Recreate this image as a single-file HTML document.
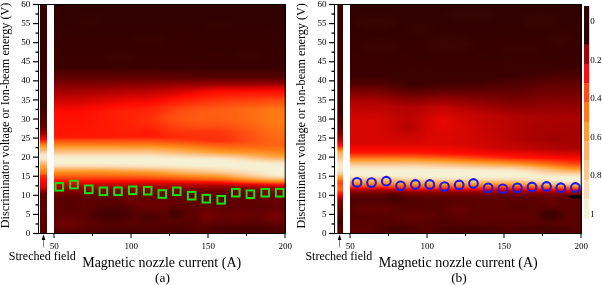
<!DOCTYPE html>
<html><head><meta charset="utf-8"><title>Figure</title>
<style>html,body{margin:0;padding:0;background:#fff}svg{display:block;font-family:"Liberation Serif",serif;fill:#000}</style>
</head><body>
<svg width="602" height="285" viewBox="0 0 602 285">
<defs>
<filter id="mb" x="-10%" y="-10%" width="120%" height="120%" color-interpolation-filters="sRGB"><feGaussianBlur stdDeviation="3.2"/></filter>
<filter id="hb" x="-5%" y="-5%" width="110%" height="110%" color-interpolation-filters="sRGB"><feGaussianBlur stdDeviation="4 0.6"/></filter>
<linearGradient id="am0" x1="0" y1="4" x2="0" y2="234" gradientUnits="userSpaceOnUse"><stop offset="0.0000" stop-color="#300000"/><stop offset="0.2739" stop-color="#3b0000"/><stop offset="0.3348" stop-color="#700000"/><stop offset="0.3733" stop-color="#9c0000"/><stop offset="0.4671" stop-color="#ff0a00"/><stop offset="0.4696" stop-color="#ff0c00"/><stop offset="0.5783" stop-color="#ff1703"/><stop offset="0.5928" stop-color="#ff4a10"/><stop offset="0.6043" stop-color="#ff6813"/><stop offset="0.6097" stop-color="#ff7a14"/><stop offset="0.6217" stop-color="#ff982b"/><stop offset="0.6236" stop-color="#ff9e30"/><stop offset="0.6350" stop-color="#ffb468"/><stop offset="0.6465" stop-color="#fcc890"/><stop offset="0.6522" stop-color="#fcd2a2"/><stop offset="0.6572" stop-color="#fcdcb4"/><stop offset="0.6652" stop-color="#f7eccc"/><stop offset="0.6704" stop-color="#f6f0d2"/><stop offset="0.6783" stop-color="#f7f2d6"/><stop offset="0.6913" stop-color="#f6f0d2"/><stop offset="0.6913" stop-color="#f6f0d2"/><stop offset="0.7043" stop-color="#fbdeb7"/><stop offset="0.7049" stop-color="#fcdcb4"/><stop offset="0.7114" stop-color="#fcc890"/><stop offset="0.7130" stop-color="#fdc386"/><stop offset="0.7174" stop-color="#ffb468"/><stop offset="0.7174" stop-color="#ffb468"/><stop offset="0.7267" stop-color="#ff9e30"/><stop offset="0.7304" stop-color="#ff9025"/><stop offset="0.7398" stop-color="#ff7a14"/><stop offset="0.7555" stop-color="#ff4a10"/><stop offset="0.7696" stop-color="#ff1002"/><stop offset="0.7720" stop-color="#ff0a00"/><stop offset="0.7913" stop-color="#b00200"/><stop offset="0.8005" stop-color="#9c0000"/><stop offset="0.8130" stop-color="#7e0000"/><stop offset="0.8435" stop-color="#5d0000"/><stop offset="0.9652" stop-color="#5d0000"/><stop offset="0.9957" stop-color="#500000"/><stop offset="1.0000" stop-color="#500000"/></linearGradient>
<linearGradient id="am1" x1="0" y1="4" x2="0" y2="234" gradientUnits="userSpaceOnUse"><stop offset="0.0000" stop-color="#300000"/><stop offset="0.2739" stop-color="#3b0000"/><stop offset="0.3348" stop-color="#700000"/><stop offset="0.3733" stop-color="#9c0000"/><stop offset="0.4671" stop-color="#ff0a00"/><stop offset="0.4696" stop-color="#ff0c00"/><stop offset="0.5783" stop-color="#ff1703"/><stop offset="0.5928" stop-color="#ff4a10"/><stop offset="0.6043" stop-color="#ff6813"/><stop offset="0.6097" stop-color="#ff7a14"/><stop offset="0.6217" stop-color="#ff982b"/><stop offset="0.6236" stop-color="#ff9e30"/><stop offset="0.6350" stop-color="#ffb468"/><stop offset="0.6465" stop-color="#fcc890"/><stop offset="0.6522" stop-color="#fcd2a2"/><stop offset="0.6572" stop-color="#fcdcb4"/><stop offset="0.6652" stop-color="#f7eccc"/><stop offset="0.6704" stop-color="#f6f0d2"/><stop offset="0.6783" stop-color="#f7f2d6"/><stop offset="0.6913" stop-color="#f6f0d2"/><stop offset="0.6913" stop-color="#f6f0d2"/><stop offset="0.7043" stop-color="#fbdeb7"/><stop offset="0.7049" stop-color="#fcdcb4"/><stop offset="0.7114" stop-color="#fcc890"/><stop offset="0.7130" stop-color="#fdc386"/><stop offset="0.7174" stop-color="#ffb468"/><stop offset="0.7174" stop-color="#ffb468"/><stop offset="0.7267" stop-color="#ff9e30"/><stop offset="0.7304" stop-color="#ff9025"/><stop offset="0.7398" stop-color="#ff7a14"/><stop offset="0.7555" stop-color="#ff4a10"/><stop offset="0.7696" stop-color="#ff1002"/><stop offset="0.7720" stop-color="#ff0a00"/><stop offset="0.7913" stop-color="#b00200"/><stop offset="0.8005" stop-color="#9c0000"/><stop offset="0.8130" stop-color="#7e0000"/><stop offset="0.8435" stop-color="#5d0000"/><stop offset="0.9652" stop-color="#5d0000"/><stop offset="0.9957" stop-color="#500000"/><stop offset="1.0000" stop-color="#500000"/></linearGradient>
<linearGradient id="am2" x1="0" y1="4" x2="0" y2="234" gradientUnits="userSpaceOnUse"><stop offset="0.0000" stop-color="#300000"/><stop offset="0.2739" stop-color="#3b0000"/><stop offset="0.3348" stop-color="#700000"/><stop offset="0.3732" stop-color="#9c0000"/><stop offset="0.4670" stop-color="#ff0a00"/><stop offset="0.4696" stop-color="#ff0c00"/><stop offset="0.5783" stop-color="#ff1703"/><stop offset="0.5928" stop-color="#ff4a10"/><stop offset="0.6043" stop-color="#ff6813"/><stop offset="0.6097" stop-color="#ff7a14"/><stop offset="0.6217" stop-color="#ff982b"/><stop offset="0.6236" stop-color="#ff9e30"/><stop offset="0.6350" stop-color="#ffb468"/><stop offset="0.6465" stop-color="#fcc890"/><stop offset="0.6522" stop-color="#fcd2a2"/><stop offset="0.6572" stop-color="#fcdcb4"/><stop offset="0.6652" stop-color="#f7eccc"/><stop offset="0.6704" stop-color="#f6f0d2"/><stop offset="0.6783" stop-color="#f7f2d6"/><stop offset="0.6913" stop-color="#f6f0d2"/><stop offset="0.6913" stop-color="#f6f0d2"/><stop offset="0.7043" stop-color="#fbdeb7"/><stop offset="0.7049" stop-color="#fcdcb4"/><stop offset="0.7114" stop-color="#fcc890"/><stop offset="0.7130" stop-color="#fdc386"/><stop offset="0.7174" stop-color="#ffb468"/><stop offset="0.7174" stop-color="#ffb468"/><stop offset="0.7267" stop-color="#ff9e30"/><stop offset="0.7304" stop-color="#ff9025"/><stop offset="0.7398" stop-color="#ff7a14"/><stop offset="0.7555" stop-color="#ff4a10"/><stop offset="0.7696" stop-color="#ff1002"/><stop offset="0.7720" stop-color="#ff0a00"/><stop offset="0.7913" stop-color="#b00200"/><stop offset="0.8005" stop-color="#9c0000"/><stop offset="0.8130" stop-color="#7e0000"/><stop offset="0.8435" stop-color="#5d0000"/><stop offset="0.9652" stop-color="#5d0000"/><stop offset="0.9957" stop-color="#500000"/><stop offset="1.0000" stop-color="#500000"/></linearGradient>
<linearGradient id="am3" x1="0" y1="4" x2="0" y2="234" gradientUnits="userSpaceOnUse"><stop offset="0.0000" stop-color="#300000"/><stop offset="0.2739" stop-color="#3b0000"/><stop offset="0.3348" stop-color="#700000"/><stop offset="0.3731" stop-color="#9c0000"/><stop offset="0.4667" stop-color="#ff0a00"/><stop offset="0.4696" stop-color="#ff0c00"/><stop offset="0.5783" stop-color="#ff1703"/><stop offset="0.5928" stop-color="#ff4a10"/><stop offset="0.6043" stop-color="#ff6813"/><stop offset="0.6097" stop-color="#ff7a14"/><stop offset="0.6217" stop-color="#ff982b"/><stop offset="0.6236" stop-color="#ff9e30"/><stop offset="0.6350" stop-color="#ffb468"/><stop offset="0.6465" stop-color="#fcc890"/><stop offset="0.6522" stop-color="#fcd2a2"/><stop offset="0.6572" stop-color="#fcdcb4"/><stop offset="0.6652" stop-color="#f7eccc"/><stop offset="0.6704" stop-color="#f6f0d2"/><stop offset="0.6783" stop-color="#f7f2d6"/><stop offset="0.6913" stop-color="#f6f0d2"/><stop offset="0.6913" stop-color="#f6f0d2"/><stop offset="0.7043" stop-color="#fbdeb7"/><stop offset="0.7049" stop-color="#fcdcb4"/><stop offset="0.7114" stop-color="#fcc890"/><stop offset="0.7130" stop-color="#fdc386"/><stop offset="0.7174" stop-color="#ffb468"/><stop offset="0.7174" stop-color="#ffb468"/><stop offset="0.7267" stop-color="#ff9e30"/><stop offset="0.7304" stop-color="#ff9025"/><stop offset="0.7398" stop-color="#ff7a14"/><stop offset="0.7555" stop-color="#ff4a10"/><stop offset="0.7696" stop-color="#ff1002"/><stop offset="0.7720" stop-color="#ff0a00"/><stop offset="0.7913" stop-color="#b00200"/><stop offset="0.8005" stop-color="#9c0000"/><stop offset="0.8130" stop-color="#7e0000"/><stop offset="0.8435" stop-color="#5d0000"/><stop offset="0.9652" stop-color="#5d0000"/><stop offset="0.9957" stop-color="#500000"/><stop offset="1.0000" stop-color="#500000"/></linearGradient>
<linearGradient id="am4" x1="0" y1="4" x2="0" y2="234" gradientUnits="userSpaceOnUse"><stop offset="0.0000" stop-color="#300000"/><stop offset="0.2739" stop-color="#3b0000"/><stop offset="0.3348" stop-color="#700000"/><stop offset="0.3729" stop-color="#9c0000"/><stop offset="0.4660" stop-color="#ff0a00"/><stop offset="0.4696" stop-color="#ff0c01"/><stop offset="0.5783" stop-color="#ff1703"/><stop offset="0.5928" stop-color="#ff4a10"/><stop offset="0.6043" stop-color="#ff6813"/><stop offset="0.6097" stop-color="#ff7a14"/><stop offset="0.6217" stop-color="#ff982b"/><stop offset="0.6236" stop-color="#ff9e30"/><stop offset="0.6350" stop-color="#ffb468"/><stop offset="0.6465" stop-color="#fcc890"/><stop offset="0.6522" stop-color="#fcd2a2"/><stop offset="0.6572" stop-color="#fcdcb4"/><stop offset="0.6652" stop-color="#f7eccc"/><stop offset="0.6704" stop-color="#f6f0d2"/><stop offset="0.6783" stop-color="#f7f2d6"/><stop offset="0.6913" stop-color="#f6f0d2"/><stop offset="0.6913" stop-color="#f6f0d2"/><stop offset="0.7043" stop-color="#fbdeb7"/><stop offset="0.7049" stop-color="#fcdcb4"/><stop offset="0.7114" stop-color="#fcc890"/><stop offset="0.7130" stop-color="#fdc386"/><stop offset="0.7174" stop-color="#ffb468"/><stop offset="0.7174" stop-color="#ffb468"/><stop offset="0.7267" stop-color="#ff9e30"/><stop offset="0.7304" stop-color="#ff9025"/><stop offset="0.7398" stop-color="#ff7a14"/><stop offset="0.7555" stop-color="#ff4a10"/><stop offset="0.7696" stop-color="#ff1002"/><stop offset="0.7720" stop-color="#ff0a00"/><stop offset="0.7913" stop-color="#b00200"/><stop offset="0.8005" stop-color="#9c0000"/><stop offset="0.8130" stop-color="#7e0000"/><stop offset="0.8435" stop-color="#5d0000"/><stop offset="0.9652" stop-color="#5d0000"/><stop offset="0.9957" stop-color="#500000"/><stop offset="1.0000" stop-color="#500000"/></linearGradient>
<linearGradient id="am5" x1="0" y1="4" x2="0" y2="234" gradientUnits="userSpaceOnUse"><stop offset="0.0000" stop-color="#300000"/><stop offset="0.2739" stop-color="#3b0000"/><stop offset="0.3348" stop-color="#700000"/><stop offset="0.3725" stop-color="#9c0000"/><stop offset="0.4646" stop-color="#ff0a00"/><stop offset="0.4696" stop-color="#ff0d01"/><stop offset="0.5783" stop-color="#ff1703"/><stop offset="0.5928" stop-color="#ff4a10"/><stop offset="0.6043" stop-color="#ff6813"/><stop offset="0.6097" stop-color="#ff7a14"/><stop offset="0.6217" stop-color="#ff982b"/><stop offset="0.6236" stop-color="#ff9e30"/><stop offset="0.6350" stop-color="#ffb468"/><stop offset="0.6465" stop-color="#fcc890"/><stop offset="0.6522" stop-color="#fcd2a2"/><stop offset="0.6572" stop-color="#fcdcb4"/><stop offset="0.6652" stop-color="#f7eccc"/><stop offset="0.6704" stop-color="#f6f0d2"/><stop offset="0.6783" stop-color="#f7f2d6"/><stop offset="0.6913" stop-color="#f6f0d2"/><stop offset="0.6913" stop-color="#f6f0d2"/><stop offset="0.7043" stop-color="#fbdeb7"/><stop offset="0.7049" stop-color="#fcdcb4"/><stop offset="0.7114" stop-color="#fcc890"/><stop offset="0.7130" stop-color="#fdc386"/><stop offset="0.7174" stop-color="#ffb468"/><stop offset="0.7174" stop-color="#ffb468"/><stop offset="0.7267" stop-color="#ff9e30"/><stop offset="0.7304" stop-color="#ff9025"/><stop offset="0.7398" stop-color="#ff7a14"/><stop offset="0.7555" stop-color="#ff4a10"/><stop offset="0.7696" stop-color="#ff1002"/><stop offset="0.7720" stop-color="#ff0a00"/><stop offset="0.7913" stop-color="#b00200"/><stop offset="0.8005" stop-color="#9c0000"/><stop offset="0.8130" stop-color="#7e0000"/><stop offset="0.8435" stop-color="#5d0000"/><stop offset="0.9652" stop-color="#5d0000"/><stop offset="0.9957" stop-color="#500000"/><stop offset="1.0000" stop-color="#500000"/></linearGradient>
<linearGradient id="am6" x1="0" y1="4" x2="0" y2="234" gradientUnits="userSpaceOnUse"><stop offset="0.0000" stop-color="#300000"/><stop offset="0.2739" stop-color="#3b0000"/><stop offset="0.3348" stop-color="#700000"/><stop offset="0.3718" stop-color="#9c0000"/><stop offset="0.4621" stop-color="#ff0a00"/><stop offset="0.4696" stop-color="#ff0f01"/><stop offset="0.5783" stop-color="#ff1703"/><stop offset="0.5928" stop-color="#ff4a10"/><stop offset="0.6043" stop-color="#ff6813"/><stop offset="0.6097" stop-color="#ff7a14"/><stop offset="0.6217" stop-color="#ff982b"/><stop offset="0.6236" stop-color="#ff9e30"/><stop offset="0.6350" stop-color="#ffb468"/><stop offset="0.6465" stop-color="#fcc890"/><stop offset="0.6522" stop-color="#fcd2a2"/><stop offset="0.6572" stop-color="#fcdcb4"/><stop offset="0.6652" stop-color="#f7eccc"/><stop offset="0.6704" stop-color="#f6f0d2"/><stop offset="0.6783" stop-color="#f7f2d6"/><stop offset="0.6913" stop-color="#f6f0d2"/><stop offset="0.6913" stop-color="#f6f0d2"/><stop offset="0.7043" stop-color="#fbdeb7"/><stop offset="0.7049" stop-color="#fcdcb4"/><stop offset="0.7114" stop-color="#fcc890"/><stop offset="0.7130" stop-color="#fdc386"/><stop offset="0.7174" stop-color="#ffb468"/><stop offset="0.7174" stop-color="#ffb468"/><stop offset="0.7267" stop-color="#ff9e30"/><stop offset="0.7304" stop-color="#ff9025"/><stop offset="0.7398" stop-color="#ff7a14"/><stop offset="0.7555" stop-color="#ff4a10"/><stop offset="0.7696" stop-color="#ff1002"/><stop offset="0.7720" stop-color="#ff0a00"/><stop offset="0.7913" stop-color="#b00200"/><stop offset="0.8005" stop-color="#9c0000"/><stop offset="0.8130" stop-color="#7e0000"/><stop offset="0.8435" stop-color="#5d0000"/><stop offset="0.9652" stop-color="#5d0000"/><stop offset="0.9957" stop-color="#500000"/><stop offset="1.0000" stop-color="#500000"/></linearGradient>
<linearGradient id="am7" x1="0" y1="4" x2="0" y2="234" gradientUnits="userSpaceOnUse"><stop offset="0.0000" stop-color="#300000"/><stop offset="0.2739" stop-color="#3b0000"/><stop offset="0.3348" stop-color="#700000"/><stop offset="0.3699" stop-color="#9c0000"/><stop offset="0.4557" stop-color="#ff0a00"/><stop offset="0.4652" stop-color="#ff1102"/><stop offset="0.5783" stop-color="#ff1703"/><stop offset="0.5928" stop-color="#ff4a10"/><stop offset="0.6043" stop-color="#ff6813"/><stop offset="0.6096" stop-color="#ff7a14"/><stop offset="0.6217" stop-color="#ff982b"/><stop offset="0.6236" stop-color="#ff9e30"/><stop offset="0.6350" stop-color="#ffb468"/><stop offset="0.6465" stop-color="#fcc890"/><stop offset="0.6522" stop-color="#fcd2a2"/><stop offset="0.6572" stop-color="#fcdcb4"/><stop offset="0.6652" stop-color="#f7eccc"/><stop offset="0.6704" stop-color="#f6f0d2"/><stop offset="0.6783" stop-color="#f7f2d6"/><stop offset="0.6913" stop-color="#f6f0d2"/><stop offset="0.6913" stop-color="#f6f0d2"/><stop offset="0.7043" stop-color="#fbdeb7"/><stop offset="0.7049" stop-color="#fcdcb4"/><stop offset="0.7114" stop-color="#fcc890"/><stop offset="0.7130" stop-color="#fdc386"/><stop offset="0.7174" stop-color="#ffb468"/><stop offset="0.7174" stop-color="#ffb468"/><stop offset="0.7267" stop-color="#ff9e30"/><stop offset="0.7304" stop-color="#ff9025"/><stop offset="0.7398" stop-color="#ff7a14"/><stop offset="0.7555" stop-color="#ff4a10"/><stop offset="0.7696" stop-color="#ff1002"/><stop offset="0.7720" stop-color="#ff0a00"/><stop offset="0.7913" stop-color="#b00200"/><stop offset="0.8005" stop-color="#9c0000"/><stop offset="0.8130" stop-color="#7e0000"/><stop offset="0.8435" stop-color="#5d0000"/><stop offset="0.9652" stop-color="#5d0000"/><stop offset="0.9957" stop-color="#500000"/><stop offset="1.0000" stop-color="#500000"/></linearGradient>
<linearGradient id="am8" x1="0" y1="4" x2="0" y2="234" gradientUnits="userSpaceOnUse"><stop offset="0.0000" stop-color="#300000"/><stop offset="0.2739" stop-color="#3b0000"/><stop offset="0.3348" stop-color="#700000"/><stop offset="0.3689" stop-color="#9c0000"/><stop offset="0.4174" stop-color="#d60600"/><stop offset="0.4540" stop-color="#ff0a00"/><stop offset="0.4696" stop-color="#ff1503"/><stop offset="0.5783" stop-color="#ff1703"/><stop offset="0.5928" stop-color="#ff4a10"/><stop offset="0.6043" stop-color="#ff6813"/><stop offset="0.6096" stop-color="#ff7a14"/><stop offset="0.6217" stop-color="#ff982b"/><stop offset="0.6236" stop-color="#ff9e30"/><stop offset="0.6350" stop-color="#ffb468"/><stop offset="0.6465" stop-color="#fcc890"/><stop offset="0.6522" stop-color="#fcd2a2"/><stop offset="0.6572" stop-color="#fcdcb4"/><stop offset="0.6652" stop-color="#f7eccc"/><stop offset="0.6704" stop-color="#f6f0d2"/><stop offset="0.6783" stop-color="#f7f2d6"/><stop offset="0.6913" stop-color="#f6f0d2"/><stop offset="0.6913" stop-color="#f6f0d2"/><stop offset="0.7043" stop-color="#fbdeb7"/><stop offset="0.7049" stop-color="#fcdcb4"/><stop offset="0.7114" stop-color="#fcc890"/><stop offset="0.7130" stop-color="#fdc386"/><stop offset="0.7174" stop-color="#ffb468"/><stop offset="0.7174" stop-color="#ffb468"/><stop offset="0.7267" stop-color="#ff9e30"/><stop offset="0.7304" stop-color="#ff9025"/><stop offset="0.7398" stop-color="#ff7a14"/><stop offset="0.7555" stop-color="#ff4a10"/><stop offset="0.7696" stop-color="#ff1002"/><stop offset="0.7720" stop-color="#ff0a00"/><stop offset="0.7913" stop-color="#b00200"/><stop offset="0.8005" stop-color="#9c0000"/><stop offset="0.8130" stop-color="#7e0000"/><stop offset="0.8435" stop-color="#5d0000"/><stop offset="0.9652" stop-color="#5d0000"/><stop offset="0.9957" stop-color="#500000"/><stop offset="1.0000" stop-color="#500000"/></linearGradient>
<linearGradient id="am9" x1="0" y1="4" x2="0" y2="234" gradientUnits="userSpaceOnUse"><stop offset="0.0000" stop-color="#300000"/><stop offset="0.2739" stop-color="#3b0000"/><stop offset="0.3348" stop-color="#700000"/><stop offset="0.3672" stop-color="#9c0000"/><stop offset="0.4130" stop-color="#d50600"/><stop offset="0.4465" stop-color="#ff0a00"/><stop offset="0.4652" stop-color="#ff1904"/><stop offset="0.5783" stop-color="#ff1803"/><stop offset="0.5927" stop-color="#ff4a10"/><stop offset="0.6043" stop-color="#ff6813"/><stop offset="0.6096" stop-color="#ff7a14"/><stop offset="0.6217" stop-color="#ff982b"/><stop offset="0.6236" stop-color="#ff9e30"/><stop offset="0.6350" stop-color="#ffb468"/><stop offset="0.6465" stop-color="#fcc890"/><stop offset="0.6522" stop-color="#fcd2a2"/><stop offset="0.6572" stop-color="#fcdcb4"/><stop offset="0.6652" stop-color="#f7eccc"/><stop offset="0.6704" stop-color="#f6f0d2"/><stop offset="0.6783" stop-color="#f7f2d6"/><stop offset="0.6913" stop-color="#f6f0d2"/><stop offset="0.6914" stop-color="#f6f0d2"/><stop offset="0.7043" stop-color="#fbdeb8"/><stop offset="0.7053" stop-color="#fcdcb4"/><stop offset="0.7087" stop-color="#fcd3a4"/><stop offset="0.7120" stop-color="#fcc890"/><stop offset="0.7174" stop-color="#ffb66b"/><stop offset="0.7182" stop-color="#ffb468"/><stop offset="0.7273" stop-color="#ff9e30"/><stop offset="0.7304" stop-color="#ff9226"/><stop offset="0.7405" stop-color="#ff7a14"/><stop offset="0.7557" stop-color="#ff4a10"/><stop offset="0.7696" stop-color="#ff1001"/><stop offset="0.7717" stop-color="#ff0a00"/><stop offset="0.7913" stop-color="#af0200"/><stop offset="0.8003" stop-color="#9c0000"/><stop offset="0.8130" stop-color="#7e0000"/><stop offset="0.8435" stop-color="#5d0000"/><stop offset="0.9652" stop-color="#5d0000"/><stop offset="0.9957" stop-color="#500000"/><stop offset="1.0000" stop-color="#500000"/></linearGradient>
<linearGradient id="am10" x1="0" y1="4" x2="0" y2="234" gradientUnits="userSpaceOnUse"><stop offset="0.0000" stop-color="#300000"/><stop offset="0.2739" stop-color="#3b0000"/><stop offset="0.3348" stop-color="#700000"/><stop offset="0.3655" stop-color="#9c0000"/><stop offset="0.4130" stop-color="#da0600"/><stop offset="0.4420" stop-color="#ff0a00"/><stop offset="0.4652" stop-color="#ff1d05"/><stop offset="0.5783" stop-color="#ff1904"/><stop offset="0.5925" stop-color="#ff4a10"/><stop offset="0.6043" stop-color="#ff6813"/><stop offset="0.6096" stop-color="#ff7a14"/><stop offset="0.6217" stop-color="#ff982b"/><stop offset="0.6236" stop-color="#ff9e30"/><stop offset="0.6350" stop-color="#ffb468"/><stop offset="0.6465" stop-color="#fcc890"/><stop offset="0.6522" stop-color="#fcd2a2"/><stop offset="0.6572" stop-color="#fcdcb4"/><stop offset="0.6652" stop-color="#f7eccc"/><stop offset="0.6704" stop-color="#f6f0d2"/><stop offset="0.6783" stop-color="#f7f2d6"/><stop offset="0.6913" stop-color="#f6f0d2"/><stop offset="0.6916" stop-color="#f6f0d2"/><stop offset="0.7043" stop-color="#fbdfb9"/><stop offset="0.7056" stop-color="#fcdcb4"/><stop offset="0.7087" stop-color="#fcd4a6"/><stop offset="0.7124" stop-color="#fcc890"/><stop offset="0.7174" stop-color="#feb86f"/><stop offset="0.7190" stop-color="#ffb468"/><stop offset="0.7280" stop-color="#ff9e30"/><stop offset="0.7304" stop-color="#ff9428"/><stop offset="0.7411" stop-color="#ff7a14"/><stop offset="0.7559" stop-color="#ff4a10"/><stop offset="0.7696" stop-color="#ff0f01"/><stop offset="0.7713" stop-color="#ff0a00"/><stop offset="0.7870" stop-color="#bd0300"/><stop offset="0.7994" stop-color="#9c0000"/><stop offset="0.8043" stop-color="#8e0000"/><stop offset="0.8435" stop-color="#5d0000"/><stop offset="0.9652" stop-color="#5d0000"/><stop offset="0.9957" stop-color="#500000"/><stop offset="1.0000" stop-color="#500000"/></linearGradient>
<linearGradient id="am11" x1="0" y1="4" x2="0" y2="234" gradientUnits="userSpaceOnUse"><stop offset="0.0000" stop-color="#300000"/><stop offset="0.2739" stop-color="#3b0000"/><stop offset="0.3348" stop-color="#710000"/><stop offset="0.3641" stop-color="#9c0000"/><stop offset="0.4130" stop-color="#de0700"/><stop offset="0.4385" stop-color="#ff0a00"/><stop offset="0.4652" stop-color="#ff2006"/><stop offset="0.5261" stop-color="#ff1e05"/><stop offset="0.5783" stop-color="#ff1a04"/><stop offset="0.5924" stop-color="#ff4a10"/><stop offset="0.6043" stop-color="#ff6813"/><stop offset="0.6096" stop-color="#ff7a14"/><stop offset="0.6217" stop-color="#ff982b"/><stop offset="0.6236" stop-color="#ff9e30"/><stop offset="0.6350" stop-color="#ffb468"/><stop offset="0.6465" stop-color="#fcc890"/><stop offset="0.6522" stop-color="#fcd2a2"/><stop offset="0.6572" stop-color="#fcdcb4"/><stop offset="0.6652" stop-color="#f7eccc"/><stop offset="0.6704" stop-color="#f6f0d2"/><stop offset="0.6783" stop-color="#f7f2d6"/><stop offset="0.6913" stop-color="#f6f0d2"/><stop offset="0.6918" stop-color="#f6f0d2"/><stop offset="0.7000" stop-color="#f9e6c3"/><stop offset="0.7043" stop-color="#fbe0ba"/><stop offset="0.7060" stop-color="#fcdcb4"/><stop offset="0.7087" stop-color="#fcd6a9"/><stop offset="0.7129" stop-color="#fcc890"/><stop offset="0.7174" stop-color="#feb973"/><stop offset="0.7198" stop-color="#ffb468"/><stop offset="0.7286" stop-color="#ff9e30"/><stop offset="0.7304" stop-color="#ff962a"/><stop offset="0.7418" stop-color="#ff7a14"/><stop offset="0.7561" stop-color="#ff4a10"/><stop offset="0.7696" stop-color="#ff0e01"/><stop offset="0.7710" stop-color="#ff0a00"/><stop offset="0.7870" stop-color="#bc0300"/><stop offset="0.8002" stop-color="#9c0000"/><stop offset="0.8087" stop-color="#860000"/><stop offset="0.8435" stop-color="#5d0000"/><stop offset="0.9652" stop-color="#5d0000"/><stop offset="0.9957" stop-color="#500000"/><stop offset="1.0000" stop-color="#500000"/></linearGradient>
<linearGradient id="am12" x1="0" y1="4" x2="0" y2="234" gradientUnits="userSpaceOnUse"><stop offset="0.0000" stop-color="#300000"/><stop offset="0.2739" stop-color="#3b0000"/><stop offset="0.3304" stop-color="#6b0000"/><stop offset="0.3626" stop-color="#9c0000"/><stop offset="0.4130" stop-color="#e20700"/><stop offset="0.4361" stop-color="#ff0a00"/><stop offset="0.4652" stop-color="#ff2206"/><stop offset="0.5174" stop-color="#ff2206"/><stop offset="0.5783" stop-color="#ff1b04"/><stop offset="0.5928" stop-color="#ff4a10"/><stop offset="0.6000" stop-color="#ff5c11"/><stop offset="0.6099" stop-color="#ff7a14"/><stop offset="0.6174" stop-color="#ff8b21"/><stop offset="0.6234" stop-color="#ff9e30"/><stop offset="0.6350" stop-color="#ffb468"/><stop offset="0.6466" stop-color="#fcc890"/><stop offset="0.6478" stop-color="#fcca94"/><stop offset="0.6570" stop-color="#fcdcb4"/><stop offset="0.6652" stop-color="#f7eccc"/><stop offset="0.6704" stop-color="#f6f0d2"/><stop offset="0.6783" stop-color="#f7f2d6"/><stop offset="0.6902" stop-color="#f6f0d2"/><stop offset="0.6957" stop-color="#f7edce"/><stop offset="0.7043" stop-color="#fbe0bb"/><stop offset="0.7065" stop-color="#fcdcb4"/><stop offset="0.7087" stop-color="#fcd7ac"/><stop offset="0.7135" stop-color="#fcc890"/><stop offset="0.7174" stop-color="#febb77"/><stop offset="0.7204" stop-color="#ffb468"/><stop offset="0.7261" stop-color="#ffa542"/><stop offset="0.7294" stop-color="#ff9e30"/><stop offset="0.7348" stop-color="#ff8b21"/><stop offset="0.7417" stop-color="#ff7a14"/><stop offset="0.7562" stop-color="#ff4a10"/><stop offset="0.7652" stop-color="#ff2306"/><stop offset="0.7696" stop-color="#ff0d01"/><stop offset="0.7706" stop-color="#ff0a00"/><stop offset="0.7870" stop-color="#bb0300"/><stop offset="0.8000" stop-color="#9c0000"/><stop offset="0.8087" stop-color="#860000"/><stop offset="0.8435" stop-color="#5d0000"/><stop offset="0.9652" stop-color="#5d0000"/><stop offset="0.9957" stop-color="#500000"/><stop offset="1.0000" stop-color="#500000"/></linearGradient>
<linearGradient id="am13" x1="0" y1="4" x2="0" y2="234" gradientUnits="userSpaceOnUse"><stop offset="0.0000" stop-color="#300000"/><stop offset="0.2739" stop-color="#3b0000"/><stop offset="0.3304" stop-color="#6c0000"/><stop offset="0.3615" stop-color="#9c0000"/><stop offset="0.4217" stop-color="#f20900"/><stop offset="0.4336" stop-color="#ff0a00"/><stop offset="0.4696" stop-color="#ff2406"/><stop offset="0.5174" stop-color="#ff2406"/><stop offset="0.5783" stop-color="#ff1b04"/><stop offset="0.5928" stop-color="#ff4a10"/><stop offset="0.6000" stop-color="#ff5c11"/><stop offset="0.6099" stop-color="#ff7a14"/><stop offset="0.6174" stop-color="#ff8b21"/><stop offset="0.6234" stop-color="#ff9e30"/><stop offset="0.6350" stop-color="#ffb468"/><stop offset="0.6466" stop-color="#fcc890"/><stop offset="0.6478" stop-color="#fcca94"/><stop offset="0.6570" stop-color="#fcdcb4"/><stop offset="0.6652" stop-color="#f7eccc"/><stop offset="0.6704" stop-color="#f6f0d2"/><stop offset="0.6783" stop-color="#f7f2d6"/><stop offset="0.6915" stop-color="#f6f0d2"/><stop offset="0.6957" stop-color="#f7eecf"/><stop offset="0.7067" stop-color="#fcdcb4"/><stop offset="0.7087" stop-color="#fcd9ae"/><stop offset="0.7142" stop-color="#fcc890"/><stop offset="0.7208" stop-color="#ffb468"/><stop offset="0.7217" stop-color="#ffb160"/><stop offset="0.7300" stop-color="#ff9e30"/><stop offset="0.7348" stop-color="#ff8c22"/><stop offset="0.7421" stop-color="#ff7a14"/><stop offset="0.7565" stop-color="#ff4a10"/><stop offset="0.7652" stop-color="#ff2306"/><stop offset="0.7696" stop-color="#ff0c00"/><stop offset="0.7703" stop-color="#ff0a00"/><stop offset="0.7870" stop-color="#ba0300"/><stop offset="0.7998" stop-color="#9c0000"/><stop offset="0.8087" stop-color="#860000"/><stop offset="0.8435" stop-color="#5d0000"/><stop offset="0.9652" stop-color="#5d0000"/><stop offset="0.9957" stop-color="#500000"/><stop offset="1.0000" stop-color="#500000"/></linearGradient>
<linearGradient id="am14" x1="0" y1="4" x2="0" y2="234" gradientUnits="userSpaceOnUse"><stop offset="0.0000" stop-color="#300000"/><stop offset="0.2739" stop-color="#3b0000"/><stop offset="0.3304" stop-color="#6c0000"/><stop offset="0.3621" stop-color="#9c0000"/><stop offset="0.4331" stop-color="#ff0a00"/><stop offset="0.4565" stop-color="#ff1f05"/><stop offset="0.5043" stop-color="#ff2a08"/><stop offset="0.5652" stop-color="#ff1803"/><stop offset="0.5783" stop-color="#ff1a04"/><stop offset="0.5929" stop-color="#ff4a10"/><stop offset="0.6000" stop-color="#ff5b11"/><stop offset="0.6099" stop-color="#ff7a14"/><stop offset="0.6174" stop-color="#ff8b21"/><stop offset="0.6234" stop-color="#ff9e30"/><stop offset="0.6350" stop-color="#ffb468"/><stop offset="0.6466" stop-color="#fcc890"/><stop offset="0.6478" stop-color="#fcca94"/><stop offset="0.6570" stop-color="#fcdcb4"/><stop offset="0.6652" stop-color="#f7eccc"/><stop offset="0.6704" stop-color="#f6f0d2"/><stop offset="0.6783" stop-color="#f7f2d6"/><stop offset="0.6931" stop-color="#f6f0d2"/><stop offset="0.6957" stop-color="#f6efd0"/><stop offset="0.7076" stop-color="#fcdcb4"/><stop offset="0.7087" stop-color="#fcdab1"/><stop offset="0.7147" stop-color="#fcc890"/><stop offset="0.7212" stop-color="#ffb468"/><stop offset="0.7217" stop-color="#ffb264"/><stop offset="0.7305" stop-color="#ff9e30"/><stop offset="0.7348" stop-color="#ff8e23"/><stop offset="0.7429" stop-color="#ff7a14"/><stop offset="0.7575" stop-color="#ff4a10"/><stop offset="0.7609" stop-color="#ff3b0c"/><stop offset="0.7696" stop-color="#ff0b00"/><stop offset="0.7700" stop-color="#ff0a00"/><stop offset="0.7870" stop-color="#b90300"/><stop offset="0.7996" stop-color="#9c0000"/><stop offset="0.8087" stop-color="#850000"/><stop offset="0.8435" stop-color="#5d0000"/><stop offset="0.9652" stop-color="#5d0000"/><stop offset="0.9957" stop-color="#500000"/><stop offset="1.0000" stop-color="#500000"/></linearGradient>
<linearGradient id="am15" x1="0" y1="4" x2="0" y2="234" gradientUnits="userSpaceOnUse"><stop offset="0.0000" stop-color="#300000"/><stop offset="0.2739" stop-color="#3b0000"/><stop offset="0.3304" stop-color="#6c0000"/><stop offset="0.3597" stop-color="#9c0000"/><stop offset="0.3957" stop-color="#d20500"/><stop offset="0.4309" stop-color="#ff0a00"/><stop offset="0.4609" stop-color="#ff2306"/><stop offset="0.5087" stop-color="#ff2d09"/><stop offset="0.5609" stop-color="#ff1603"/><stop offset="0.5783" stop-color="#ff1904"/><stop offset="0.5930" stop-color="#ff4a10"/><stop offset="0.6000" stop-color="#ff5b11"/><stop offset="0.6099" stop-color="#ff7a14"/><stop offset="0.6174" stop-color="#ff8b21"/><stop offset="0.6234" stop-color="#ff9e30"/><stop offset="0.6350" stop-color="#ffb468"/><stop offset="0.6466" stop-color="#fcc890"/><stop offset="0.6478" stop-color="#fcca94"/><stop offset="0.6570" stop-color="#fcdcb4"/><stop offset="0.6652" stop-color="#f7eccc"/><stop offset="0.6704" stop-color="#f6f0d2"/><stop offset="0.6783" stop-color="#f7f2d6"/><stop offset="0.6951" stop-color="#f6f0d2"/><stop offset="0.6957" stop-color="#f6f0d2"/><stop offset="0.7085" stop-color="#fcdcb4"/><stop offset="0.7087" stop-color="#fcdcb3"/><stop offset="0.7151" stop-color="#fcc890"/><stop offset="0.7216" stop-color="#ffb468"/><stop offset="0.7217" stop-color="#ffb467"/><stop offset="0.7310" stop-color="#ff9e30"/><stop offset="0.7348" stop-color="#ff8f25"/><stop offset="0.7434" stop-color="#ff7a14"/><stop offset="0.7579" stop-color="#ff4a10"/><stop offset="0.7609" stop-color="#ff3d0d"/><stop offset="0.7696" stop-color="#ff0a00"/><stop offset="0.7696" stop-color="#ff0a00"/><stop offset="0.7870" stop-color="#b80300"/><stop offset="0.7994" stop-color="#9c0000"/><stop offset="0.8087" stop-color="#850000"/><stop offset="0.8435" stop-color="#5d0000"/><stop offset="0.9652" stop-color="#5d0000"/><stop offset="0.9957" stop-color="#500000"/><stop offset="1.0000" stop-color="#500000"/></linearGradient>
<linearGradient id="am16" x1="0" y1="4" x2="0" y2="234" gradientUnits="userSpaceOnUse"><stop offset="0.0000" stop-color="#300000"/><stop offset="0.2739" stop-color="#3b0000"/><stop offset="0.3304" stop-color="#6c0000"/><stop offset="0.3595" stop-color="#9c0000"/><stop offset="0.4248" stop-color="#ff0a00"/><stop offset="0.4522" stop-color="#ff2507"/><stop offset="0.5043" stop-color="#ff360b"/><stop offset="0.5609" stop-color="#ff1b04"/><stop offset="0.5783" stop-color="#ff1c05"/><stop offset="0.5933" stop-color="#ff4a10"/><stop offset="0.6000" stop-color="#ff5911"/><stop offset="0.6109" stop-color="#ff7a14"/><stop offset="0.6174" stop-color="#ff881f"/><stop offset="0.6245" stop-color="#ff9e30"/><stop offset="0.6364" stop-color="#ffb468"/><stop offset="0.6478" stop-color="#fcc78e"/><stop offset="0.6482" stop-color="#fcc890"/><stop offset="0.6582" stop-color="#fcdcb4"/><stop offset="0.6652" stop-color="#f8eac9"/><stop offset="0.6719" stop-color="#f6f0d2"/><stop offset="0.6783" stop-color="#f7f2d6"/><stop offset="0.6957" stop-color="#f6f0d2"/><stop offset="0.6959" stop-color="#f6f0d2"/><stop offset="0.7087" stop-color="#fcddb6"/><stop offset="0.7091" stop-color="#fcdcb4"/><stop offset="0.7160" stop-color="#fcc890"/><stop offset="0.7217" stop-color="#ffb76e"/><stop offset="0.7232" stop-color="#ffb468"/><stop offset="0.7325" stop-color="#ff9e30"/><stop offset="0.7348" stop-color="#ff9529"/><stop offset="0.7453" stop-color="#ff7a14"/><stop offset="0.7592" stop-color="#ff4a10"/><stop offset="0.7609" stop-color="#ff420e"/><stop offset="0.7696" stop-color="#ff0e01"/><stop offset="0.7708" stop-color="#ff0a00"/><stop offset="0.7870" stop-color="#b70300"/><stop offset="0.7989" stop-color="#9c0000"/><stop offset="0.8087" stop-color="#840000"/><stop offset="0.8435" stop-color="#5d0000"/><stop offset="0.9696" stop-color="#590000"/><stop offset="1.0000" stop-color="#510000"/></linearGradient>
<linearGradient id="am17" x1="0" y1="4" x2="0" y2="234" gradientUnits="userSpaceOnUse"><stop offset="0.0000" stop-color="#300000"/><stop offset="0.2739" stop-color="#3b0000"/><stop offset="0.3261" stop-color="#650000"/><stop offset="0.3571" stop-color="#9c0000"/><stop offset="0.4184" stop-color="#ff0a00"/><stop offset="0.4522" stop-color="#ff2d09"/><stop offset="0.5000" stop-color="#ff410e"/><stop offset="0.5696" stop-color="#ff2206"/><stop offset="0.5783" stop-color="#ff2106"/><stop offset="0.5953" stop-color="#ff4a10"/><stop offset="0.5957" stop-color="#ff4b10"/><stop offset="0.6123" stop-color="#ff7a14"/><stop offset="0.6174" stop-color="#ff851c"/><stop offset="0.6262" stop-color="#ff9e30"/><stop offset="0.6388" stop-color="#ffb468"/><stop offset="0.6435" stop-color="#febc77"/><stop offset="0.6496" stop-color="#fcc890"/><stop offset="0.6594" stop-color="#fcdcb4"/><stop offset="0.6652" stop-color="#f8e8c6"/><stop offset="0.6733" stop-color="#f6f0d2"/><stop offset="0.6783" stop-color="#f7f2d6"/><stop offset="0.6957" stop-color="#f6f0d3"/><stop offset="0.6963" stop-color="#f6f0d2"/><stop offset="0.7087" stop-color="#fbdfb8"/><stop offset="0.7098" stop-color="#fcdcb4"/><stop offset="0.7170" stop-color="#fcc890"/><stop offset="0.7217" stop-color="#febb76"/><stop offset="0.7250" stop-color="#ffb468"/><stop offset="0.7344" stop-color="#ff9e30"/><stop offset="0.7348" stop-color="#ff9d2f"/><stop offset="0.7474" stop-color="#ff7a14"/><stop offset="0.7605" stop-color="#ff4a10"/><stop offset="0.7609" stop-color="#ff4810"/><stop offset="0.7696" stop-color="#ff1202"/><stop offset="0.7721" stop-color="#ff0a00"/><stop offset="0.7870" stop-color="#b70300"/><stop offset="0.7984" stop-color="#9c0000"/><stop offset="0.8087" stop-color="#820000"/><stop offset="0.8435" stop-color="#5d0000"/><stop offset="0.9696" stop-color="#590000"/><stop offset="1.0000" stop-color="#520000"/></linearGradient>
<linearGradient id="am18" x1="0" y1="4" x2="0" y2="234" gradientUnits="userSpaceOnUse"><stop offset="0.0000" stop-color="#300000"/><stop offset="0.2783" stop-color="#3c0000"/><stop offset="0.3261" stop-color="#650000"/><stop offset="0.3553" stop-color="#9c0000"/><stop offset="0.4127" stop-color="#ff0a00"/><stop offset="0.4522" stop-color="#ff360b"/><stop offset="0.4950" stop-color="#ff4a10"/><stop offset="0.4957" stop-color="#ff4a10"/><stop offset="0.4963" stop-color="#ff4a10"/><stop offset="0.5348" stop-color="#ff380c"/><stop offset="0.5783" stop-color="#ff2507"/><stop offset="0.5957" stop-color="#ff480f"/><stop offset="0.5962" stop-color="#ff4a10"/><stop offset="0.6131" stop-color="#ff7a14"/><stop offset="0.6217" stop-color="#ff8c22"/><stop offset="0.6279" stop-color="#ff9e30"/><stop offset="0.6404" stop-color="#ffb468"/><stop offset="0.6478" stop-color="#fdc080"/><stop offset="0.6516" stop-color="#fcc890"/><stop offset="0.6609" stop-color="#fcdcb4"/><stop offset="0.6652" stop-color="#f9e5c2"/><stop offset="0.6744" stop-color="#f6f0d2"/><stop offset="0.6783" stop-color="#f6f1d5"/><stop offset="0.6957" stop-color="#f6f0d3"/><stop offset="0.6967" stop-color="#f6f0d2"/><stop offset="0.7087" stop-color="#fbe1bb"/><stop offset="0.7105" stop-color="#fcdcb4"/><stop offset="0.7182" stop-color="#fcc890"/><stop offset="0.7217" stop-color="#fdbf7e"/><stop offset="0.7272" stop-color="#ffb468"/><stop offset="0.7371" stop-color="#ff9e30"/><stop offset="0.7391" stop-color="#ff972a"/><stop offset="0.7492" stop-color="#ff7a14"/><stop offset="0.7609" stop-color="#ff4d10"/><stop offset="0.7616" stop-color="#ff4a10"/><stop offset="0.7696" stop-color="#ff1703"/><stop offset="0.7733" stop-color="#ff0a00"/><stop offset="0.7870" stop-color="#b60300"/><stop offset="0.7979" stop-color="#9c0000"/><stop offset="0.8087" stop-color="#800000"/><stop offset="0.8435" stop-color="#5e0000"/><stop offset="0.9696" stop-color="#590000"/><stop offset="1.0000" stop-color="#530000"/></linearGradient>
<linearGradient id="am19" x1="0" y1="4" x2="0" y2="234" gradientUnits="userSpaceOnUse"><stop offset="0.0000" stop-color="#300000"/><stop offset="0.2783" stop-color="#3c0000"/><stop offset="0.3261" stop-color="#640000"/><stop offset="0.3531" stop-color="#9c0000"/><stop offset="0.3696" stop-color="#bb0300"/><stop offset="0.4088" stop-color="#ff0a00"/><stop offset="0.4652" stop-color="#ff4910"/><stop offset="0.4688" stop-color="#ff4a10"/><stop offset="0.5043" stop-color="#ff5111"/><stop offset="0.5196" stop-color="#ff4a10"/><stop offset="0.5696" stop-color="#ff2b08"/><stop offset="0.5783" stop-color="#ff2808"/><stop offset="0.5957" stop-color="#ff450f"/><stop offset="0.5971" stop-color="#ff4a10"/><stop offset="0.6149" stop-color="#ff7a14"/><stop offset="0.6217" stop-color="#ff881f"/><stop offset="0.6296" stop-color="#ff9e30"/><stop offset="0.6426" stop-color="#ffb468"/><stop offset="0.6478" stop-color="#febc78"/><stop offset="0.6532" stop-color="#fcc890"/><stop offset="0.6621" stop-color="#fcdcb4"/><stop offset="0.6652" stop-color="#fae3be"/><stop offset="0.6752" stop-color="#f6f0d2"/><stop offset="0.6783" stop-color="#f6f1d5"/><stop offset="0.6957" stop-color="#f6f1d3"/><stop offset="0.6972" stop-color="#f6f0d2"/><stop offset="0.7087" stop-color="#fae2bd"/><stop offset="0.7113" stop-color="#fcdcb4"/><stop offset="0.7196" stop-color="#fcc890"/><stop offset="0.7217" stop-color="#fdc386"/><stop offset="0.7291" stop-color="#ffb468"/><stop offset="0.7392" stop-color="#ff9e30"/><stop offset="0.7435" stop-color="#ff8f24"/><stop offset="0.7506" stop-color="#ff7a14"/><stop offset="0.7609" stop-color="#ff5211"/><stop offset="0.7625" stop-color="#ff4a10"/><stop offset="0.7696" stop-color="#ff1b04"/><stop offset="0.7738" stop-color="#ff0a00"/><stop offset="0.7826" stop-color="#c80400"/><stop offset="0.7974" stop-color="#9c0000"/><stop offset="0.8043" stop-color="#850000"/><stop offset="0.8304" stop-color="#640000"/><stop offset="0.9739" stop-color="#570000"/><stop offset="1.0000" stop-color="#540000"/></linearGradient>
<linearGradient id="am20" x1="0" y1="4" x2="0" y2="234" gradientUnits="userSpaceOnUse"><stop offset="0.0000" stop-color="#300000"/><stop offset="0.2783" stop-color="#3b0000"/><stop offset="0.3261" stop-color="#640000"/><stop offset="0.3521" stop-color="#9c0000"/><stop offset="0.3652" stop-color="#b60300"/><stop offset="0.4000" stop-color="#fd0a00"/><stop offset="0.4009" stop-color="#ff0a00"/><stop offset="0.4587" stop-color="#ff4a10"/><stop offset="0.4652" stop-color="#ff4f10"/><stop offset="0.5043" stop-color="#ff5611"/><stop offset="0.5273" stop-color="#ff4a10"/><stop offset="0.5652" stop-color="#ff2f09"/><stop offset="0.5783" stop-color="#ff2a08"/><stop offset="0.5957" stop-color="#ff410e"/><stop offset="0.5982" stop-color="#ff4a10"/><stop offset="0.6168" stop-color="#ff7a14"/><stop offset="0.6217" stop-color="#ff841c"/><stop offset="0.6320" stop-color="#ff9e30"/><stop offset="0.6435" stop-color="#ffb05e"/><stop offset="0.6452" stop-color="#ffb468"/><stop offset="0.6545" stop-color="#fcc890"/><stop offset="0.6565" stop-color="#fccc98"/><stop offset="0.6632" stop-color="#fcdcb4"/><stop offset="0.6652" stop-color="#fbe1bb"/><stop offset="0.6739" stop-color="#f6efd0"/><stop offset="0.6751" stop-color="#f6f0d2"/><stop offset="0.6783" stop-color="#f6f1d4"/><stop offset="0.6957" stop-color="#f6f1d4"/><stop offset="0.6979" stop-color="#f6f0d2"/><stop offset="0.7043" stop-color="#f8eac8"/><stop offset="0.7087" stop-color="#fae4c0"/><stop offset="0.7124" stop-color="#fcdcb4"/><stop offset="0.7216" stop-color="#fcc890"/><stop offset="0.7261" stop-color="#fdbe7d"/><stop offset="0.7312" stop-color="#ffb468"/><stop offset="0.7412" stop-color="#ff9e30"/><stop offset="0.7478" stop-color="#ff861d"/><stop offset="0.7518" stop-color="#ff7a14"/><stop offset="0.7609" stop-color="#ff5711"/><stop offset="0.7634" stop-color="#ff4a10"/><stop offset="0.7696" stop-color="#ff2005"/><stop offset="0.7746" stop-color="#ff0a00"/><stop offset="0.7826" stop-color="#c90500"/><stop offset="0.7971" stop-color="#9c0000"/><stop offset="0.8043" stop-color="#840000"/><stop offset="0.8304" stop-color="#640000"/><stop offset="1.0000" stop-color="#550000"/></linearGradient>
<linearGradient id="am21" x1="0" y1="4" x2="0" y2="234" gradientUnits="userSpaceOnUse"><stop offset="0.0000" stop-color="#300000"/><stop offset="0.2783" stop-color="#3b0000"/><stop offset="0.3261" stop-color="#630000"/><stop offset="0.3515" stop-color="#9c0000"/><stop offset="0.3609" stop-color="#af0200"/><stop offset="0.3870" stop-color="#ed0800"/><stop offset="0.3969" stop-color="#ff0a00"/><stop offset="0.4532" stop-color="#ff4a10"/><stop offset="0.4652" stop-color="#ff5411"/><stop offset="0.5043" stop-color="#ff5a11"/><stop offset="0.5312" stop-color="#ff4a10"/><stop offset="0.5609" stop-color="#ff320a"/><stop offset="0.5783" stop-color="#ff2b08"/><stop offset="0.5957" stop-color="#ff3d0d"/><stop offset="0.5995" stop-color="#ff4a10"/><stop offset="0.6189" stop-color="#ff7a14"/><stop offset="0.6217" stop-color="#ff7f18"/><stop offset="0.6343" stop-color="#ff9e30"/><stop offset="0.6435" stop-color="#ffac53"/><stop offset="0.6470" stop-color="#ffb468"/><stop offset="0.6522" stop-color="#fdbf7e"/><stop offset="0.6560" stop-color="#fcc890"/><stop offset="0.6643" stop-color="#fcdcb4"/><stop offset="0.6652" stop-color="#fbdeb7"/><stop offset="0.6739" stop-color="#f7eecf"/><stop offset="0.6757" stop-color="#f6f0d2"/><stop offset="0.6783" stop-color="#f6f1d4"/><stop offset="0.6957" stop-color="#f6f1d4"/><stop offset="0.7000" stop-color="#f6f0d2"/><stop offset="0.7004" stop-color="#f6f0d2"/><stop offset="0.7087" stop-color="#f9e6c2"/><stop offset="0.7135" stop-color="#fcdcb4"/><stop offset="0.7236" stop-color="#fcc890"/><stop offset="0.7304" stop-color="#feba75"/><stop offset="0.7333" stop-color="#ffb468"/><stop offset="0.7422" stop-color="#ff9e30"/><stop offset="0.7435" stop-color="#ff992c"/><stop offset="0.7534" stop-color="#ff7a14"/><stop offset="0.7609" stop-color="#ff5b11"/><stop offset="0.7642" stop-color="#ff4a10"/><stop offset="0.7696" stop-color="#ff2407"/><stop offset="0.7752" stop-color="#ff0a00"/><stop offset="0.7826" stop-color="#ca0500"/><stop offset="0.7953" stop-color="#9c0000"/><stop offset="0.8000" stop-color="#890000"/><stop offset="0.8261" stop-color="#650000"/><stop offset="1.0000" stop-color="#560000"/></linearGradient>
<linearGradient id="am22" x1="0" y1="4" x2="0" y2="234" gradientUnits="userSpaceOnUse"><stop offset="0.0000" stop-color="#300000"/><stop offset="0.2783" stop-color="#3b0000"/><stop offset="0.3217" stop-color="#5b0000"/><stop offset="0.3522" stop-color="#9c0000"/><stop offset="0.3522" stop-color="#9c0000"/><stop offset="0.3826" stop-color="#ed0800"/><stop offset="0.3927" stop-color="#ff0a00"/><stop offset="0.4488" stop-color="#ff4a10"/><stop offset="0.4652" stop-color="#ff5811"/><stop offset="0.5043" stop-color="#ff5c12"/><stop offset="0.5324" stop-color="#ff4a10"/><stop offset="0.5565" stop-color="#ff350b"/><stop offset="0.5826" stop-color="#ff2f09"/><stop offset="0.5957" stop-color="#ff390c"/><stop offset="0.6007" stop-color="#ff4a10"/><stop offset="0.6202" stop-color="#ff7a14"/><stop offset="0.6261" stop-color="#ff851c"/><stop offset="0.6368" stop-color="#ff9e30"/><stop offset="0.6435" stop-color="#ffa849"/><stop offset="0.6487" stop-color="#ffb468"/><stop offset="0.6522" stop-color="#febc77"/><stop offset="0.6572" stop-color="#fcc890"/><stop offset="0.6652" stop-color="#fcdcb4"/><stop offset="0.6653" stop-color="#fcdcb4"/><stop offset="0.6739" stop-color="#f7edce"/><stop offset="0.6763" stop-color="#f6f0d2"/><stop offset="0.6783" stop-color="#f6f1d4"/><stop offset="0.6957" stop-color="#f6f1d4"/><stop offset="0.7000" stop-color="#f6f1d3"/><stop offset="0.7014" stop-color="#f6f0d2"/><stop offset="0.7087" stop-color="#f9e7c5"/><stop offset="0.7148" stop-color="#fcdcb4"/><stop offset="0.7255" stop-color="#fcc890"/><stop offset="0.7304" stop-color="#fdbf7e"/><stop offset="0.7352" stop-color="#ffb468"/><stop offset="0.7440" stop-color="#ff9e30"/><stop offset="0.7478" stop-color="#ff8f24"/><stop offset="0.7545" stop-color="#ff7a14"/><stop offset="0.7609" stop-color="#ff6012"/><stop offset="0.7652" stop-color="#ff4a10"/><stop offset="0.7739" stop-color="#ff0f01"/><stop offset="0.7752" stop-color="#ff0a00"/><stop offset="0.7870" stop-color="#b50200"/><stop offset="0.7954" stop-color="#9c0000"/><stop offset="0.8043" stop-color="#800000"/><stop offset="0.8261" stop-color="#640000"/><stop offset="1.0000" stop-color="#580000"/></linearGradient>
<linearGradient id="am23" x1="0" y1="4" x2="0" y2="234" gradientUnits="userSpaceOnUse"><stop offset="0.0000" stop-color="#300000"/><stop offset="0.2783" stop-color="#3b0000"/><stop offset="0.3217" stop-color="#5b0000"/><stop offset="0.3511" stop-color="#9c0000"/><stop offset="0.3522" stop-color="#9e0000"/><stop offset="0.3826" stop-color="#f40900"/><stop offset="0.3887" stop-color="#ff0a00"/><stop offset="0.4453" stop-color="#ff4a10"/><stop offset="0.4652" stop-color="#ff5b11"/><stop offset="0.5043" stop-color="#ff5d12"/><stop offset="0.5333" stop-color="#ff4a10"/><stop offset="0.5565" stop-color="#ff350b"/><stop offset="0.5826" stop-color="#ff2f09"/><stop offset="0.5957" stop-color="#ff350b"/><stop offset="0.6022" stop-color="#ff4a10"/><stop offset="0.6226" stop-color="#ff7a14"/><stop offset="0.6261" stop-color="#ff8019"/><stop offset="0.6394" stop-color="#ff9e30"/><stop offset="0.6435" stop-color="#ffa43e"/><stop offset="0.6502" stop-color="#ffb468"/><stop offset="0.6522" stop-color="#feb871"/><stop offset="0.6586" stop-color="#fcc890"/><stop offset="0.6668" stop-color="#fcdcb4"/><stop offset="0.6696" stop-color="#fae3be"/><stop offset="0.6739" stop-color="#f7eccc"/><stop offset="0.6768" stop-color="#f6f0d2"/><stop offset="0.6783" stop-color="#f6f1d3"/><stop offset="0.7000" stop-color="#f6f1d4"/><stop offset="0.7023" stop-color="#f6f0d2"/><stop offset="0.7130" stop-color="#fae2be"/><stop offset="0.7166" stop-color="#fcdcb4"/><stop offset="0.7277" stop-color="#fcc890"/><stop offset="0.7304" stop-color="#fdc386"/><stop offset="0.7368" stop-color="#ffb468"/><stop offset="0.7452" stop-color="#ff9e30"/><stop offset="0.7478" stop-color="#ff9327"/><stop offset="0.7558" stop-color="#ff7a14"/><stop offset="0.7609" stop-color="#ff6512"/><stop offset="0.7659" stop-color="#ff4a10"/><stop offset="0.7739" stop-color="#ff1202"/><stop offset="0.7758" stop-color="#ff0a00"/><stop offset="0.7870" stop-color="#b40200"/><stop offset="0.7951" stop-color="#9c0000"/><stop offset="0.8043" stop-color="#7e0000"/><stop offset="0.8217" stop-color="#640000"/><stop offset="1.0000" stop-color="#590000"/></linearGradient>
<linearGradient id="am24" x1="0" y1="4" x2="0" y2="234" gradientUnits="userSpaceOnUse"><stop offset="0.0000" stop-color="#300000"/><stop offset="0.2783" stop-color="#3a0000"/><stop offset="0.3217" stop-color="#5a0000"/><stop offset="0.3478" stop-color="#930000"/><stop offset="0.3506" stop-color="#9c0000"/><stop offset="0.3826" stop-color="#fc0a00"/><stop offset="0.3846" stop-color="#ff0a00"/><stop offset="0.4422" stop-color="#ff4a10"/><stop offset="0.4652" stop-color="#ff5d12"/><stop offset="0.5087" stop-color="#ff5b11"/><stop offset="0.5335" stop-color="#ff4a10"/><stop offset="0.5565" stop-color="#ff350b"/><stop offset="0.5913" stop-color="#ff300a"/><stop offset="0.5957" stop-color="#ff310a"/><stop offset="0.6039" stop-color="#ff4a10"/><stop offset="0.6253" stop-color="#ff7a14"/><stop offset="0.6261" stop-color="#ff7b15"/><stop offset="0.6424" stop-color="#ff9e30"/><stop offset="0.6435" stop-color="#ff9f34"/><stop offset="0.6478" stop-color="#ffa94b"/><stop offset="0.6519" stop-color="#ffb468"/><stop offset="0.6597" stop-color="#fcc890"/><stop offset="0.6675" stop-color="#fcdcb4"/><stop offset="0.6696" stop-color="#fae1bc"/><stop offset="0.6739" stop-color="#f7eccb"/><stop offset="0.6773" stop-color="#f6f0d2"/><stop offset="0.6783" stop-color="#f6f0d3"/><stop offset="0.7000" stop-color="#f6f1d5"/><stop offset="0.7035" stop-color="#f6f0d2"/><stop offset="0.7130" stop-color="#f9e5c1"/><stop offset="0.7183" stop-color="#fcdcb4"/><stop offset="0.7301" stop-color="#fcc890"/><stop offset="0.7304" stop-color="#fcc78f"/><stop offset="0.7380" stop-color="#ffb468"/><stop offset="0.7435" stop-color="#ffa440"/><stop offset="0.7465" stop-color="#ff9e30"/><stop offset="0.7572" stop-color="#ff7a14"/><stop offset="0.7609" stop-color="#ff6913"/><stop offset="0.7666" stop-color="#ff4a10"/><stop offset="0.7739" stop-color="#ff1503"/><stop offset="0.7763" stop-color="#ff0a00"/><stop offset="0.7870" stop-color="#b40200"/><stop offset="0.7947" stop-color="#9c0000"/><stop offset="0.8043" stop-color="#7c0000"/><stop offset="0.8217" stop-color="#630000"/><stop offset="1.0000" stop-color="#5a0000"/></linearGradient>
<linearGradient id="am25" x1="0" y1="4" x2="0" y2="234" gradientUnits="userSpaceOnUse"><stop offset="0.0000" stop-color="#300000"/><stop offset="0.2783" stop-color="#3a0000"/><stop offset="0.3217" stop-color="#590000"/><stop offset="0.3478" stop-color="#940000"/><stop offset="0.3499" stop-color="#9c0000"/><stop offset="0.3783" stop-color="#fc0a00"/><stop offset="0.3801" stop-color="#ff0a00"/><stop offset="0.4390" stop-color="#ff4a10"/><stop offset="0.4652" stop-color="#ff5f12"/><stop offset="0.5087" stop-color="#ff5b11"/><stop offset="0.5320" stop-color="#ff4a10"/><stop offset="0.5522" stop-color="#ff360b"/><stop offset="0.5957" stop-color="#ff2d09"/><stop offset="0.6058" stop-color="#ff4a10"/><stop offset="0.6261" stop-color="#ff7514"/><stop offset="0.6278" stop-color="#ff7a14"/><stop offset="0.6435" stop-color="#ff9a2d"/><stop offset="0.6448" stop-color="#ff9e30"/><stop offset="0.6478" stop-color="#ffa440"/><stop offset="0.6532" stop-color="#ffb468"/><stop offset="0.6608" stop-color="#fcc890"/><stop offset="0.6683" stop-color="#fcdcb4"/><stop offset="0.6739" stop-color="#f8ebca"/><stop offset="0.6777" stop-color="#f6f0d2"/><stop offset="0.6783" stop-color="#f6f0d3"/><stop offset="0.7000" stop-color="#f7f2d6"/><stop offset="0.7047" stop-color="#f6f0d2"/><stop offset="0.7174" stop-color="#fae2bc"/><stop offset="0.7207" stop-color="#fcdcb4"/><stop offset="0.7304" stop-color="#fccc97"/><stop offset="0.7319" stop-color="#fcc890"/><stop offset="0.7392" stop-color="#ffb468"/><stop offset="0.7435" stop-color="#ffa748"/><stop offset="0.7478" stop-color="#ff9e30"/><stop offset="0.7565" stop-color="#ff7f18"/><stop offset="0.7579" stop-color="#ff7a14"/><stop offset="0.7652" stop-color="#ff5511"/><stop offset="0.7671" stop-color="#ff4a10"/><stop offset="0.7739" stop-color="#ff1703"/><stop offset="0.7767" stop-color="#ff0a00"/><stop offset="0.7870" stop-color="#b40200"/><stop offset="0.7944" stop-color="#9c0000"/><stop offset="0.8043" stop-color="#7a0000"/><stop offset="0.8217" stop-color="#610000"/><stop offset="1.0000" stop-color="#5b0000"/></linearGradient>
<linearGradient id="am26" x1="0" y1="4" x2="0" y2="234" gradientUnits="userSpaceOnUse"><stop offset="0.0000" stop-color="#300000"/><stop offset="0.2783" stop-color="#3a0000"/><stop offset="0.3217" stop-color="#590000"/><stop offset="0.3478" stop-color="#960000"/><stop offset="0.3495" stop-color="#9c0000"/><stop offset="0.3781" stop-color="#ff0a00"/><stop offset="0.3783" stop-color="#ff0a00"/><stop offset="0.4337" stop-color="#ff4a10"/><stop offset="0.4609" stop-color="#ff6112"/><stop offset="0.5087" stop-color="#ff5d12"/><stop offset="0.5352" stop-color="#ff4a10"/><stop offset="0.5522" stop-color="#ff3a0c"/><stop offset="0.5957" stop-color="#ff2f09"/><stop offset="0.6057" stop-color="#ff4a10"/><stop offset="0.6261" stop-color="#ff7213"/><stop offset="0.6292" stop-color="#ff7a14"/><stop offset="0.6435" stop-color="#ff9529"/><stop offset="0.6462" stop-color="#ff9e30"/><stop offset="0.6478" stop-color="#ffa139"/><stop offset="0.6543" stop-color="#ffb468"/><stop offset="0.6619" stop-color="#fcc890"/><stop offset="0.6696" stop-color="#fcdcb4"/><stop offset="0.6739" stop-color="#f9e7c5"/><stop offset="0.6783" stop-color="#f7eecf"/><stop offset="0.6842" stop-color="#f6f0d2"/><stop offset="0.7000" stop-color="#f7f2d6"/><stop offset="0.7058" stop-color="#f6f0d2"/><stop offset="0.7174" stop-color="#f9e4c1"/><stop offset="0.7229" stop-color="#fcdcb4"/><stop offset="0.7304" stop-color="#fcd19f"/><stop offset="0.7338" stop-color="#fcc890"/><stop offset="0.7418" stop-color="#ffb468"/><stop offset="0.7478" stop-color="#ffa33d"/><stop offset="0.7503" stop-color="#ff9e30"/><stop offset="0.7605" stop-color="#ff7a14"/><stop offset="0.7609" stop-color="#ff7814"/><stop offset="0.7686" stop-color="#ff4a10"/><stop offset="0.7739" stop-color="#ff2005"/><stop offset="0.7781" stop-color="#ff0a00"/><stop offset="0.7870" stop-color="#b70300"/><stop offset="0.7951" stop-color="#9c0000"/><stop offset="0.8043" stop-color="#7b0000"/><stop offset="0.8217" stop-color="#610000"/><stop offset="1.0000" stop-color="#5b0000"/></linearGradient>
<linearGradient id="am27" x1="0" y1="4" x2="0" y2="234" gradientUnits="userSpaceOnUse"><stop offset="0.0000" stop-color="#300000"/><stop offset="0.2783" stop-color="#3a0000"/><stop offset="0.3217" stop-color="#590000"/><stop offset="0.3478" stop-color="#970000"/><stop offset="0.3493" stop-color="#9c0000"/><stop offset="0.3802" stop-color="#ff0a00"/><stop offset="0.3826" stop-color="#ff0f01"/><stop offset="0.4322" stop-color="#ff4a10"/><stop offset="0.4609" stop-color="#ff6412"/><stop offset="0.5087" stop-color="#ff6012"/><stop offset="0.5454" stop-color="#ff4a10"/><stop offset="0.5565" stop-color="#ff410e"/><stop offset="0.5957" stop-color="#ff380c"/><stop offset="0.6033" stop-color="#ff4a10"/><stop offset="0.6261" stop-color="#ff7213"/><stop offset="0.6295" stop-color="#ff7a14"/><stop offset="0.6435" stop-color="#ff9327"/><stop offset="0.6471" stop-color="#ff9e30"/><stop offset="0.6478" stop-color="#ff9f33"/><stop offset="0.6555" stop-color="#ffb468"/><stop offset="0.6636" stop-color="#fcc890"/><stop offset="0.6717" stop-color="#fcdcb4"/><stop offset="0.6739" stop-color="#fae1bc"/><stop offset="0.6783" stop-color="#f8e9c7"/><stop offset="0.6896" stop-color="#f6f0d2"/><stop offset="0.6957" stop-color="#f6f1d5"/><stop offset="0.7000" stop-color="#f7f2d6"/><stop offset="0.7063" stop-color="#f6f0d2"/><stop offset="0.7174" stop-color="#f9e7c5"/><stop offset="0.7257" stop-color="#fcdcb4"/><stop offset="0.7304" stop-color="#fcd6a9"/><stop offset="0.7366" stop-color="#fcc890"/><stop offset="0.7455" stop-color="#ffb468"/><stop offset="0.7545" stop-color="#ff9e30"/><stop offset="0.7609" stop-color="#ff841c"/><stop offset="0.7630" stop-color="#ff7a14"/><stop offset="0.7706" stop-color="#ff4a10"/><stop offset="0.7739" stop-color="#ff2e09"/><stop offset="0.7800" stop-color="#ff0a00"/><stop offset="0.7870" stop-color="#be0300"/><stop offset="0.7954" stop-color="#9c0000"/><stop offset="0.8000" stop-color="#870000"/><stop offset="0.8217" stop-color="#640000"/><stop offset="1.0000" stop-color="#5b0000"/></linearGradient>
<linearGradient id="am28" x1="0" y1="4" x2="0" y2="234" gradientUnits="userSpaceOnUse"><stop offset="0.0000" stop-color="#300000"/><stop offset="0.2783" stop-color="#3a0000"/><stop offset="0.3217" stop-color="#590000"/><stop offset="0.3478" stop-color="#980000"/><stop offset="0.3490" stop-color="#9c0000"/><stop offset="0.3801" stop-color="#ff0a00"/><stop offset="0.3826" stop-color="#ff0f01"/><stop offset="0.4302" stop-color="#ff4a10"/><stop offset="0.4609" stop-color="#ff6612"/><stop offset="0.5087" stop-color="#ff6312"/><stop offset="0.5565" stop-color="#ff4a10"/><stop offset="0.5571" stop-color="#ff4a10"/><stop offset="0.5957" stop-color="#ff410e"/><stop offset="0.6003" stop-color="#ff4a10"/><stop offset="0.6217" stop-color="#ff6813"/><stop offset="0.6298" stop-color="#ff7a14"/><stop offset="0.6435" stop-color="#ff9025"/><stop offset="0.6476" stop-color="#ff9e30"/><stop offset="0.6522" stop-color="#ffa748"/><stop offset="0.6572" stop-color="#ffb468"/><stop offset="0.6660" stop-color="#fcc890"/><stop offset="0.6696" stop-color="#fcd09f"/><stop offset="0.6739" stop-color="#fcdbb3"/><stop offset="0.6743" stop-color="#fcdcb4"/><stop offset="0.6783" stop-color="#fae3bf"/><stop offset="0.6920" stop-color="#f6f0d2"/><stop offset="0.6957" stop-color="#f6f1d4"/><stop offset="0.7000" stop-color="#f6f1d5"/><stop offset="0.7073" stop-color="#f6f0d2"/><stop offset="0.7174" stop-color="#f8eac8"/><stop offset="0.7295" stop-color="#fcdcb4"/><stop offset="0.7304" stop-color="#fcdbb2"/><stop offset="0.7398" stop-color="#fcc890"/><stop offset="0.7478" stop-color="#feb870"/><stop offset="0.7493" stop-color="#ffb468"/><stop offset="0.7572" stop-color="#ff9e30"/><stop offset="0.7652" stop-color="#ff7a14"/><stop offset="0.7652" stop-color="#ff7a14"/><stop offset="0.7724" stop-color="#ff4a10"/><stop offset="0.7739" stop-color="#ff3d0d"/><stop offset="0.7815" stop-color="#ff0a00"/><stop offset="0.7870" stop-color="#c60400"/><stop offset="0.7966" stop-color="#9c0000"/><stop offset="0.8000" stop-color="#8c0000"/><stop offset="0.8217" stop-color="#660000"/><stop offset="0.9957" stop-color="#5b0000"/><stop offset="1.0000" stop-color="#5b0000"/></linearGradient>
<linearGradient id="am29" x1="0" y1="4" x2="0" y2="234" gradientUnits="userSpaceOnUse"><stop offset="0.0000" stop-color="#300000"/><stop offset="0.2783" stop-color="#3a0000"/><stop offset="0.3217" stop-color="#590000"/><stop offset="0.3478" stop-color="#990000"/><stop offset="0.3487" stop-color="#9c0000"/><stop offset="0.3799" stop-color="#ff0a00"/><stop offset="0.3826" stop-color="#ff0f01"/><stop offset="0.4281" stop-color="#ff4a10"/><stop offset="0.4609" stop-color="#ff6a13"/><stop offset="0.5087" stop-color="#ff6812"/><stop offset="0.5565" stop-color="#ff5111"/><stop offset="0.5957" stop-color="#ff4a10"/><stop offset="0.6174" stop-color="#ff6212"/><stop offset="0.6297" stop-color="#ff7a14"/><stop offset="0.6435" stop-color="#ff8e24"/><stop offset="0.6486" stop-color="#ff9e30"/><stop offset="0.6565" stop-color="#ffad57"/><stop offset="0.6596" stop-color="#ffb468"/><stop offset="0.6652" stop-color="#fdbf7e"/><stop offset="0.6687" stop-color="#fcc890"/><stop offset="0.6739" stop-color="#fcd5a8"/><stop offset="0.6773" stop-color="#fcdcb4"/><stop offset="0.6783" stop-color="#fbdeb7"/><stop offset="0.6933" stop-color="#f6f0d2"/><stop offset="0.6957" stop-color="#f6f1d4"/><stop offset="0.7000" stop-color="#f6f1d5"/><stop offset="0.7079" stop-color="#f6f0d2"/><stop offset="0.7217" stop-color="#f8e9c8"/><stop offset="0.7304" stop-color="#fbe0ba"/><stop offset="0.7329" stop-color="#fcdcb4"/><stop offset="0.7435" stop-color="#fccb95"/><stop offset="0.7446" stop-color="#fcc890"/><stop offset="0.7522" stop-color="#ffb66b"/><stop offset="0.7527" stop-color="#ffb468"/><stop offset="0.7600" stop-color="#ff9e30"/><stop offset="0.7673" stop-color="#ff7a14"/><stop offset="0.7745" stop-color="#ff4a10"/><stop offset="0.7783" stop-color="#ff2908"/><stop offset="0.7825" stop-color="#ff0a00"/><stop offset="0.7870" stop-color="#cd0500"/><stop offset="0.7976" stop-color="#9c0000"/><stop offset="0.8000" stop-color="#900000"/><stop offset="0.8217" stop-color="#680000"/><stop offset="0.9435" stop-color="#5b0000"/><stop offset="1.0000" stop-color="#5b0000"/></linearGradient>
<linearGradient id="am30" x1="0" y1="4" x2="0" y2="234" gradientUnits="userSpaceOnUse"><stop offset="0.0000" stop-color="#300000"/><stop offset="0.2783" stop-color="#3a0000"/><stop offset="0.3217" stop-color="#590000"/><stop offset="0.3478" stop-color="#9a0000"/><stop offset="0.3485" stop-color="#9c0000"/><stop offset="0.3798" stop-color="#ff0a00"/><stop offset="0.3826" stop-color="#ff1001"/><stop offset="0.4259" stop-color="#ff4a10"/><stop offset="0.4609" stop-color="#ff6d13"/><stop offset="0.5087" stop-color="#ff6d13"/><stop offset="0.5609" stop-color="#ff5711"/><stop offset="0.6000" stop-color="#ff5411"/><stop offset="0.6174" stop-color="#ff6312"/><stop offset="0.6302" stop-color="#ff7a14"/><stop offset="0.6435" stop-color="#ff8c22"/><stop offset="0.6497" stop-color="#ff9e30"/><stop offset="0.6620" stop-color="#ffb468"/><stop offset="0.6652" stop-color="#feb972"/><stop offset="0.6714" stop-color="#fcc890"/><stop offset="0.6783" stop-color="#fcd8ae"/><stop offset="0.6807" stop-color="#fcdcb4"/><stop offset="0.6942" stop-color="#f6f0d2"/><stop offset="0.6957" stop-color="#f6f1d4"/><stop offset="0.7043" stop-color="#f6f1d4"/><stop offset="0.7116" stop-color="#f6f0d2"/><stop offset="0.7217" stop-color="#f7edcd"/><stop offset="0.7348" stop-color="#fbe0b9"/><stop offset="0.7374" stop-color="#fcdcb4"/><stop offset="0.7435" stop-color="#fcd4a6"/><stop offset="0.7478" stop-color="#fccb95"/><stop offset="0.7488" stop-color="#fcc890"/><stop offset="0.7556" stop-color="#ffb468"/><stop offset="0.7624" stop-color="#ff9e30"/><stop offset="0.7692" stop-color="#ff7a14"/><stop offset="0.7760" stop-color="#ff4a10"/><stop offset="0.7783" stop-color="#ff340b"/><stop offset="0.7835" stop-color="#ff0a00"/><stop offset="0.7870" stop-color="#d50600"/><stop offset="0.7985" stop-color="#9c0000"/><stop offset="0.8000" stop-color="#940000"/><stop offset="0.8217" stop-color="#6b0000"/><stop offset="0.9217" stop-color="#5b0000"/><stop offset="1.0000" stop-color="#5b0000"/></linearGradient>
<linearGradient id="am31" x1="0" y1="4" x2="0" y2="234" gradientUnits="userSpaceOnUse"><stop offset="0.0000" stop-color="#300000"/><stop offset="0.2783" stop-color="#3a0000"/><stop offset="0.3217" stop-color="#590000"/><stop offset="0.3478" stop-color="#9b0000"/><stop offset="0.3482" stop-color="#9c0000"/><stop offset="0.3796" stop-color="#ff0a00"/><stop offset="0.3826" stop-color="#ff1002"/><stop offset="0.4237" stop-color="#ff4a10"/><stop offset="0.4609" stop-color="#ff7113"/><stop offset="0.5087" stop-color="#ff7213"/><stop offset="0.5696" stop-color="#ff5d12"/><stop offset="0.6000" stop-color="#ff5911"/><stop offset="0.6174" stop-color="#ff6412"/><stop offset="0.6308" stop-color="#ff7a14"/><stop offset="0.6435" stop-color="#ff8920"/><stop offset="0.6516" stop-color="#ff9e30"/><stop offset="0.6652" stop-color="#ffb366"/><stop offset="0.6655" stop-color="#ffb468"/><stop offset="0.6737" stop-color="#fcc890"/><stop offset="0.6783" stop-color="#fcd3a4"/><stop offset="0.6830" stop-color="#fcdcb4"/><stop offset="0.6913" stop-color="#f7eccb"/><stop offset="0.6945" stop-color="#f6f0d2"/><stop offset="0.6957" stop-color="#f6f0d3"/><stop offset="0.7174" stop-color="#f6f0d3"/><stop offset="0.7200" stop-color="#f6f0d2"/><stop offset="0.7304" stop-color="#f8eaca"/><stop offset="0.7435" stop-color="#fcddb6"/><stop offset="0.7441" stop-color="#fcdcb4"/><stop offset="0.7478" stop-color="#fcd4a6"/><stop offset="0.7517" stop-color="#fcc890"/><stop offset="0.7581" stop-color="#ffb468"/><stop offset="0.7645" stop-color="#ff9e30"/><stop offset="0.7709" stop-color="#ff7a14"/><stop offset="0.7772" stop-color="#ff4a10"/><stop offset="0.7783" stop-color="#ff400d"/><stop offset="0.7844" stop-color="#ff0a00"/><stop offset="0.7870" stop-color="#dc0600"/><stop offset="0.7994" stop-color="#9c0000"/><stop offset="0.8000" stop-color="#990000"/><stop offset="0.8217" stop-color="#6d0000"/><stop offset="0.9130" stop-color="#5b0000"/><stop offset="1.0000" stop-color="#5b0000"/></linearGradient>
<linearGradient id="am32" x1="0" y1="4" x2="0" y2="234" gradientUnits="userSpaceOnUse"><stop offset="0.0000" stop-color="#300000"/><stop offset="0.2783" stop-color="#3a0000"/><stop offset="0.3217" stop-color="#5a0000"/><stop offset="0.3435" stop-color="#8b0000"/><stop offset="0.3483" stop-color="#9c0000"/><stop offset="0.3783" stop-color="#ff0a00"/><stop offset="0.3783" stop-color="#ff0a00"/><stop offset="0.4216" stop-color="#ff4a10"/><stop offset="0.4609" stop-color="#ff7514"/><stop offset="0.5130" stop-color="#ff7614"/><stop offset="0.5870" stop-color="#ff6012"/><stop offset="0.6130" stop-color="#ff6012"/><stop offset="0.6331" stop-color="#ff7a14"/><stop offset="0.6391" stop-color="#ff8019"/><stop offset="0.6546" stop-color="#ff9e30"/><stop offset="0.6609" stop-color="#ffa543"/><stop offset="0.6652" stop-color="#ffad56"/><stop offset="0.6679" stop-color="#ffb468"/><stop offset="0.6763" stop-color="#fcc890"/><stop offset="0.6826" stop-color="#fcd7ab"/><stop offset="0.6848" stop-color="#fcdcb4"/><stop offset="0.6913" stop-color="#f8eac9"/><stop offset="0.6950" stop-color="#f6f0d2"/><stop offset="0.6957" stop-color="#f6f0d3"/><stop offset="0.7217" stop-color="#f6f1d5"/><stop offset="0.7283" stop-color="#f6f0d2"/><stop offset="0.7435" stop-color="#f9e7c4"/><stop offset="0.7478" stop-color="#fbdeb7"/><stop offset="0.7484" stop-color="#fcdcb4"/><stop offset="0.7544" stop-color="#fcc890"/><stop offset="0.7604" stop-color="#ffb468"/><stop offset="0.7663" stop-color="#ff9e30"/><stop offset="0.7723" stop-color="#ff7a14"/><stop offset="0.7783" stop-color="#ff4b10"/><stop offset="0.7783" stop-color="#ff4a10"/><stop offset="0.7851" stop-color="#ff0a00"/><stop offset="0.7870" stop-color="#e30700"/><stop offset="0.8000" stop-color="#9d0000"/><stop offset="0.8004" stop-color="#9c0000"/><stop offset="0.8217" stop-color="#6f0000"/><stop offset="0.9043" stop-color="#5b0000"/><stop offset="1.0000" stop-color="#5b0000"/></linearGradient>
<linearGradient id="am33" x1="0" y1="4" x2="0" y2="234" gradientUnits="userSpaceOnUse"><stop offset="0.0000" stop-color="#300000"/><stop offset="0.2783" stop-color="#3a0000"/><stop offset="0.3217" stop-color="#5a0000"/><stop offset="0.3435" stop-color="#8b0000"/><stop offset="0.3481" stop-color="#9c0000"/><stop offset="0.3739" stop-color="#f30900"/><stop offset="0.3790" stop-color="#ff0a00"/><stop offset="0.4200" stop-color="#ff4a10"/><stop offset="0.4609" stop-color="#ff7a14"/><stop offset="0.4666" stop-color="#ff7a14"/><stop offset="0.5130" stop-color="#ff7b15"/><stop offset="0.5194" stop-color="#ff7a14"/><stop offset="0.6130" stop-color="#ff6212"/><stop offset="0.6346" stop-color="#ff7a14"/><stop offset="0.6391" stop-color="#ff7e17"/><stop offset="0.6590" stop-color="#ff9e30"/><stop offset="0.6609" stop-color="#ffa035"/><stop offset="0.6652" stop-color="#ffa646"/><stop offset="0.6702" stop-color="#ffb468"/><stop offset="0.6782" stop-color="#fcc890"/><stop offset="0.6863" stop-color="#fcdcb4"/><stop offset="0.6913" stop-color="#f8e9c7"/><stop offset="0.6954" stop-color="#f6f0d2"/><stop offset="0.6957" stop-color="#f6f0d2"/><stop offset="0.7217" stop-color="#f7f2d7"/><stop offset="0.7435" stop-color="#f6f0d2"/><stop offset="0.7435" stop-color="#f6f0d2"/><stop offset="0.7478" stop-color="#f9e7c5"/><stop offset="0.7510" stop-color="#fcdcb4"/><stop offset="0.7567" stop-color="#fcc890"/><stop offset="0.7623" stop-color="#ffb468"/><stop offset="0.7680" stop-color="#ff9e30"/><stop offset="0.7737" stop-color="#ff7a14"/><stop offset="0.7783" stop-color="#ff5311"/><stop offset="0.7794" stop-color="#ff4a10"/><stop offset="0.7857" stop-color="#ff0a00"/><stop offset="0.7870" stop-color="#eb0800"/><stop offset="0.8000" stop-color="#a10000"/><stop offset="0.8023" stop-color="#9c0000"/><stop offset="0.8217" stop-color="#710000"/><stop offset="0.9000" stop-color="#5b0000"/><stop offset="1.0000" stop-color="#5b0000"/></linearGradient>
<linearGradient id="am34" x1="0" y1="4" x2="0" y2="234" gradientUnits="userSpaceOnUse"><stop offset="0.0000" stop-color="#300000"/><stop offset="0.2783" stop-color="#3a0000"/><stop offset="0.3217" stop-color="#5a0000"/><stop offset="0.3435" stop-color="#8b0000"/><stop offset="0.3480" stop-color="#9c0000"/><stop offset="0.3739" stop-color="#f30900"/><stop offset="0.3790" stop-color="#ff0a00"/><stop offset="0.4199" stop-color="#ff4a10"/><stop offset="0.4608" stop-color="#ff7a14"/><stop offset="0.4609" stop-color="#ff7a14"/><stop offset="0.5130" stop-color="#ff7b15"/><stop offset="0.5207" stop-color="#ff7a14"/><stop offset="0.6130" stop-color="#ff6212"/><stop offset="0.6348" stop-color="#ff7a14"/><stop offset="0.6391" stop-color="#ff7e17"/><stop offset="0.6594" stop-color="#ff9e30"/><stop offset="0.6609" stop-color="#ff9f34"/><stop offset="0.6652" stop-color="#ffa644"/><stop offset="0.6703" stop-color="#ffb468"/><stop offset="0.6783" stop-color="#fcc890"/><stop offset="0.6863" stop-color="#fcdcb4"/><stop offset="0.6913" stop-color="#f8e8c7"/><stop offset="0.6954" stop-color="#f6f0d2"/><stop offset="0.6957" stop-color="#f6f0d2"/><stop offset="0.7217" stop-color="#f7f2d8"/><stop offset="0.7435" stop-color="#f6f0d3"/><stop offset="0.7438" stop-color="#f6f0d2"/><stop offset="0.7478" stop-color="#f8e8c6"/><stop offset="0.7512" stop-color="#fcdcb4"/><stop offset="0.7568" stop-color="#fcc890"/><stop offset="0.7625" stop-color="#ffb468"/><stop offset="0.7681" stop-color="#ff9e30"/><stop offset="0.7738" stop-color="#ff7a14"/><stop offset="0.7783" stop-color="#ff5411"/><stop offset="0.7795" stop-color="#ff4a10"/><stop offset="0.7857" stop-color="#ff0a00"/><stop offset="0.7870" stop-color="#eb0800"/><stop offset="0.8000" stop-color="#a10100"/><stop offset="0.8025" stop-color="#9c0000"/><stop offset="0.8217" stop-color="#720000"/><stop offset="0.9000" stop-color="#5b0000"/><stop offset="1.0000" stop-color="#5b0000"/></linearGradient>
<linearGradient id="am35" x1="0" y1="4" x2="0" y2="234" gradientUnits="userSpaceOnUse"><stop offset="0.0000" stop-color="#300000"/><stop offset="0.2783" stop-color="#3a0000"/><stop offset="0.3217" stop-color="#5a0000"/><stop offset="0.3435" stop-color="#8b0000"/><stop offset="0.3480" stop-color="#9c0000"/><stop offset="0.3739" stop-color="#f30900"/><stop offset="0.3790" stop-color="#ff0a00"/><stop offset="0.4199" stop-color="#ff4a10"/><stop offset="0.4608" stop-color="#ff7a14"/><stop offset="0.4609" stop-color="#ff7a14"/><stop offset="0.5130" stop-color="#ff7b15"/><stop offset="0.5206" stop-color="#ff7a14"/><stop offset="0.6130" stop-color="#ff6212"/><stop offset="0.6348" stop-color="#ff7a14"/><stop offset="0.6391" stop-color="#ff7e17"/><stop offset="0.6594" stop-color="#ff9e30"/><stop offset="0.6609" stop-color="#ff9f34"/><stop offset="0.6652" stop-color="#ffa644"/><stop offset="0.6703" stop-color="#ffb468"/><stop offset="0.6783" stop-color="#fcc890"/><stop offset="0.6863" stop-color="#fcdcb4"/><stop offset="0.6913" stop-color="#f8e8c7"/><stop offset="0.6954" stop-color="#f6f0d2"/><stop offset="0.6957" stop-color="#f6f0d2"/><stop offset="0.7217" stop-color="#f7f2d8"/><stop offset="0.7435" stop-color="#f6f0d3"/><stop offset="0.7438" stop-color="#f6f0d2"/><stop offset="0.7478" stop-color="#f8e8c6"/><stop offset="0.7512" stop-color="#fcdcb4"/><stop offset="0.7568" stop-color="#fcc890"/><stop offset="0.7625" stop-color="#ffb468"/><stop offset="0.7681" stop-color="#ff9e30"/><stop offset="0.7738" stop-color="#ff7a14"/><stop offset="0.7783" stop-color="#ff5411"/><stop offset="0.7795" stop-color="#ff4a10"/><stop offset="0.7857" stop-color="#ff0a00"/><stop offset="0.7870" stop-color="#eb0800"/><stop offset="0.8000" stop-color="#a10100"/><stop offset="0.8025" stop-color="#9c0000"/><stop offset="0.8217" stop-color="#720000"/><stop offset="0.9000" stop-color="#5b0000"/><stop offset="1.0000" stop-color="#5b0000"/></linearGradient>
<linearGradient id="am36" x1="0" y1="4" x2="0" y2="234" gradientUnits="userSpaceOnUse"><stop offset="0.0000" stop-color="#300000"/><stop offset="0.2783" stop-color="#3a0000"/><stop offset="0.3217" stop-color="#5a0000"/><stop offset="0.3435" stop-color="#8b0000"/><stop offset="0.3480" stop-color="#9c0000"/><stop offset="0.3739" stop-color="#f30900"/><stop offset="0.3790" stop-color="#ff0a00"/><stop offset="0.4199" stop-color="#ff4a10"/><stop offset="0.4608" stop-color="#ff7a14"/><stop offset="0.4609" stop-color="#ff7a14"/><stop offset="0.5130" stop-color="#ff7b15"/><stop offset="0.5206" stop-color="#ff7a14"/><stop offset="0.6130" stop-color="#ff6212"/><stop offset="0.6348" stop-color="#ff7a14"/><stop offset="0.6391" stop-color="#ff7e17"/><stop offset="0.6594" stop-color="#ff9e30"/><stop offset="0.6609" stop-color="#ff9f34"/><stop offset="0.6652" stop-color="#ffa644"/><stop offset="0.6703" stop-color="#ffb468"/><stop offset="0.6783" stop-color="#fcc890"/><stop offset="0.6863" stop-color="#fcdcb4"/><stop offset="0.6913" stop-color="#f8e8c7"/><stop offset="0.6954" stop-color="#f6f0d2"/><stop offset="0.6957" stop-color="#f6f0d2"/><stop offset="0.7217" stop-color="#f7f2d8"/><stop offset="0.7435" stop-color="#f6f0d3"/><stop offset="0.7438" stop-color="#f6f0d2"/><stop offset="0.7478" stop-color="#f8e8c6"/><stop offset="0.7512" stop-color="#fcdcb4"/><stop offset="0.7568" stop-color="#fcc890"/><stop offset="0.7625" stop-color="#ffb468"/><stop offset="0.7681" stop-color="#ff9e30"/><stop offset="0.7738" stop-color="#ff7a14"/><stop offset="0.7783" stop-color="#ff5411"/><stop offset="0.7795" stop-color="#ff4a10"/><stop offset="0.7857" stop-color="#ff0a00"/><stop offset="0.7870" stop-color="#eb0800"/><stop offset="0.8000" stop-color="#a10100"/><stop offset="0.8025" stop-color="#9c0000"/><stop offset="0.8217" stop-color="#720000"/><stop offset="0.9000" stop-color="#5b0000"/><stop offset="1.0000" stop-color="#5b0000"/></linearGradient>
<linearGradient id="am37" x1="0" y1="4" x2="0" y2="234" gradientUnits="userSpaceOnUse"><stop offset="0.0000" stop-color="#300000"/><stop offset="0.2783" stop-color="#3a0000"/><stop offset="0.3217" stop-color="#5a0000"/><stop offset="0.3435" stop-color="#8b0000"/><stop offset="0.3480" stop-color="#9c0000"/><stop offset="0.3739" stop-color="#f30900"/><stop offset="0.3790" stop-color="#ff0a00"/><stop offset="0.4199" stop-color="#ff4a10"/><stop offset="0.4608" stop-color="#ff7a14"/><stop offset="0.4609" stop-color="#ff7a14"/><stop offset="0.5130" stop-color="#ff7b15"/><stop offset="0.5206" stop-color="#ff7a14"/><stop offset="0.6130" stop-color="#ff6212"/><stop offset="0.6348" stop-color="#ff7a14"/><stop offset="0.6391" stop-color="#ff7e17"/><stop offset="0.6594" stop-color="#ff9e30"/><stop offset="0.6609" stop-color="#ff9f34"/><stop offset="0.6652" stop-color="#ffa644"/><stop offset="0.6703" stop-color="#ffb468"/><stop offset="0.6783" stop-color="#fcc890"/><stop offset="0.6863" stop-color="#fcdcb4"/><stop offset="0.6913" stop-color="#f8e8c7"/><stop offset="0.6954" stop-color="#f6f0d2"/><stop offset="0.6957" stop-color="#f6f0d2"/><stop offset="0.7217" stop-color="#f7f2d8"/><stop offset="0.7435" stop-color="#f6f0d3"/><stop offset="0.7438" stop-color="#f6f0d2"/><stop offset="0.7478" stop-color="#f8e8c6"/><stop offset="0.7512" stop-color="#fcdcb4"/><stop offset="0.7568" stop-color="#fcc890"/><stop offset="0.7625" stop-color="#ffb468"/><stop offset="0.7681" stop-color="#ff9e30"/><stop offset="0.7738" stop-color="#ff7a14"/><stop offset="0.7783" stop-color="#ff5411"/><stop offset="0.7795" stop-color="#ff4a10"/><stop offset="0.7857" stop-color="#ff0a00"/><stop offset="0.7870" stop-color="#eb0800"/><stop offset="0.8000" stop-color="#a10100"/><stop offset="0.8025" stop-color="#9c0000"/><stop offset="0.8217" stop-color="#720000"/><stop offset="0.9000" stop-color="#5b0000"/><stop offset="1.0000" stop-color="#5b0000"/></linearGradient>
<clipPath id="clipa"><rect x="54" y="4" width="232" height="230"/></clipPath>
<linearGradient id="as" x1="0" y1="4" x2="0" y2="234" gradientUnits="userSpaceOnUse"><stop offset="0.0000" stop-color="#350000"/><stop offset="0.4478" stop-color="#3d0000"/><stop offset="0.5304" stop-color="#600000"/><stop offset="0.5629" stop-color="#9c0000"/><stop offset="0.5652" stop-color="#a00000"/><stop offset="0.5900" stop-color="#ff0a00"/><stop offset="0.5913" stop-color="#ff0d01"/><stop offset="0.6009" stop-color="#ff4a10"/><stop offset="0.6110" stop-color="#ff7a14"/><stop offset="0.6210" stop-color="#ff9e30"/><stop offset="0.6261" stop-color="#ffa94c"/><stop offset="0.6348" stop-color="#ffb468"/><stop offset="0.6420" stop-color="#fcc890"/><stop offset="0.6478" stop-color="#fcd8ad"/><stop offset="0.6504" stop-color="#fcdcb4"/><stop offset="0.6609" stop-color="#f7eccc"/><stop offset="0.6739" stop-color="#f9e6c3"/><stop offset="0.6784" stop-color="#fcdcb4"/><stop offset="0.6875" stop-color="#fcc890"/><stop offset="0.6913" stop-color="#fdc07f"/><stop offset="0.6972" stop-color="#ffb468"/><stop offset="0.7043" stop-color="#ffa541"/><stop offset="0.7101" stop-color="#ff9e30"/><stop offset="0.7295" stop-color="#ff7a14"/><stop offset="0.7391" stop-color="#ff6212"/><stop offset="0.7422" stop-color="#ff4a10"/><stop offset="0.7435" stop-color="#ff3d0d"/><stop offset="0.7565" stop-color="#ff1703"/><stop offset="0.7680" stop-color="#ff0a00"/><stop offset="0.7783" stop-color="#ed0800"/><stop offset="0.7957" stop-color="#e10700"/><stop offset="0.8123" stop-color="#9c0000"/><stop offset="0.8130" stop-color="#990000"/><stop offset="0.8261" stop-color="#600000"/><stop offset="1.0000" stop-color="#560000"/></linearGradient>
<linearGradient id="bm0" x1="0" y1="4" x2="0" y2="234" gradientUnits="userSpaceOnUse"><stop offset="0.0000" stop-color="#300000"/><stop offset="0.0000" stop-color="#300000"/><stop offset="0.3130" stop-color="#3c0000"/><stop offset="0.3478" stop-color="#520000"/><stop offset="0.4078" stop-color="#9c0000"/><stop offset="0.4261" stop-color="#b10200"/><stop offset="0.5130" stop-color="#d90600"/><stop offset="0.6043" stop-color="#d80600"/><stop offset="0.6363" stop-color="#ff0a00"/><stop offset="0.6435" stop-color="#ff1001"/><stop offset="0.6522" stop-color="#ff2c08"/><stop offset="0.6595" stop-color="#ff4a10"/><stop offset="0.6609" stop-color="#ff4e10"/><stop offset="0.6702" stop-color="#ff7a14"/><stop offset="0.6783" stop-color="#ff962a"/><stop offset="0.6802" stop-color="#ff9e30"/><stop offset="0.6888" stop-color="#ffb468"/><stop offset="0.6975" stop-color="#fcc890"/><stop offset="0.7043" stop-color="#fcd8ad"/><stop offset="0.7069" stop-color="#fcdcb4"/><stop offset="0.7174" stop-color="#f7edcd"/><stop offset="0.7217" stop-color="#f6f0d2"/><stop offset="0.7261" stop-color="#f6f1d5"/><stop offset="0.7304" stop-color="#f7f2d6"/><stop offset="0.7435" stop-color="#f6f1d3"/><stop offset="0.7444" stop-color="#f6f0d2"/><stop offset="0.7522" stop-color="#fbe0ba"/><stop offset="0.7535" stop-color="#fcdcb4"/><stop offset="0.7600" stop-color="#fcc890"/><stop offset="0.7652" stop-color="#feb870"/><stop offset="0.7671" stop-color="#ffb468"/><stop offset="0.7762" stop-color="#ff9e30"/><stop offset="0.7783" stop-color="#ff962a"/><stop offset="0.7843" stop-color="#ff7a14"/><stop offset="0.7922" stop-color="#ff4a10"/><stop offset="0.8000" stop-color="#ff0a00"/><stop offset="0.8000" stop-color="#ff0a00"/><stop offset="0.8043" stop-color="#cd0500"/><stop offset="0.8116" stop-color="#9c0000"/><stop offset="0.8130" stop-color="#910000"/><stop offset="0.8304" stop-color="#630000"/><stop offset="0.8478" stop-color="#520000"/><stop offset="1.0000" stop-color="#5b0000"/></linearGradient>
<linearGradient id="bm1" x1="0" y1="4" x2="0" y2="234" gradientUnits="userSpaceOnUse"><stop offset="0.0000" stop-color="#300000"/><stop offset="0.0000" stop-color="#300000"/><stop offset="0.3130" stop-color="#3c0000"/><stop offset="0.3478" stop-color="#520000"/><stop offset="0.4078" stop-color="#9c0000"/><stop offset="0.4261" stop-color="#b10200"/><stop offset="0.5130" stop-color="#d90600"/><stop offset="0.6043" stop-color="#d80600"/><stop offset="0.6363" stop-color="#ff0a00"/><stop offset="0.6435" stop-color="#ff1001"/><stop offset="0.6522" stop-color="#ff2c08"/><stop offset="0.6595" stop-color="#ff4a10"/><stop offset="0.6609" stop-color="#ff4e10"/><stop offset="0.6702" stop-color="#ff7a14"/><stop offset="0.6783" stop-color="#ff962a"/><stop offset="0.6802" stop-color="#ff9e30"/><stop offset="0.6888" stop-color="#ffb468"/><stop offset="0.6975" stop-color="#fcc890"/><stop offset="0.7043" stop-color="#fcd8ad"/><stop offset="0.7069" stop-color="#fcdcb4"/><stop offset="0.7174" stop-color="#f7edcd"/><stop offset="0.7217" stop-color="#f6f0d2"/><stop offset="0.7261" stop-color="#f6f1d5"/><stop offset="0.7304" stop-color="#f7f2d6"/><stop offset="0.7435" stop-color="#f6f1d3"/><stop offset="0.7444" stop-color="#f6f0d2"/><stop offset="0.7522" stop-color="#fbe0ba"/><stop offset="0.7535" stop-color="#fcdcb4"/><stop offset="0.7600" stop-color="#fcc890"/><stop offset="0.7652" stop-color="#feb870"/><stop offset="0.7671" stop-color="#ffb468"/><stop offset="0.7762" stop-color="#ff9e30"/><stop offset="0.7783" stop-color="#ff962a"/><stop offset="0.7843" stop-color="#ff7a14"/><stop offset="0.7922" stop-color="#ff4a10"/><stop offset="0.8000" stop-color="#ff0a00"/><stop offset="0.8000" stop-color="#ff0a00"/><stop offset="0.8043" stop-color="#cd0500"/><stop offset="0.8116" stop-color="#9c0000"/><stop offset="0.8130" stop-color="#910000"/><stop offset="0.8304" stop-color="#630000"/><stop offset="0.8478" stop-color="#520000"/><stop offset="1.0000" stop-color="#5b0000"/></linearGradient>
<linearGradient id="bm2" x1="0" y1="4" x2="0" y2="234" gradientUnits="userSpaceOnUse"><stop offset="0.0000" stop-color="#300000"/><stop offset="0.0000" stop-color="#300000"/><stop offset="0.3130" stop-color="#3c0000"/><stop offset="0.3478" stop-color="#520000"/><stop offset="0.4079" stop-color="#9c0000"/><stop offset="0.4261" stop-color="#b10200"/><stop offset="0.5130" stop-color="#d90600"/><stop offset="0.6043" stop-color="#d70600"/><stop offset="0.6363" stop-color="#ff0a00"/><stop offset="0.6435" stop-color="#ff1001"/><stop offset="0.6522" stop-color="#ff2c08"/><stop offset="0.6595" stop-color="#ff4a10"/><stop offset="0.6609" stop-color="#ff4e10"/><stop offset="0.6702" stop-color="#ff7a14"/><stop offset="0.6783" stop-color="#ff962a"/><stop offset="0.6802" stop-color="#ff9e30"/><stop offset="0.6888" stop-color="#ffb468"/><stop offset="0.6975" stop-color="#fcc890"/><stop offset="0.7043" stop-color="#fcd8ad"/><stop offset="0.7069" stop-color="#fcdcb4"/><stop offset="0.7174" stop-color="#f7edcd"/><stop offset="0.7217" stop-color="#f6f0d2"/><stop offset="0.7261" stop-color="#f6f1d5"/><stop offset="0.7304" stop-color="#f7f2d6"/><stop offset="0.7435" stop-color="#f6f1d3"/><stop offset="0.7444" stop-color="#f6f0d2"/><stop offset="0.7522" stop-color="#fbe0ba"/><stop offset="0.7535" stop-color="#fcdcb4"/><stop offset="0.7600" stop-color="#fcc890"/><stop offset="0.7652" stop-color="#feb870"/><stop offset="0.7671" stop-color="#ffb468"/><stop offset="0.7762" stop-color="#ff9e30"/><stop offset="0.7783" stop-color="#ff962a"/><stop offset="0.7843" stop-color="#ff7a14"/><stop offset="0.7922" stop-color="#ff4a10"/><stop offset="0.8000" stop-color="#ff0a00"/><stop offset="0.8000" stop-color="#ff0a00"/><stop offset="0.8043" stop-color="#cd0500"/><stop offset="0.8116" stop-color="#9c0000"/><stop offset="0.8130" stop-color="#910000"/><stop offset="0.8304" stop-color="#630000"/><stop offset="0.8478" stop-color="#520000"/><stop offset="1.0000" stop-color="#5b0000"/></linearGradient>
<linearGradient id="bm3" x1="0" y1="4" x2="0" y2="234" gradientUnits="userSpaceOnUse"><stop offset="0.0000" stop-color="#300000"/><stop offset="0.0000" stop-color="#300000"/><stop offset="0.3130" stop-color="#3c0000"/><stop offset="0.3478" stop-color="#520000"/><stop offset="0.4079" stop-color="#9c0000"/><stop offset="0.4261" stop-color="#b10200"/><stop offset="0.5130" stop-color="#d80600"/><stop offset="0.6043" stop-color="#d70600"/><stop offset="0.6364" stop-color="#ff0a00"/><stop offset="0.6435" stop-color="#ff1001"/><stop offset="0.6522" stop-color="#ff2c08"/><stop offset="0.6595" stop-color="#ff4a10"/><stop offset="0.6609" stop-color="#ff4e10"/><stop offset="0.6702" stop-color="#ff7a14"/><stop offset="0.6783" stop-color="#ff962a"/><stop offset="0.6802" stop-color="#ff9e30"/><stop offset="0.6888" stop-color="#ffb468"/><stop offset="0.6975" stop-color="#fcc890"/><stop offset="0.7043" stop-color="#fcd8ad"/><stop offset="0.7069" stop-color="#fcdcb4"/><stop offset="0.7174" stop-color="#f7edcd"/><stop offset="0.7217" stop-color="#f6f0d2"/><stop offset="0.7261" stop-color="#f6f1d5"/><stop offset="0.7304" stop-color="#f7f2d6"/><stop offset="0.7435" stop-color="#f6f1d3"/><stop offset="0.7444" stop-color="#f6f0d2"/><stop offset="0.7522" stop-color="#fbe0ba"/><stop offset="0.7535" stop-color="#fcdcb4"/><stop offset="0.7600" stop-color="#fcc890"/><stop offset="0.7652" stop-color="#feb870"/><stop offset="0.7671" stop-color="#ffb468"/><stop offset="0.7762" stop-color="#ff9e30"/><stop offset="0.7783" stop-color="#ff962a"/><stop offset="0.7843" stop-color="#ff7a14"/><stop offset="0.7922" stop-color="#ff4a10"/><stop offset="0.8000" stop-color="#ff0a00"/><stop offset="0.8000" stop-color="#ff0a00"/><stop offset="0.8043" stop-color="#cd0500"/><stop offset="0.8116" stop-color="#9c0000"/><stop offset="0.8130" stop-color="#910000"/><stop offset="0.8304" stop-color="#630000"/><stop offset="0.8478" stop-color="#520000"/><stop offset="1.0000" stop-color="#5b0000"/></linearGradient>
<linearGradient id="bm4" x1="0" y1="4" x2="0" y2="234" gradientUnits="userSpaceOnUse"><stop offset="0.0000" stop-color="#300000"/><stop offset="0.0000" stop-color="#300000"/><stop offset="0.3130" stop-color="#3c0000"/><stop offset="0.3478" stop-color="#520000"/><stop offset="0.4080" stop-color="#9c0000"/><stop offset="0.4261" stop-color="#b00200"/><stop offset="0.5130" stop-color="#d80600"/><stop offset="0.6043" stop-color="#d70600"/><stop offset="0.6364" stop-color="#ff0a00"/><stop offset="0.6435" stop-color="#ff1001"/><stop offset="0.6522" stop-color="#ff2c08"/><stop offset="0.6595" stop-color="#ff4a10"/><stop offset="0.6609" stop-color="#ff4e10"/><stop offset="0.6703" stop-color="#ff7a14"/><stop offset="0.6783" stop-color="#ff962a"/><stop offset="0.6802" stop-color="#ff9e30"/><stop offset="0.6888" stop-color="#ffb468"/><stop offset="0.6975" stop-color="#fcc890"/><stop offset="0.7043" stop-color="#fcd8ad"/><stop offset="0.7069" stop-color="#fcdcb4"/><stop offset="0.7174" stop-color="#f7edcd"/><stop offset="0.7217" stop-color="#f6f0d2"/><stop offset="0.7261" stop-color="#f6f1d5"/><stop offset="0.7304" stop-color="#f7f2d6"/><stop offset="0.7435" stop-color="#f6f1d3"/><stop offset="0.7444" stop-color="#f6f0d2"/><stop offset="0.7522" stop-color="#fbe0ba"/><stop offset="0.7535" stop-color="#fcdcb4"/><stop offset="0.7600" stop-color="#fcc890"/><stop offset="0.7652" stop-color="#feb870"/><stop offset="0.7671" stop-color="#ffb468"/><stop offset="0.7762" stop-color="#ff9e30"/><stop offset="0.7783" stop-color="#ff962a"/><stop offset="0.7843" stop-color="#ff7a14"/><stop offset="0.7922" stop-color="#ff4a10"/><stop offset="0.8000" stop-color="#ff0a00"/><stop offset="0.8000" stop-color="#ff0a00"/><stop offset="0.8043" stop-color="#cd0500"/><stop offset="0.8116" stop-color="#9c0000"/><stop offset="0.8130" stop-color="#910000"/><stop offset="0.8304" stop-color="#630000"/><stop offset="0.8478" stop-color="#520000"/><stop offset="1.0000" stop-color="#5b0000"/></linearGradient>
<linearGradient id="bm5" x1="0" y1="4" x2="0" y2="234" gradientUnits="userSpaceOnUse"><stop offset="0.0000" stop-color="#300000"/><stop offset="0.0000" stop-color="#300000"/><stop offset="0.3130" stop-color="#3c0000"/><stop offset="0.3478" stop-color="#520000"/><stop offset="0.4081" stop-color="#9c0000"/><stop offset="0.4261" stop-color="#b00200"/><stop offset="0.5087" stop-color="#d60600"/><stop offset="0.6043" stop-color="#d70600"/><stop offset="0.6365" stop-color="#ff0a00"/><stop offset="0.6435" stop-color="#ff1001"/><stop offset="0.6522" stop-color="#ff2c08"/><stop offset="0.6595" stop-color="#ff4a10"/><stop offset="0.6609" stop-color="#ff4e10"/><stop offset="0.6703" stop-color="#ff7a14"/><stop offset="0.6783" stop-color="#ff962a"/><stop offset="0.6802" stop-color="#ff9e30"/><stop offset="0.6888" stop-color="#ffb468"/><stop offset="0.6975" stop-color="#fcc890"/><stop offset="0.7043" stop-color="#fcd8ad"/><stop offset="0.7069" stop-color="#fcdcb4"/><stop offset="0.7174" stop-color="#f7edcd"/><stop offset="0.7217" stop-color="#f6f0d2"/><stop offset="0.7261" stop-color="#f6f1d5"/><stop offset="0.7304" stop-color="#f7f2d6"/><stop offset="0.7435" stop-color="#f6f1d3"/><stop offset="0.7444" stop-color="#f6f0d2"/><stop offset="0.7522" stop-color="#fbe0ba"/><stop offset="0.7535" stop-color="#fcdcb4"/><stop offset="0.7600" stop-color="#fcc890"/><stop offset="0.7652" stop-color="#feb870"/><stop offset="0.7671" stop-color="#ffb468"/><stop offset="0.7762" stop-color="#ff9e30"/><stop offset="0.7783" stop-color="#ff962a"/><stop offset="0.7843" stop-color="#ff7a14"/><stop offset="0.7922" stop-color="#ff4a10"/><stop offset="0.8000" stop-color="#ff0a00"/><stop offset="0.8000" stop-color="#ff0a00"/><stop offset="0.8043" stop-color="#cd0500"/><stop offset="0.8116" stop-color="#9c0000"/><stop offset="0.8130" stop-color="#910000"/><stop offset="0.8304" stop-color="#630000"/><stop offset="0.8478" stop-color="#520000"/><stop offset="1.0000" stop-color="#5b0000"/></linearGradient>
<linearGradient id="bm6" x1="0" y1="4" x2="0" y2="234" gradientUnits="userSpaceOnUse"><stop offset="0.0000" stop-color="#300000"/><stop offset="0.0000" stop-color="#300000"/><stop offset="0.3130" stop-color="#3c0000"/><stop offset="0.3522" stop-color="#550000"/><stop offset="0.4093" stop-color="#9c0000"/><stop offset="0.4261" stop-color="#af0200"/><stop offset="0.5043" stop-color="#d40600"/><stop offset="0.6043" stop-color="#d70600"/><stop offset="0.6366" stop-color="#ff0a00"/><stop offset="0.6435" stop-color="#ff1001"/><stop offset="0.6522" stop-color="#ff2c08"/><stop offset="0.6595" stop-color="#ff4a10"/><stop offset="0.6609" stop-color="#ff4e10"/><stop offset="0.6703" stop-color="#ff7a14"/><stop offset="0.6783" stop-color="#ff962a"/><stop offset="0.6802" stop-color="#ff9e30"/><stop offset="0.6888" stop-color="#ffb468"/><stop offset="0.6975" stop-color="#fcc890"/><stop offset="0.7043" stop-color="#fcd8ad"/><stop offset="0.7069" stop-color="#fcdcb4"/><stop offset="0.7174" stop-color="#f7edcd"/><stop offset="0.7217" stop-color="#f6f0d2"/><stop offset="0.7261" stop-color="#f6f1d5"/><stop offset="0.7304" stop-color="#f7f2d6"/><stop offset="0.7435" stop-color="#f6f1d3"/><stop offset="0.7445" stop-color="#f6f0d2"/><stop offset="0.7522" stop-color="#fbe1bb"/><stop offset="0.7537" stop-color="#fcdcb4"/><stop offset="0.7603" stop-color="#fcc890"/><stop offset="0.7652" stop-color="#feb972"/><stop offset="0.7674" stop-color="#ffb468"/><stop offset="0.7760" stop-color="#ff9e30"/><stop offset="0.7826" stop-color="#ff821a"/><stop offset="0.7844" stop-color="#ff7a14"/><stop offset="0.7923" stop-color="#ff4a10"/><stop offset="0.8000" stop-color="#ff0c00"/><stop offset="0.8002" stop-color="#ff0a00"/><stop offset="0.8043" stop-color="#d00500"/><stop offset="0.8118" stop-color="#9c0000"/><stop offset="0.8130" stop-color="#930000"/><stop offset="0.8304" stop-color="#640000"/><stop offset="0.8478" stop-color="#520000"/><stop offset="1.0000" stop-color="#5b0000"/></linearGradient>
<linearGradient id="bm7" x1="0" y1="4" x2="0" y2="234" gradientUnits="userSpaceOnUse"><stop offset="0.0000" stop-color="#300000"/><stop offset="0.0000" stop-color="#300000"/><stop offset="0.3217" stop-color="#3c0000"/><stop offset="0.3696" stop-color="#630000"/><stop offset="0.4180" stop-color="#9c0000"/><stop offset="0.4435" stop-color="#b70300"/><stop offset="0.5087" stop-color="#cc0500"/><stop offset="0.6043" stop-color="#d60600"/><stop offset="0.6367" stop-color="#ff0a00"/><stop offset="0.6435" stop-color="#ff1001"/><stop offset="0.6522" stop-color="#ff2c08"/><stop offset="0.6595" stop-color="#ff4a10"/><stop offset="0.6609" stop-color="#ff4e10"/><stop offset="0.6703" stop-color="#ff7a14"/><stop offset="0.6783" stop-color="#ff962a"/><stop offset="0.6802" stop-color="#ff9e30"/><stop offset="0.6888" stop-color="#ffb468"/><stop offset="0.6975" stop-color="#fcc890"/><stop offset="0.7043" stop-color="#fcd8ad"/><stop offset="0.7069" stop-color="#fcdcb4"/><stop offset="0.7174" stop-color="#f7edcd"/><stop offset="0.7217" stop-color="#f6f0d2"/><stop offset="0.7261" stop-color="#f6f1d5"/><stop offset="0.7304" stop-color="#f7f2d6"/><stop offset="0.7435" stop-color="#f6f1d4"/><stop offset="0.7448" stop-color="#f6f0d2"/><stop offset="0.7522" stop-color="#fae3bf"/><stop offset="0.7547" stop-color="#fcdcb4"/><stop offset="0.7618" stop-color="#fcc890"/><stop offset="0.7689" stop-color="#ffb468"/><stop offset="0.7696" stop-color="#ffb262"/><stop offset="0.7772" stop-color="#ff9e30"/><stop offset="0.7826" stop-color="#ff871e"/><stop offset="0.7854" stop-color="#ff7a14"/><stop offset="0.7933" stop-color="#ff4a10"/><stop offset="0.8000" stop-color="#ff1302"/><stop offset="0.8012" stop-color="#ff0a00"/><stop offset="0.8043" stop-color="#dc0600"/><stop offset="0.8128" stop-color="#9c0000"/><stop offset="0.8130" stop-color="#9a0000"/><stop offset="0.8304" stop-color="#650000"/><stop offset="0.8478" stop-color="#510000"/><stop offset="1.0000" stop-color="#5b0000"/></linearGradient>
<linearGradient id="bm8" x1="0" y1="4" x2="0" y2="234" gradientUnits="userSpaceOnUse"><stop offset="0.0000" stop-color="#300000"/><stop offset="0.0000" stop-color="#300000"/><stop offset="0.3304" stop-color="#3c0000"/><stop offset="0.3696" stop-color="#5c0000"/><stop offset="0.4237" stop-color="#9c0000"/><stop offset="0.4478" stop-color="#b60300"/><stop offset="0.5087" stop-color="#c30400"/><stop offset="0.5522" stop-color="#c50400"/><stop offset="0.6087" stop-color="#da0600"/><stop offset="0.6369" stop-color="#ff0a00"/><stop offset="0.6435" stop-color="#ff0f01"/><stop offset="0.6522" stop-color="#ff2c08"/><stop offset="0.6595" stop-color="#ff4a10"/><stop offset="0.6609" stop-color="#ff4e10"/><stop offset="0.6703" stop-color="#ff7a14"/><stop offset="0.6783" stop-color="#ff962a"/><stop offset="0.6802" stop-color="#ff9e30"/><stop offset="0.6888" stop-color="#ffb468"/><stop offset="0.6975" stop-color="#fcc890"/><stop offset="0.7043" stop-color="#fcd8ad"/><stop offset="0.7069" stop-color="#fcdcb4"/><stop offset="0.7174" stop-color="#f7edcd"/><stop offset="0.7217" stop-color="#f6f0d2"/><stop offset="0.7261" stop-color="#f6f1d5"/><stop offset="0.7304" stop-color="#f7f2d6"/><stop offset="0.7435" stop-color="#f6f1d4"/><stop offset="0.7457" stop-color="#f6f0d2"/><stop offset="0.7478" stop-color="#f7eece"/><stop offset="0.7562" stop-color="#fcdcb4"/><stop offset="0.7565" stop-color="#fcdbb3"/><stop offset="0.7630" stop-color="#fcc890"/><stop offset="0.7696" stop-color="#ffb569"/><stop offset="0.7698" stop-color="#ffb468"/><stop offset="0.7781" stop-color="#ff9e30"/><stop offset="0.7863" stop-color="#ff7a14"/><stop offset="0.7870" stop-color="#ff7614"/><stop offset="0.7944" stop-color="#ff4a10"/><stop offset="0.8024" stop-color="#ff0a00"/><stop offset="0.8043" stop-color="#e70800"/><stop offset="0.8130" stop-color="#a10100"/><stop offset="0.8146" stop-color="#9c0000"/><stop offset="0.8261" stop-color="#700000"/><stop offset="0.8478" stop-color="#510000"/><stop offset="1.0000" stop-color="#5b0000"/></linearGradient>
<linearGradient id="bm9" x1="0" y1="4" x2="0" y2="234" gradientUnits="userSpaceOnUse"><stop offset="0.0000" stop-color="#300000"/><stop offset="0.0000" stop-color="#300000"/><stop offset="0.3348" stop-color="#3c0000"/><stop offset="0.3696" stop-color="#540000"/><stop offset="0.4282" stop-color="#9c0000"/><stop offset="0.4478" stop-color="#b20200"/><stop offset="0.5043" stop-color="#bf0400"/><stop offset="0.5391" stop-color="#b80300"/><stop offset="0.6130" stop-color="#de0700"/><stop offset="0.6372" stop-color="#ff0a00"/><stop offset="0.6435" stop-color="#ff0f01"/><stop offset="0.6522" stop-color="#ff2c08"/><stop offset="0.6595" stop-color="#ff4a10"/><stop offset="0.6609" stop-color="#ff4e10"/><stop offset="0.6703" stop-color="#ff7a14"/><stop offset="0.6783" stop-color="#ff962a"/><stop offset="0.6802" stop-color="#ff9e30"/><stop offset="0.6888" stop-color="#ffb468"/><stop offset="0.6975" stop-color="#fcc890"/><stop offset="0.7043" stop-color="#fcd8ad"/><stop offset="0.7069" stop-color="#fcdcb4"/><stop offset="0.7174" stop-color="#f7edcd"/><stop offset="0.7217" stop-color="#f6f0d2"/><stop offset="0.7261" stop-color="#f6f1d4"/><stop offset="0.7304" stop-color="#f7f2d6"/><stop offset="0.7435" stop-color="#f6f1d4"/><stop offset="0.7474" stop-color="#f6f0d2"/><stop offset="0.7478" stop-color="#f6f0d2"/><stop offset="0.7565" stop-color="#fbdfb9"/><stop offset="0.7576" stop-color="#fcdcb4"/><stop offset="0.7642" stop-color="#fcc890"/><stop offset="0.7652" stop-color="#fcc58a"/><stop offset="0.7696" stop-color="#ffb76e"/><stop offset="0.7709" stop-color="#ffb468"/><stop offset="0.7792" stop-color="#ff9e30"/><stop offset="0.7870" stop-color="#ff7c16"/><stop offset="0.7874" stop-color="#ff7a14"/><stop offset="0.7954" stop-color="#ff4a10"/><stop offset="0.8034" stop-color="#ff0a00"/><stop offset="0.8043" stop-color="#f30900"/><stop offset="0.8087" stop-color="#c60400"/><stop offset="0.8153" stop-color="#9c0000"/><stop offset="0.8174" stop-color="#8e0000"/><stop offset="0.8391" stop-color="#5b0000"/><stop offset="0.8565" stop-color="#540000"/><stop offset="1.0000" stop-color="#5b0000"/></linearGradient>
<linearGradient id="bm10" x1="0" y1="4" x2="0" y2="234" gradientUnits="userSpaceOnUse"><stop offset="0.0000" stop-color="#300000"/><stop offset="0.0000" stop-color="#300000"/><stop offset="0.3522" stop-color="#3e0000"/><stop offset="0.3913" stop-color="#690000"/><stop offset="0.4325" stop-color="#9c0000"/><stop offset="0.4522" stop-color="#b20200"/><stop offset="0.5087" stop-color="#b90300"/><stop offset="0.5391" stop-color="#b30200"/><stop offset="0.6130" stop-color="#de0700"/><stop offset="0.6373" stop-color="#ff0a00"/><stop offset="0.6435" stop-color="#ff0f01"/><stop offset="0.6522" stop-color="#ff2b08"/><stop offset="0.6595" stop-color="#ff4a10"/><stop offset="0.6609" stop-color="#ff4e10"/><stop offset="0.6703" stop-color="#ff7a14"/><stop offset="0.6783" stop-color="#ff962a"/><stop offset="0.6802" stop-color="#ff9e30"/><stop offset="0.6888" stop-color="#ffb468"/><stop offset="0.6975" stop-color="#fcc890"/><stop offset="0.7043" stop-color="#fcd8ad"/><stop offset="0.7069" stop-color="#fcdcb4"/><stop offset="0.7174" stop-color="#f7edcd"/><stop offset="0.7217" stop-color="#f6f0d2"/><stop offset="0.7261" stop-color="#f6f1d4"/><stop offset="0.7304" stop-color="#f7f2d6"/><stop offset="0.7478" stop-color="#f6f1d3"/><stop offset="0.7489" stop-color="#f6f0d2"/><stop offset="0.7565" stop-color="#fae3bf"/><stop offset="0.7593" stop-color="#fcdcb4"/><stop offset="0.7609" stop-color="#fcd8ad"/><stop offset="0.7655" stop-color="#fcc890"/><stop offset="0.7696" stop-color="#feba74"/><stop offset="0.7720" stop-color="#ffb468"/><stop offset="0.7803" stop-color="#ff9e30"/><stop offset="0.7870" stop-color="#ff8119"/><stop offset="0.7885" stop-color="#ff7a14"/><stop offset="0.7964" stop-color="#ff4a10"/><stop offset="0.8043" stop-color="#ff0a00"/><stop offset="0.8043" stop-color="#fe0a00"/><stop offset="0.8087" stop-color="#cd0500"/><stop offset="0.8159" stop-color="#9c0000"/><stop offset="0.8174" stop-color="#910000"/><stop offset="0.8348" stop-color="#630000"/><stop offset="0.8522" stop-color="#520000"/><stop offset="1.0000" stop-color="#5b0000"/></linearGradient>
<linearGradient id="bm11" x1="0" y1="4" x2="0" y2="234" gradientUnits="userSpaceOnUse"><stop offset="0.0000" stop-color="#300000"/><stop offset="0.0000" stop-color="#300000"/><stop offset="0.3478" stop-color="#3d0000"/><stop offset="0.3739" stop-color="#530000"/><stop offset="0.4306" stop-color="#9c0000"/><stop offset="0.4522" stop-color="#b50300"/><stop offset="0.5130" stop-color="#c00400"/><stop offset="0.5478" stop-color="#c10400"/><stop offset="0.6130" stop-color="#df0700"/><stop offset="0.6380" stop-color="#ff0a00"/><stop offset="0.6435" stop-color="#ff0f01"/><stop offset="0.6522" stop-color="#ff2807"/><stop offset="0.6596" stop-color="#ff4a10"/><stop offset="0.6652" stop-color="#ff5d12"/><stop offset="0.6713" stop-color="#ff7a14"/><stop offset="0.6783" stop-color="#ff9227"/><stop offset="0.6810" stop-color="#ff9e30"/><stop offset="0.6897" stop-color="#ffb468"/><stop offset="0.6984" stop-color="#fcc890"/><stop offset="0.7043" stop-color="#fcd6a9"/><stop offset="0.7080" stop-color="#fcdcb4"/><stop offset="0.7174" stop-color="#f7eccb"/><stop offset="0.7210" stop-color="#f6f0d2"/><stop offset="0.7217" stop-color="#f6f0d3"/><stop offset="0.7304" stop-color="#f7f2d6"/><stop offset="0.7478" stop-color="#f6f1d3"/><stop offset="0.7492" stop-color="#f6f0d2"/><stop offset="0.7565" stop-color="#fae4c0"/><stop offset="0.7600" stop-color="#fcdcb4"/><stop offset="0.7609" stop-color="#fcdab0"/><stop offset="0.7660" stop-color="#fcc890"/><stop offset="0.7696" stop-color="#febc77"/><stop offset="0.7726" stop-color="#ffb468"/><stop offset="0.7806" stop-color="#ff9e30"/><stop offset="0.7886" stop-color="#ff7a14"/><stop offset="0.7913" stop-color="#ff6a13"/><stop offset="0.7966" stop-color="#ff4a10"/><stop offset="0.8047" stop-color="#ff0a00"/><stop offset="0.8087" stop-color="#cd0500"/><stop offset="0.8159" stop-color="#9c0000"/><stop offset="0.8174" stop-color="#910000"/><stop offset="0.8348" stop-color="#640000"/><stop offset="0.8522" stop-color="#530000"/><stop offset="1.0000" stop-color="#5b0000"/></linearGradient>
<linearGradient id="bm12" x1="0" y1="4" x2="0" y2="234" gradientUnits="userSpaceOnUse"><stop offset="0.0000" stop-color="#300000"/><stop offset="0.0000" stop-color="#300000"/><stop offset="0.3435" stop-color="#3d0000"/><stop offset="0.3696" stop-color="#4f0000"/><stop offset="0.4271" stop-color="#9c0000"/><stop offset="0.4478" stop-color="#b50300"/><stop offset="0.5087" stop-color="#cd0500"/><stop offset="0.5522" stop-color="#ce0500"/><stop offset="0.6087" stop-color="#db0600"/><stop offset="0.6386" stop-color="#ff0a00"/><stop offset="0.6435" stop-color="#ff0e01"/><stop offset="0.6522" stop-color="#ff2406"/><stop offset="0.6607" stop-color="#ff4a10"/><stop offset="0.6652" stop-color="#ff5911"/><stop offset="0.6720" stop-color="#ff7a14"/><stop offset="0.6820" stop-color="#ff9e30"/><stop offset="0.6826" stop-color="#ff9f33"/><stop offset="0.6907" stop-color="#ffb468"/><stop offset="0.6994" stop-color="#fcc890"/><stop offset="0.7043" stop-color="#fcd4a5"/><stop offset="0.7094" stop-color="#fcdcb4"/><stop offset="0.7213" stop-color="#f6f0d2"/><stop offset="0.7217" stop-color="#f6f0d2"/><stop offset="0.7348" stop-color="#f7f2d6"/><stop offset="0.7478" stop-color="#f6f1d4"/><stop offset="0.7493" stop-color="#f6f0d2"/><stop offset="0.7565" stop-color="#f9e5c2"/><stop offset="0.7607" stop-color="#fcdcb4"/><stop offset="0.7609" stop-color="#fcdcb3"/><stop offset="0.7665" stop-color="#fcc890"/><stop offset="0.7696" stop-color="#febd7a"/><stop offset="0.7732" stop-color="#ffb468"/><stop offset="0.7811" stop-color="#ff9e30"/><stop offset="0.7889" stop-color="#ff7a14"/><stop offset="0.7913" stop-color="#ff6c13"/><stop offset="0.7968" stop-color="#ff4a10"/><stop offset="0.8047" stop-color="#ff0a00"/><stop offset="0.8087" stop-color="#cd0500"/><stop offset="0.8159" stop-color="#9c0000"/><stop offset="0.8174" stop-color="#910000"/><stop offset="0.8348" stop-color="#640000"/><stop offset="0.8522" stop-color="#540000"/><stop offset="1.0000" stop-color="#5b0000"/></linearGradient>
<linearGradient id="bm13" x1="0" y1="4" x2="0" y2="234" gradientUnits="userSpaceOnUse"><stop offset="0.0000" stop-color="#300000"/><stop offset="0.0000" stop-color="#300000"/><stop offset="0.3435" stop-color="#3e0000"/><stop offset="0.3696" stop-color="#510000"/><stop offset="0.4239" stop-color="#9c0000"/><stop offset="0.4478" stop-color="#ba0300"/><stop offset="0.5087" stop-color="#d80600"/><stop offset="0.6087" stop-color="#dc0600"/><stop offset="0.6396" stop-color="#ff0a00"/><stop offset="0.6435" stop-color="#ff0d01"/><stop offset="0.6522" stop-color="#ff2005"/><stop offset="0.6618" stop-color="#ff4a10"/><stop offset="0.6652" stop-color="#ff5511"/><stop offset="0.6730" stop-color="#ff7a14"/><stop offset="0.6826" stop-color="#ff9c2f"/><stop offset="0.6830" stop-color="#ff9e30"/><stop offset="0.6918" stop-color="#ffb468"/><stop offset="0.7006" stop-color="#fcc890"/><stop offset="0.7087" stop-color="#fcdab1"/><stop offset="0.7096" stop-color="#fcdcb4"/><stop offset="0.7215" stop-color="#f6f0d2"/><stop offset="0.7217" stop-color="#f6f0d2"/><stop offset="0.7348" stop-color="#f7f2d6"/><stop offset="0.7478" stop-color="#f6f1d4"/><stop offset="0.7495" stop-color="#f6f0d2"/><stop offset="0.7565" stop-color="#f9e6c3"/><stop offset="0.7609" stop-color="#fcddb6"/><stop offset="0.7612" stop-color="#fcdcb4"/><stop offset="0.7670" stop-color="#fcc890"/><stop offset="0.7696" stop-color="#fdbf7e"/><stop offset="0.7738" stop-color="#ffb468"/><stop offset="0.7815" stop-color="#ff9e30"/><stop offset="0.7893" stop-color="#ff7a14"/><stop offset="0.7913" stop-color="#ff6d13"/><stop offset="0.7970" stop-color="#ff4a10"/><stop offset="0.8048" stop-color="#ff0a00"/><stop offset="0.8087" stop-color="#cd0500"/><stop offset="0.8159" stop-color="#9c0000"/><stop offset="0.8174" stop-color="#910000"/><stop offset="0.8348" stop-color="#650000"/><stop offset="0.8522" stop-color="#550000"/><stop offset="1.0000" stop-color="#5b0000"/></linearGradient>
<linearGradient id="bm14" x1="0" y1="4" x2="0" y2="234" gradientUnits="userSpaceOnUse"><stop offset="0.0000" stop-color="#300000"/><stop offset="0.0000" stop-color="#300000"/><stop offset="0.3391" stop-color="#3c0000"/><stop offset="0.3696" stop-color="#530000"/><stop offset="0.4209" stop-color="#9c0000"/><stop offset="0.4478" stop-color="#bf0400"/><stop offset="0.5043" stop-color="#e40700"/><stop offset="0.6043" stop-color="#d90600"/><stop offset="0.6406" stop-color="#ff0a00"/><stop offset="0.6435" stop-color="#ff0c00"/><stop offset="0.6522" stop-color="#ff1c05"/><stop offset="0.6631" stop-color="#ff4a10"/><stop offset="0.6652" stop-color="#ff5111"/><stop offset="0.6740" stop-color="#ff7a14"/><stop offset="0.6826" stop-color="#ff982c"/><stop offset="0.6839" stop-color="#ff9e30"/><stop offset="0.6926" stop-color="#ffb468"/><stop offset="0.7013" stop-color="#fcc890"/><stop offset="0.7087" stop-color="#fcd9ae"/><stop offset="0.7104" stop-color="#fcdcb4"/><stop offset="0.7217" stop-color="#f6f0d2"/><stop offset="0.7217" stop-color="#f6f0d2"/><stop offset="0.7348" stop-color="#f7f2d6"/><stop offset="0.7478" stop-color="#f6f1d4"/><stop offset="0.7497" stop-color="#f6f0d2"/><stop offset="0.7565" stop-color="#f9e7c4"/><stop offset="0.7609" stop-color="#fbdfb8"/><stop offset="0.7617" stop-color="#fcdcb4"/><stop offset="0.7674" stop-color="#fcc890"/><stop offset="0.7696" stop-color="#fdc181"/><stop offset="0.7743" stop-color="#ffb468"/><stop offset="0.7819" stop-color="#ff9e30"/><stop offset="0.7894" stop-color="#ff7a14"/><stop offset="0.7957" stop-color="#ff5311"/><stop offset="0.7970" stop-color="#ff4a10"/><stop offset="0.8048" stop-color="#ff0a00"/><stop offset="0.8087" stop-color="#cd0500"/><stop offset="0.8159" stop-color="#9c0000"/><stop offset="0.8174" stop-color="#910000"/><stop offset="0.8348" stop-color="#650000"/><stop offset="0.8565" stop-color="#570000"/><stop offset="1.0000" stop-color="#5b0000"/></linearGradient>
<linearGradient id="bm15" x1="0" y1="4" x2="0" y2="234" gradientUnits="userSpaceOnUse"><stop offset="0.0000" stop-color="#300000"/><stop offset="0.0000" stop-color="#300000"/><stop offset="0.3391" stop-color="#3d0000"/><stop offset="0.3696" stop-color="#550000"/><stop offset="0.4204" stop-color="#9c0000"/><stop offset="0.4522" stop-color="#c50400"/><stop offset="0.5087" stop-color="#e70800"/><stop offset="0.6043" stop-color="#d90600"/><stop offset="0.6391" stop-color="#f90900"/><stop offset="0.6417" stop-color="#ff0a00"/><stop offset="0.6522" stop-color="#ff1904"/><stop offset="0.6643" stop-color="#ff4a10"/><stop offset="0.6652" stop-color="#ff4d10"/><stop offset="0.6750" stop-color="#ff7a14"/><stop offset="0.6826" stop-color="#ff9428"/><stop offset="0.6849" stop-color="#ff9e30"/><stop offset="0.6936" stop-color="#ffb468"/><stop offset="0.7022" stop-color="#fcc890"/><stop offset="0.7087" stop-color="#fcd7ab"/><stop offset="0.7113" stop-color="#fcdcb4"/><stop offset="0.7217" stop-color="#f6efd1"/><stop offset="0.7229" stop-color="#f6f0d2"/><stop offset="0.7348" stop-color="#f7f2d6"/><stop offset="0.7478" stop-color="#f6f1d4"/><stop offset="0.7506" stop-color="#f6f0d2"/><stop offset="0.7522" stop-color="#f6efd0"/><stop offset="0.7609" stop-color="#fbe0ba"/><stop offset="0.7620" stop-color="#fcdcb4"/><stop offset="0.7678" stop-color="#fcc890"/><stop offset="0.7696" stop-color="#fdc284"/><stop offset="0.7747" stop-color="#ffb468"/><stop offset="0.7783" stop-color="#ffa94d"/><stop offset="0.7822" stop-color="#ff9e30"/><stop offset="0.7898" stop-color="#ff7a14"/><stop offset="0.7973" stop-color="#ff4a10"/><stop offset="0.8049" stop-color="#ff0a00"/><stop offset="0.8087" stop-color="#ce0500"/><stop offset="0.8160" stop-color="#9c0000"/><stop offset="0.8174" stop-color="#910000"/><stop offset="0.8348" stop-color="#650000"/><stop offset="0.8565" stop-color="#570000"/><stop offset="1.0000" stop-color="#5b0000"/></linearGradient>
<linearGradient id="bm16" x1="0" y1="4" x2="0" y2="234" gradientUnits="userSpaceOnUse"><stop offset="0.0000" stop-color="#300000"/><stop offset="0.0000" stop-color="#300000"/><stop offset="0.3348" stop-color="#3c0000"/><stop offset="0.3696" stop-color="#550000"/><stop offset="0.4230" stop-color="#9c0000"/><stop offset="0.4522" stop-color="#bf0400"/><stop offset="0.5087" stop-color="#e00700"/><stop offset="0.6087" stop-color="#d90600"/><stop offset="0.6435" stop-color="#fd0a00"/><stop offset="0.6443" stop-color="#ff0a00"/><stop offset="0.6522" stop-color="#ff1603"/><stop offset="0.6652" stop-color="#ff480f"/><stop offset="0.6656" stop-color="#ff4a10"/><stop offset="0.6762" stop-color="#ff7a14"/><stop offset="0.6826" stop-color="#ff9025"/><stop offset="0.6861" stop-color="#ff9e30"/><stop offset="0.6949" stop-color="#ffb468"/><stop offset="0.7036" stop-color="#fcc890"/><stop offset="0.7123" stop-color="#fcdcb4"/><stop offset="0.7130" stop-color="#fcdeb6"/><stop offset="0.7217" stop-color="#f7eecf"/><stop offset="0.7252" stop-color="#f6f0d2"/><stop offset="0.7348" stop-color="#f7f2d6"/><stop offset="0.7478" stop-color="#f6f1d4"/><stop offset="0.7509" stop-color="#f6f0d2"/><stop offset="0.7522" stop-color="#f6efd0"/><stop offset="0.7609" stop-color="#fbe0ba"/><stop offset="0.7621" stop-color="#fcdcb4"/><stop offset="0.7682" stop-color="#fcc890"/><stop offset="0.7739" stop-color="#ffb56b"/><stop offset="0.7744" stop-color="#ffb468"/><stop offset="0.7820" stop-color="#ff9e30"/><stop offset="0.7896" stop-color="#ff7a14"/><stop offset="0.7913" stop-color="#ff6f13"/><stop offset="0.7972" stop-color="#ff4a10"/><stop offset="0.8049" stop-color="#ff0a00"/><stop offset="0.8087" stop-color="#ce0500"/><stop offset="0.8161" stop-color="#9c0000"/><stop offset="0.8174" stop-color="#920000"/><stop offset="0.8348" stop-color="#650000"/><stop offset="0.8565" stop-color="#580000"/><stop offset="1.0000" stop-color="#5b0000"/></linearGradient>
<linearGradient id="bm17" x1="0" y1="4" x2="0" y2="234" gradientUnits="userSpaceOnUse"><stop offset="0.0000" stop-color="#300000"/><stop offset="0.0000" stop-color="#300000"/><stop offset="0.3348" stop-color="#3c0000"/><stop offset="0.3696" stop-color="#550000"/><stop offset="0.4271" stop-color="#9c0000"/><stop offset="0.4565" stop-color="#bd0300"/><stop offset="0.5174" stop-color="#d90600"/><stop offset="0.6087" stop-color="#d70600"/><stop offset="0.6435" stop-color="#fa0900"/><stop offset="0.6457" stop-color="#ff0a00"/><stop offset="0.6522" stop-color="#ff1302"/><stop offset="0.6660" stop-color="#ff4a10"/><stop offset="0.6696" stop-color="#ff5411"/><stop offset="0.6775" stop-color="#ff7a14"/><stop offset="0.6870" stop-color="#ff9b2e"/><stop offset="0.6876" stop-color="#ff9e30"/><stop offset="0.6961" stop-color="#ffb468"/><stop offset="0.7046" stop-color="#fcc890"/><stop offset="0.7130" stop-color="#fcdcb4"/><stop offset="0.7131" stop-color="#fcdcb4"/><stop offset="0.7217" stop-color="#f7edcd"/><stop offset="0.7270" stop-color="#f6f0d2"/><stop offset="0.7348" stop-color="#f7f2d6"/><stop offset="0.7478" stop-color="#f6f1d4"/><stop offset="0.7512" stop-color="#f6f0d2"/><stop offset="0.7522" stop-color="#f6efd1"/><stop offset="0.7609" stop-color="#fbe0ba"/><stop offset="0.7621" stop-color="#fcdcb4"/><stop offset="0.7682" stop-color="#fcc890"/><stop offset="0.7739" stop-color="#ffb66b"/><stop offset="0.7745" stop-color="#ffb468"/><stop offset="0.7820" stop-color="#ff9e30"/><stop offset="0.7895" stop-color="#ff7a14"/><stop offset="0.7970" stop-color="#ff4a10"/><stop offset="0.8043" stop-color="#ff0b00"/><stop offset="0.8045" stop-color="#ff0a00"/><stop offset="0.8087" stop-color="#cf0500"/><stop offset="0.8162" stop-color="#9c0000"/><stop offset="0.8174" stop-color="#930000"/><stop offset="0.8348" stop-color="#650000"/><stop offset="0.8609" stop-color="#590000"/><stop offset="1.0000" stop-color="#5b0000"/></linearGradient>
<linearGradient id="bm18" x1="0" y1="4" x2="0" y2="234" gradientUnits="userSpaceOnUse"><stop offset="0.0000" stop-color="#300000"/><stop offset="0.0000" stop-color="#300000"/><stop offset="0.3348" stop-color="#3d0000"/><stop offset="0.3739" stop-color="#5b0000"/><stop offset="0.4317" stop-color="#9c0000"/><stop offset="0.4652" stop-color="#bf0300"/><stop offset="0.5217" stop-color="#d40600"/><stop offset="0.6130" stop-color="#d60600"/><stop offset="0.6478" stop-color="#fd0a00"/><stop offset="0.6482" stop-color="#ff0a00"/><stop offset="0.6609" stop-color="#ff2e09"/><stop offset="0.6679" stop-color="#ff4a10"/><stop offset="0.6696" stop-color="#ff4f10"/><stop offset="0.6788" stop-color="#ff7a14"/><stop offset="0.6870" stop-color="#ff962a"/><stop offset="0.6887" stop-color="#ff9e30"/><stop offset="0.6972" stop-color="#ffb468"/><stop offset="0.7043" stop-color="#fcc58a"/><stop offset="0.7056" stop-color="#fcc890"/><stop offset="0.7130" stop-color="#fcdab1"/><stop offset="0.7140" stop-color="#fcdcb4"/><stop offset="0.7217" stop-color="#f7ebcb"/><stop offset="0.7283" stop-color="#f6f0d2"/><stop offset="0.7348" stop-color="#f6f1d5"/><stop offset="0.7478" stop-color="#f6f1d4"/><stop offset="0.7516" stop-color="#f6f0d2"/><stop offset="0.7522" stop-color="#f6f0d1"/><stop offset="0.7609" stop-color="#fbe0ba"/><stop offset="0.7621" stop-color="#fcdcb4"/><stop offset="0.7683" stop-color="#fcc890"/><stop offset="0.7739" stop-color="#ffb66c"/><stop offset="0.7747" stop-color="#ffb468"/><stop offset="0.7821" stop-color="#ff9e30"/><stop offset="0.7895" stop-color="#ff7a14"/><stop offset="0.7969" stop-color="#ff4a10"/><stop offset="0.8043" stop-color="#ff0a00"/><stop offset="0.8044" stop-color="#ff0a00"/><stop offset="0.8087" stop-color="#cf0500"/><stop offset="0.8163" stop-color="#9c0000"/><stop offset="0.8174" stop-color="#940000"/><stop offset="0.8348" stop-color="#650000"/><stop offset="0.8609" stop-color="#590000"/><stop offset="1.0000" stop-color="#5b0000"/></linearGradient>
<linearGradient id="bm19" x1="0" y1="4" x2="0" y2="234" gradientUnits="userSpaceOnUse"><stop offset="0.0000" stop-color="#300000"/><stop offset="0.0000" stop-color="#300000"/><stop offset="0.3304" stop-color="#3c0000"/><stop offset="0.3739" stop-color="#5b0000"/><stop offset="0.4360" stop-color="#9c0000"/><stop offset="0.4739" stop-color="#c10400"/><stop offset="0.5348" stop-color="#d00500"/><stop offset="0.6130" stop-color="#d30600"/><stop offset="0.6478" stop-color="#fa0a00"/><stop offset="0.6490" stop-color="#ff0a00"/><stop offset="0.6609" stop-color="#ff2908"/><stop offset="0.6696" stop-color="#ff4910"/><stop offset="0.6697" stop-color="#ff4a10"/><stop offset="0.6802" stop-color="#ff7a14"/><stop offset="0.6870" stop-color="#ff9126"/><stop offset="0.6900" stop-color="#ff9e30"/><stop offset="0.6988" stop-color="#ffb468"/><stop offset="0.7000" stop-color="#ffb76e"/><stop offset="0.7067" stop-color="#fcc890"/><stop offset="0.7130" stop-color="#fcd8ae"/><stop offset="0.7148" stop-color="#fcdcb4"/><stop offset="0.7217" stop-color="#f8eac8"/><stop offset="0.7279" stop-color="#f6f0d2"/><stop offset="0.7304" stop-color="#f6f1d4"/><stop offset="0.7435" stop-color="#f6f1d5"/><stop offset="0.7520" stop-color="#f6f0d2"/><stop offset="0.7522" stop-color="#f6f0d2"/><stop offset="0.7609" stop-color="#fbe0ba"/><stop offset="0.7621" stop-color="#fcdcb4"/><stop offset="0.7684" stop-color="#fcc890"/><stop offset="0.7739" stop-color="#ffb66d"/><stop offset="0.7748" stop-color="#ffb468"/><stop offset="0.7822" stop-color="#ff9e30"/><stop offset="0.7895" stop-color="#ff7a14"/><stop offset="0.7969" stop-color="#ff4a10"/><stop offset="0.8043" stop-color="#ff0a00"/><stop offset="0.8043" stop-color="#fe0a00"/><stop offset="0.8087" stop-color="#d00500"/><stop offset="0.8164" stop-color="#9c0000"/><stop offset="0.8174" stop-color="#940000"/><stop offset="0.8348" stop-color="#650000"/><stop offset="0.8652" stop-color="#5a0000"/><stop offset="1.0000" stop-color="#5b0000"/></linearGradient>
<linearGradient id="bm20" x1="0" y1="4" x2="0" y2="234" gradientUnits="userSpaceOnUse"><stop offset="0.0000" stop-color="#300000"/><stop offset="0.0000" stop-color="#300000"/><stop offset="0.3304" stop-color="#3c0000"/><stop offset="0.3783" stop-color="#600000"/><stop offset="0.4397" stop-color="#9c0000"/><stop offset="0.4826" stop-color="#c30400"/><stop offset="0.6174" stop-color="#d10500"/><stop offset="0.6503" stop-color="#ff0a00"/><stop offset="0.6522" stop-color="#ff0c00"/><stop offset="0.6696" stop-color="#ff420e"/><stop offset="0.6709" stop-color="#ff4a10"/><stop offset="0.6816" stop-color="#ff7a14"/><stop offset="0.6870" stop-color="#ff8c22"/><stop offset="0.6913" stop-color="#ff9e30"/><stop offset="0.7000" stop-color="#ffb468"/><stop offset="0.7000" stop-color="#ffb468"/><stop offset="0.7075" stop-color="#fcc890"/><stop offset="0.7130" stop-color="#fcd7aa"/><stop offset="0.7157" stop-color="#fcdcb4"/><stop offset="0.7217" stop-color="#f8e8c6"/><stop offset="0.7285" stop-color="#f6f0d2"/><stop offset="0.7304" stop-color="#f6f1d4"/><stop offset="0.7435" stop-color="#f6f1d5"/><stop offset="0.7522" stop-color="#f6f0d2"/><stop offset="0.7523" stop-color="#f6f0d2"/><stop offset="0.7609" stop-color="#fbe0ba"/><stop offset="0.7621" stop-color="#fcdcb4"/><stop offset="0.7686" stop-color="#fcc890"/><stop offset="0.7752" stop-color="#ffb468"/><stop offset="0.7783" stop-color="#ffaa4d"/><stop offset="0.7821" stop-color="#ff9e30"/><stop offset="0.7895" stop-color="#ff7a14"/><stop offset="0.7968" stop-color="#ff4a10"/><stop offset="0.8041" stop-color="#ff0a00"/><stop offset="0.8043" stop-color="#fc0a00"/><stop offset="0.8130" stop-color="#b00200"/><stop offset="0.8170" stop-color="#9c0000"/><stop offset="0.8217" stop-color="#820000"/><stop offset="0.8435" stop-color="#5d0000"/><stop offset="1.0000" stop-color="#5b0000"/></linearGradient>
<linearGradient id="bm21" x1="0" y1="4" x2="0" y2="234" gradientUnits="userSpaceOnUse"><stop offset="0.0000" stop-color="#300000"/><stop offset="0.0000" stop-color="#300000"/><stop offset="0.3304" stop-color="#3d0000"/><stop offset="0.3826" stop-color="#640000"/><stop offset="0.4439" stop-color="#9c0000"/><stop offset="0.4870" stop-color="#c00400"/><stop offset="0.6217" stop-color="#cf0500"/><stop offset="0.6522" stop-color="#fe0a00"/><stop offset="0.6525" stop-color="#ff0a00"/><stop offset="0.6696" stop-color="#ff3a0c"/><stop offset="0.6721" stop-color="#ff4a10"/><stop offset="0.6826" stop-color="#ff7a14"/><stop offset="0.6913" stop-color="#ff982b"/><stop offset="0.6927" stop-color="#ff9e30"/><stop offset="0.7000" stop-color="#ffb160"/><stop offset="0.7011" stop-color="#ffb468"/><stop offset="0.7083" stop-color="#fcc890"/><stop offset="0.7130" stop-color="#fcd5a7"/><stop offset="0.7165" stop-color="#fcdcb4"/><stop offset="0.7217" stop-color="#f9e7c4"/><stop offset="0.7289" stop-color="#f6f0d2"/><stop offset="0.7304" stop-color="#f6f1d3"/><stop offset="0.7435" stop-color="#f7f2d6"/><stop offset="0.7522" stop-color="#f6f0d2"/><stop offset="0.7525" stop-color="#f6f0d2"/><stop offset="0.7609" stop-color="#fbe0b9"/><stop offset="0.7621" stop-color="#fcdcb4"/><stop offset="0.7687" stop-color="#fcc890"/><stop offset="0.7754" stop-color="#ffb468"/><stop offset="0.7821" stop-color="#ff9e30"/><stop offset="0.7826" stop-color="#ff9b2e"/><stop offset="0.7892" stop-color="#ff7a14"/><stop offset="0.7964" stop-color="#ff4a10"/><stop offset="0.8000" stop-color="#ff2a08"/><stop offset="0.8045" stop-color="#ff0a00"/><stop offset="0.8087" stop-color="#d10500"/><stop offset="0.8165" stop-color="#9c0000"/><stop offset="0.8174" stop-color="#960000"/><stop offset="0.8304" stop-color="#6d0000"/><stop offset="0.8565" stop-color="#5b0000"/><stop offset="1.0000" stop-color="#5b0000"/></linearGradient>
<linearGradient id="bm22" x1="0" y1="4" x2="0" y2="234" gradientUnits="userSpaceOnUse"><stop offset="0.0000" stop-color="#300000"/><stop offset="0.0000" stop-color="#300000"/><stop offset="0.3217" stop-color="#3c0000"/><stop offset="0.3783" stop-color="#5f0000"/><stop offset="0.4473" stop-color="#9c0000"/><stop offset="0.4870" stop-color="#bc0300"/><stop offset="0.6217" stop-color="#cb0500"/><stop offset="0.6522" stop-color="#f90900"/><stop offset="0.6536" stop-color="#ff0a00"/><stop offset="0.6696" stop-color="#ff330a"/><stop offset="0.6734" stop-color="#ff4a10"/><stop offset="0.6840" stop-color="#ff7a14"/><stop offset="0.6913" stop-color="#ff9327"/><stop offset="0.6939" stop-color="#ff9e30"/><stop offset="0.7000" stop-color="#ffae58"/><stop offset="0.7021" stop-color="#ffb468"/><stop offset="0.7091" stop-color="#fcc890"/><stop offset="0.7130" stop-color="#fcd3a4"/><stop offset="0.7176" stop-color="#fcdcb4"/><stop offset="0.7261" stop-color="#f7edcd"/><stop offset="0.7290" stop-color="#f6f0d2"/><stop offset="0.7304" stop-color="#f6f0d3"/><stop offset="0.7435" stop-color="#f7f2d6"/><stop offset="0.7522" stop-color="#f6f0d3"/><stop offset="0.7526" stop-color="#f6f0d2"/><stop offset="0.7609" stop-color="#fbe0b9"/><stop offset="0.7622" stop-color="#fcdcb4"/><stop offset="0.7652" stop-color="#fcd4a5"/><stop offset="0.7690" stop-color="#fcc890"/><stop offset="0.7753" stop-color="#ffb468"/><stop offset="0.7783" stop-color="#ffaa4e"/><stop offset="0.7820" stop-color="#ff9e30"/><stop offset="0.7892" stop-color="#ff7a14"/><stop offset="0.7964" stop-color="#ff4a10"/><stop offset="0.8000" stop-color="#ff2908"/><stop offset="0.8045" stop-color="#ff0a00"/><stop offset="0.8087" stop-color="#d10500"/><stop offset="0.8166" stop-color="#9c0000"/><stop offset="0.8174" stop-color="#970000"/><stop offset="0.8261" stop-color="#770000"/><stop offset="0.8478" stop-color="#5c0000"/><stop offset="1.0000" stop-color="#5b0000"/></linearGradient>
<linearGradient id="bm23" x1="0" y1="4" x2="0" y2="234" gradientUnits="userSpaceOnUse"><stop offset="0.0000" stop-color="#300000"/><stop offset="0.0000" stop-color="#300000"/><stop offset="0.3174" stop-color="#3c0000"/><stop offset="0.3826" stop-color="#620000"/><stop offset="0.4524" stop-color="#9c0000"/><stop offset="0.4913" stop-color="#ba0300"/><stop offset="0.6217" stop-color="#c60400"/><stop offset="0.6522" stop-color="#f50900"/><stop offset="0.6550" stop-color="#ff0a00"/><stop offset="0.6696" stop-color="#ff2b08"/><stop offset="0.6747" stop-color="#ff4a10"/><stop offset="0.6854" stop-color="#ff7a14"/><stop offset="0.6913" stop-color="#ff8e23"/><stop offset="0.6952" stop-color="#ff9e30"/><stop offset="0.7000" stop-color="#ffaa50"/><stop offset="0.7030" stop-color="#ffb468"/><stop offset="0.7098" stop-color="#fcc890"/><stop offset="0.7130" stop-color="#fcd2a1"/><stop offset="0.7182" stop-color="#fcdcb4"/><stop offset="0.7261" stop-color="#f7eccc"/><stop offset="0.7294" stop-color="#f6f0d2"/><stop offset="0.7304" stop-color="#f6f0d3"/><stop offset="0.7435" stop-color="#f7f2d6"/><stop offset="0.7522" stop-color="#f6f0d3"/><stop offset="0.7528" stop-color="#f6f0d2"/><stop offset="0.7609" stop-color="#fbe0b9"/><stop offset="0.7622" stop-color="#fcdcb4"/><stop offset="0.7652" stop-color="#fcd4a6"/><stop offset="0.7691" stop-color="#fcc890"/><stop offset="0.7755" stop-color="#ffb468"/><stop offset="0.7819" stop-color="#ff9e30"/><stop offset="0.7826" stop-color="#ff9a2d"/><stop offset="0.7890" stop-color="#ff7a14"/><stop offset="0.7962" stop-color="#ff4a10"/><stop offset="0.8000" stop-color="#ff2808"/><stop offset="0.8038" stop-color="#ff0a00"/><stop offset="0.8043" stop-color="#f80900"/><stop offset="0.8130" stop-color="#b00200"/><stop offset="0.8169" stop-color="#9c0000"/><stop offset="0.8217" stop-color="#810000"/><stop offset="0.8435" stop-color="#5e0000"/><stop offset="1.0000" stop-color="#5b0000"/></linearGradient>
<linearGradient id="bm24" x1="0" y1="4" x2="0" y2="234" gradientUnits="userSpaceOnUse"><stop offset="0.0000" stop-color="#300000"/><stop offset="0.0000" stop-color="#300000"/><stop offset="0.3174" stop-color="#3d0000"/><stop offset="0.3913" stop-color="#680000"/><stop offset="0.4582" stop-color="#9c0000"/><stop offset="0.4957" stop-color="#b70300"/><stop offset="0.6043" stop-color="#bc0300"/><stop offset="0.6304" stop-color="#cf0500"/><stop offset="0.6565" stop-color="#fe0a00"/><stop offset="0.6568" stop-color="#ff0a00"/><stop offset="0.6696" stop-color="#ff2406"/><stop offset="0.6760" stop-color="#ff4a10"/><stop offset="0.6869" stop-color="#ff7a14"/><stop offset="0.6913" stop-color="#ff891f"/><stop offset="0.6964" stop-color="#ff9e30"/><stop offset="0.7000" stop-color="#ffa748"/><stop offset="0.7038" stop-color="#ffb468"/><stop offset="0.7105" stop-color="#fcc890"/><stop offset="0.7130" stop-color="#fcd09e"/><stop offset="0.7189" stop-color="#fcdcb4"/><stop offset="0.7261" stop-color="#f7ebcb"/><stop offset="0.7297" stop-color="#f6f0d2"/><stop offset="0.7304" stop-color="#f6f0d3"/><stop offset="0.7435" stop-color="#f7f2d6"/><stop offset="0.7522" stop-color="#f6f0d3"/><stop offset="0.7529" stop-color="#f6f0d2"/><stop offset="0.7619" stop-color="#fcdcb4"/><stop offset="0.7652" stop-color="#fcd5a7"/><stop offset="0.7693" stop-color="#fcc890"/><stop offset="0.7757" stop-color="#ffb468"/><stop offset="0.7821" stop-color="#ff9e30"/><stop offset="0.7870" stop-color="#ff821b"/><stop offset="0.7887" stop-color="#ff7a14"/><stop offset="0.7962" stop-color="#ff4a10"/><stop offset="0.8037" stop-color="#ff0a00"/><stop offset="0.8043" stop-color="#f70900"/><stop offset="0.8130" stop-color="#b00200"/><stop offset="0.8169" stop-color="#9c0000"/><stop offset="0.8217" stop-color="#800000"/><stop offset="0.8435" stop-color="#5e0000"/><stop offset="1.0000" stop-color="#5b0000"/></linearGradient>
<linearGradient id="bm25" x1="0" y1="4" x2="0" y2="234" gradientUnits="userSpaceOnUse"><stop offset="0.0000" stop-color="#300000"/><stop offset="0.0000" stop-color="#300000"/><stop offset="0.3130" stop-color="#3c0000"/><stop offset="0.4000" stop-color="#6d0000"/><stop offset="0.4629" stop-color="#9c0000"/><stop offset="0.4957" stop-color="#b20200"/><stop offset="0.5913" stop-color="#b50200"/><stop offset="0.6261" stop-color="#c40400"/><stop offset="0.6565" stop-color="#f90900"/><stop offset="0.6589" stop-color="#ff0a00"/><stop offset="0.6696" stop-color="#ff1d05"/><stop offset="0.6778" stop-color="#ff4a10"/><stop offset="0.6870" stop-color="#ff7013"/><stop offset="0.6888" stop-color="#ff7a14"/><stop offset="0.6976" stop-color="#ff9e30"/><stop offset="0.7000" stop-color="#ffa43f"/><stop offset="0.7047" stop-color="#ffb468"/><stop offset="0.7111" stop-color="#fcc890"/><stop offset="0.7130" stop-color="#fcce9b"/><stop offset="0.7195" stop-color="#fcdcb4"/><stop offset="0.7261" stop-color="#f8eaca"/><stop offset="0.7300" stop-color="#f6f0d2"/><stop offset="0.7304" stop-color="#f6f0d2"/><stop offset="0.7435" stop-color="#f7f2d6"/><stop offset="0.7522" stop-color="#f6f1d3"/><stop offset="0.7531" stop-color="#f6f0d2"/><stop offset="0.7621" stop-color="#fcdcb4"/><stop offset="0.7652" stop-color="#fcd5a8"/><stop offset="0.7694" stop-color="#fcc890"/><stop offset="0.7757" stop-color="#ffb468"/><stop offset="0.7820" stop-color="#ff9e30"/><stop offset="0.7870" stop-color="#ff821a"/><stop offset="0.7886" stop-color="#ff7a14"/><stop offset="0.7961" stop-color="#ff4a10"/><stop offset="0.8036" stop-color="#ff0a00"/><stop offset="0.8043" stop-color="#f50900"/><stop offset="0.8130" stop-color="#b00200"/><stop offset="0.8168" stop-color="#9c0000"/><stop offset="0.8217" stop-color="#800000"/><stop offset="0.8435" stop-color="#5f0000"/><stop offset="1.0000" stop-color="#5b0000"/></linearGradient>
<linearGradient id="bm26" x1="0" y1="4" x2="0" y2="234" gradientUnits="userSpaceOnUse"><stop offset="0.0000" stop-color="#300000"/><stop offset="0.0000" stop-color="#300000"/><stop offset="0.3043" stop-color="#3c0000"/><stop offset="0.4000" stop-color="#6f0000"/><stop offset="0.4642" stop-color="#9c0000"/><stop offset="0.4957" stop-color="#b00200"/><stop offset="0.5913" stop-color="#b00200"/><stop offset="0.6261" stop-color="#c00400"/><stop offset="0.6605" stop-color="#ff0a00"/><stop offset="0.6609" stop-color="#ff0a00"/><stop offset="0.6696" stop-color="#ff1904"/><stop offset="0.6786" stop-color="#ff4a10"/><stop offset="0.6904" stop-color="#ff7a14"/><stop offset="0.6913" stop-color="#ff7d16"/><stop offset="0.6998" stop-color="#ff9e30"/><stop offset="0.7000" stop-color="#ff9f31"/><stop offset="0.7066" stop-color="#ffb468"/><stop offset="0.7130" stop-color="#fcc78e"/><stop offset="0.7136" stop-color="#fcc890"/><stop offset="0.7228" stop-color="#fcdcb4"/><stop offset="0.7261" stop-color="#fae3bf"/><stop offset="0.7304" stop-color="#f8eac9"/><stop offset="0.7390" stop-color="#f6f0d2"/><stop offset="0.7435" stop-color="#f6f1d4"/><stop offset="0.7522" stop-color="#f6f1d3"/><stop offset="0.7531" stop-color="#f6f0d2"/><stop offset="0.7635" stop-color="#fcdcb4"/><stop offset="0.7652" stop-color="#fcd9ae"/><stop offset="0.7706" stop-color="#fcc890"/><stop offset="0.7771" stop-color="#ffb468"/><stop offset="0.7835" stop-color="#ff9e30"/><stop offset="0.7899" stop-color="#ff7a14"/><stop offset="0.7957" stop-color="#ff4f10"/><stop offset="0.7965" stop-color="#ff4a10"/><stop offset="0.8041" stop-color="#ff0a00"/><stop offset="0.8043" stop-color="#fc0a00"/><stop offset="0.8130" stop-color="#b30200"/><stop offset="0.8174" stop-color="#9c0000"/><stop offset="0.8217" stop-color="#820000"/><stop offset="0.8435" stop-color="#5e0000"/><stop offset="1.0000" stop-color="#5b0000"/></linearGradient>
<linearGradient id="bm27" x1="0" y1="4" x2="0" y2="234" gradientUnits="userSpaceOnUse"><stop offset="0.0000" stop-color="#300000"/><stop offset="0.0000" stop-color="#300000"/><stop offset="0.3000" stop-color="#3c0000"/><stop offset="0.4217" stop-color="#7f0000"/><stop offset="0.4653" stop-color="#9c0000"/><stop offset="0.4957" stop-color="#af0200"/><stop offset="0.5870" stop-color="#a90100"/><stop offset="0.6261" stop-color="#bb0300"/><stop offset="0.6609" stop-color="#fb0a00"/><stop offset="0.6623" stop-color="#ff0a00"/><stop offset="0.6696" stop-color="#ff1603"/><stop offset="0.6800" stop-color="#ff4a10"/><stop offset="0.6913" stop-color="#ff7514"/><stop offset="0.6924" stop-color="#ff7a14"/><stop offset="0.7000" stop-color="#ff9629"/><stop offset="0.7017" stop-color="#ff9e30"/><stop offset="0.7090" stop-color="#ffb468"/><stop offset="0.7130" stop-color="#fdbf7e"/><stop offset="0.7171" stop-color="#fcc890"/><stop offset="0.7261" stop-color="#fcdcb3"/><stop offset="0.7263" stop-color="#fcdcb4"/><stop offset="0.7304" stop-color="#fae3bf"/><stop offset="0.7435" stop-color="#f6f0d2"/><stop offset="0.7436" stop-color="#f6f0d2"/><stop offset="0.7522" stop-color="#f6f0d3"/><stop offset="0.7531" stop-color="#f6f0d2"/><stop offset="0.7652" stop-color="#fcddb5"/><stop offset="0.7655" stop-color="#fcdcb4"/><stop offset="0.7724" stop-color="#fcc890"/><stop offset="0.7739" stop-color="#fdc487"/><stop offset="0.7791" stop-color="#ffb468"/><stop offset="0.7826" stop-color="#ffa84a"/><stop offset="0.7853" stop-color="#ff9e30"/><stop offset="0.7912" stop-color="#ff7a14"/><stop offset="0.7957" stop-color="#ff5511"/><stop offset="0.7974" stop-color="#ff4a10"/><stop offset="0.8043" stop-color="#ff0d01"/><stop offset="0.8049" stop-color="#ff0a00"/><stop offset="0.8130" stop-color="#b70300"/><stop offset="0.8180" stop-color="#9c0000"/><stop offset="0.8217" stop-color="#850000"/><stop offset="0.8435" stop-color="#5e0000"/><stop offset="1.0000" stop-color="#5b0000"/></linearGradient>
<linearGradient id="bm28" x1="0" y1="4" x2="0" y2="234" gradientUnits="userSpaceOnUse"><stop offset="0.0000" stop-color="#300000"/><stop offset="0.0000" stop-color="#300000"/><stop offset="0.2957" stop-color="#3c0000"/><stop offset="0.4261" stop-color="#840000"/><stop offset="0.4655" stop-color="#9c0000"/><stop offset="0.4957" stop-color="#ad0200"/><stop offset="0.5870" stop-color="#a60100"/><stop offset="0.6304" stop-color="#be0300"/><stop offset="0.6636" stop-color="#ff0a00"/><stop offset="0.6652" stop-color="#ff0c01"/><stop offset="0.6696" stop-color="#ff1302"/><stop offset="0.6816" stop-color="#ff4a10"/><stop offset="0.6913" stop-color="#ff6b13"/><stop offset="0.6946" stop-color="#ff7a14"/><stop offset="0.7000" stop-color="#ff8c22"/><stop offset="0.7040" stop-color="#ff9e30"/><stop offset="0.7121" stop-color="#ffb468"/><stop offset="0.7174" stop-color="#fdc182"/><stop offset="0.7208" stop-color="#fcc890"/><stop offset="0.7304" stop-color="#fcdcb4"/><stop offset="0.7305" stop-color="#fcdcb4"/><stop offset="0.7435" stop-color="#f7edcd"/><stop offset="0.7497" stop-color="#f6f0d2"/><stop offset="0.7522" stop-color="#f6f0d3"/><stop offset="0.7533" stop-color="#f6f0d2"/><stop offset="0.7609" stop-color="#f8e8c6"/><stop offset="0.7670" stop-color="#fcdcb4"/><stop offset="0.7696" stop-color="#fcd7ab"/><stop offset="0.7745" stop-color="#fcc890"/><stop offset="0.7811" stop-color="#ffb468"/><stop offset="0.7826" stop-color="#ffaf5b"/><stop offset="0.7866" stop-color="#ff9e30"/><stop offset="0.7913" stop-color="#ff7d16"/><stop offset="0.7918" stop-color="#ff7a14"/><stop offset="0.7981" stop-color="#ff4a10"/><stop offset="0.8000" stop-color="#ff360b"/><stop offset="0.8060" stop-color="#ff0a00"/><stop offset="0.8087" stop-color="#e10700"/><stop offset="0.8174" stop-color="#a10100"/><stop offset="0.8187" stop-color="#9c0000"/><stop offset="0.8261" stop-color="#7a0000"/><stop offset="0.8435" stop-color="#5d0000"/><stop offset="1.0000" stop-color="#5b0000"/></linearGradient>
<linearGradient id="bm29" x1="0" y1="4" x2="0" y2="234" gradientUnits="userSpaceOnUse"><stop offset="0.0000" stop-color="#300000"/><stop offset="0.0000" stop-color="#300000"/><stop offset="0.2913" stop-color="#3c0000"/><stop offset="0.4348" stop-color="#8c0000"/><stop offset="0.4641" stop-color="#9c0000"/><stop offset="0.4957" stop-color="#ac0200"/><stop offset="0.5913" stop-color="#a40100"/><stop offset="0.6304" stop-color="#ba0300"/><stop offset="0.6648" stop-color="#ff0a00"/><stop offset="0.6696" stop-color="#ff1002"/><stop offset="0.6842" stop-color="#ff4a10"/><stop offset="0.6870" stop-color="#ff5211"/><stop offset="0.6970" stop-color="#ff7a14"/><stop offset="0.7000" stop-color="#ff831b"/><stop offset="0.7066" stop-color="#ff9e30"/><stop offset="0.7154" stop-color="#ffb468"/><stop offset="0.7242" stop-color="#fcc890"/><stop offset="0.7261" stop-color="#fccc98"/><stop offset="0.7354" stop-color="#fcdcb4"/><stop offset="0.7435" stop-color="#f8eac9"/><stop offset="0.7510" stop-color="#f6f0d2"/><stop offset="0.7522" stop-color="#f6f0d3"/><stop offset="0.7535" stop-color="#f6f0d2"/><stop offset="0.7609" stop-color="#f8ebca"/><stop offset="0.7696" stop-color="#fcdcb5"/><stop offset="0.7697" stop-color="#fcdcb4"/><stop offset="0.7764" stop-color="#fcc890"/><stop offset="0.7826" stop-color="#ffb66b"/><stop offset="0.7830" stop-color="#ffb468"/><stop offset="0.7877" stop-color="#ff9e30"/><stop offset="0.7913" stop-color="#ff831b"/><stop offset="0.7928" stop-color="#ff7a14"/><stop offset="0.7987" stop-color="#ff4a10"/><stop offset="0.8000" stop-color="#ff3b0c"/><stop offset="0.8065" stop-color="#ff0a00"/><stop offset="0.8087" stop-color="#e50700"/><stop offset="0.8174" stop-color="#a40100"/><stop offset="0.8192" stop-color="#9c0000"/><stop offset="0.8261" stop-color="#7a0000"/><stop offset="0.8435" stop-color="#5d0000"/><stop offset="1.0000" stop-color="#5b0000"/></linearGradient>
<linearGradient id="bm30" x1="0" y1="4" x2="0" y2="234" gradientUnits="userSpaceOnUse"><stop offset="0.0000" stop-color="#300000"/><stop offset="0.0000" stop-color="#300000"/><stop offset="0.2870" stop-color="#3c0000"/><stop offset="0.4478" stop-color="#970000"/><stop offset="0.4596" stop-color="#9c0000"/><stop offset="0.5000" stop-color="#aa0100"/><stop offset="0.5913" stop-color="#a20100"/><stop offset="0.6304" stop-color="#b60300"/><stop offset="0.6670" stop-color="#ff0a00"/><stop offset="0.6696" stop-color="#ff0d01"/><stop offset="0.6867" stop-color="#ff4a10"/><stop offset="0.6870" stop-color="#ff4b10"/><stop offset="0.7000" stop-color="#ff7a14"/><stop offset="0.7001" stop-color="#ff7a14"/><stop offset="0.7094" stop-color="#ff9e30"/><stop offset="0.7188" stop-color="#ffb468"/><stop offset="0.7282" stop-color="#fcc890"/><stop offset="0.7376" stop-color="#fcdcb4"/><stop offset="0.7391" stop-color="#fbdfb9"/><stop offset="0.7478" stop-color="#f7eccc"/><stop offset="0.7515" stop-color="#f6f0d2"/><stop offset="0.7522" stop-color="#f6f0d3"/><stop offset="0.7542" stop-color="#f6f0d2"/><stop offset="0.7609" stop-color="#f7eece"/><stop offset="0.7696" stop-color="#fae2bd"/><stop offset="0.7716" stop-color="#fcdcb4"/><stop offset="0.7784" stop-color="#fcc890"/><stop offset="0.7826" stop-color="#febc78"/><stop offset="0.7843" stop-color="#ffb468"/><stop offset="0.7887" stop-color="#ff9e30"/><stop offset="0.7913" stop-color="#ff8920"/><stop offset="0.7936" stop-color="#ff7a14"/><stop offset="0.7992" stop-color="#ff4a10"/><stop offset="0.8000" stop-color="#ff410e"/><stop offset="0.8070" stop-color="#ff0a00"/><stop offset="0.8087" stop-color="#ea0800"/><stop offset="0.8174" stop-color="#a70100"/><stop offset="0.8197" stop-color="#9c0000"/><stop offset="0.8261" stop-color="#7b0000"/><stop offset="0.8435" stop-color="#5c0000"/><stop offset="1.0000" stop-color="#5b0000"/></linearGradient>
<linearGradient id="bm31" x1="0" y1="4" x2="0" y2="234" gradientUnits="userSpaceOnUse"><stop offset="0.0000" stop-color="#300000"/><stop offset="0.0000" stop-color="#300000"/><stop offset="0.2826" stop-color="#3b0000"/><stop offset="0.4635" stop-color="#9c0000"/><stop offset="0.4913" stop-color="#aa0100"/><stop offset="0.5913" stop-color="#a10000"/><stop offset="0.6304" stop-color="#b30200"/><stop offset="0.6693" stop-color="#ff0a00"/><stop offset="0.6696" stop-color="#ff0a00"/><stop offset="0.6870" stop-color="#ff410e"/><stop offset="0.6890" stop-color="#ff4a10"/><stop offset="0.7000" stop-color="#ff6d13"/><stop offset="0.7025" stop-color="#ff7a14"/><stop offset="0.7121" stop-color="#ff9e30"/><stop offset="0.7218" stop-color="#ffb468"/><stop offset="0.7261" stop-color="#febd7a"/><stop offset="0.7310" stop-color="#fcc890"/><stop offset="0.7401" stop-color="#fcdcb4"/><stop offset="0.7435" stop-color="#fae4bf"/><stop offset="0.7518" stop-color="#f6f0d2"/><stop offset="0.7522" stop-color="#f6f0d2"/><stop offset="0.7609" stop-color="#f6f0d2"/><stop offset="0.7613" stop-color="#f6f0d2"/><stop offset="0.7696" stop-color="#f9e7c5"/><stop offset="0.7735" stop-color="#fcdcb4"/><stop offset="0.7805" stop-color="#fcc890"/><stop offset="0.7826" stop-color="#fdc284"/><stop offset="0.7855" stop-color="#ffb468"/><stop offset="0.7896" stop-color="#ff9e30"/><stop offset="0.7913" stop-color="#ff8f24"/><stop offset="0.7944" stop-color="#ff7a14"/><stop offset="0.7997" stop-color="#ff4a10"/><stop offset="0.8000" stop-color="#ff460f"/><stop offset="0.8074" stop-color="#ff0a00"/><stop offset="0.8087" stop-color="#ef0800"/><stop offset="0.8174" stop-color="#aa0100"/><stop offset="0.8206" stop-color="#9c0000"/><stop offset="0.8304" stop-color="#6e0000"/><stop offset="0.8522" stop-color="#5c0000"/><stop offset="1.0000" stop-color="#5b0000"/></linearGradient>
<linearGradient id="bm32" x1="0" y1="4" x2="0" y2="234" gradientUnits="userSpaceOnUse"><stop offset="0.0000" stop-color="#300000"/><stop offset="0.0000" stop-color="#300000"/><stop offset="0.2783" stop-color="#3b0000"/><stop offset="0.4648" stop-color="#9c0000"/><stop offset="0.4913" stop-color="#a90100"/><stop offset="0.5957" stop-color="#a10100"/><stop offset="0.6304" stop-color="#b00200"/><stop offset="0.6696" stop-color="#fb0a00"/><stop offset="0.6706" stop-color="#ff0a00"/><stop offset="0.6826" stop-color="#ff2908"/><stop offset="0.6917" stop-color="#ff4a10"/><stop offset="0.7000" stop-color="#ff6112"/><stop offset="0.7055" stop-color="#ff7a14"/><stop offset="0.7161" stop-color="#ff9e30"/><stop offset="0.7174" stop-color="#ffa137"/><stop offset="0.7252" stop-color="#ffb468"/><stop offset="0.7304" stop-color="#fdc07f"/><stop offset="0.7337" stop-color="#fcc890"/><stop offset="0.7417" stop-color="#fcdcb4"/><stop offset="0.7435" stop-color="#fbe0bb"/><stop offset="0.7520" stop-color="#f6f0d2"/><stop offset="0.7522" stop-color="#f6f0d2"/><stop offset="0.7609" stop-color="#f6f1d4"/><stop offset="0.7654" stop-color="#f6f0d2"/><stop offset="0.7696" stop-color="#f7edcd"/><stop offset="0.7756" stop-color="#fcdcb4"/><stop offset="0.7826" stop-color="#fcc890"/><stop offset="0.7827" stop-color="#fcc890"/><stop offset="0.7865" stop-color="#ffb468"/><stop offset="0.7903" stop-color="#ff9e30"/><stop offset="0.7913" stop-color="#ff9529"/><stop offset="0.7951" stop-color="#ff7a14"/><stop offset="0.8000" stop-color="#ff4b10"/><stop offset="0.8002" stop-color="#ff4a10"/><stop offset="0.8078" stop-color="#ff0a00"/><stop offset="0.8087" stop-color="#f40900"/><stop offset="0.8174" stop-color="#ad0200"/><stop offset="0.8211" stop-color="#9c0000"/><stop offset="0.8304" stop-color="#6d0000"/><stop offset="0.8522" stop-color="#5b0000"/><stop offset="1.0000" stop-color="#5b0000"/></linearGradient>
<linearGradient id="bm33" x1="0" y1="4" x2="0" y2="234" gradientUnits="userSpaceOnUse"><stop offset="0.0000" stop-color="#300000"/><stop offset="0.0000" stop-color="#300000"/><stop offset="0.2783" stop-color="#3c0000"/><stop offset="0.4661" stop-color="#9c0000"/><stop offset="0.4913" stop-color="#a80100"/><stop offset="0.6000" stop-color="#a10100"/><stop offset="0.6304" stop-color="#ad0200"/><stop offset="0.6729" stop-color="#ff0a00"/><stop offset="0.6739" stop-color="#ff0b00"/><stop offset="0.6957" stop-color="#ff4810"/><stop offset="0.6960" stop-color="#ff4a10"/><stop offset="0.7091" stop-color="#ff7a14"/><stop offset="0.7130" stop-color="#ff851c"/><stop offset="0.7193" stop-color="#ff9e30"/><stop offset="0.7282" stop-color="#ffb468"/><stop offset="0.7304" stop-color="#feb972"/><stop offset="0.7355" stop-color="#fcc890"/><stop offset="0.7391" stop-color="#fcd3a4"/><stop offset="0.7432" stop-color="#fcdcb4"/><stop offset="0.7522" stop-color="#f6f0d2"/><stop offset="0.7522" stop-color="#f6f0d2"/><stop offset="0.7609" stop-color="#f7f2d6"/><stop offset="0.7696" stop-color="#f6f1d3"/><stop offset="0.7703" stop-color="#f6f0d2"/><stop offset="0.7775" stop-color="#fcdcb4"/><stop offset="0.7826" stop-color="#fcce9b"/><stop offset="0.7837" stop-color="#fcc890"/><stop offset="0.7873" stop-color="#ffb468"/><stop offset="0.7909" stop-color="#ff9e30"/><stop offset="0.7913" stop-color="#ff9a2d"/><stop offset="0.7957" stop-color="#ff7a14"/><stop offset="0.8000" stop-color="#ff4f10"/><stop offset="0.8007" stop-color="#ff4a10"/><stop offset="0.8082" stop-color="#ff0a00"/><stop offset="0.8087" stop-color="#f80900"/><stop offset="0.8174" stop-color="#b00200"/><stop offset="0.8215" stop-color="#9c0000"/><stop offset="0.8304" stop-color="#6d0000"/><stop offset="0.8522" stop-color="#5b0000"/><stop offset="1.0000" stop-color="#5b0000"/></linearGradient>
<linearGradient id="bm34" x1="0" y1="4" x2="0" y2="234" gradientUnits="userSpaceOnUse"><stop offset="0.0000" stop-color="#300000"/><stop offset="0.0000" stop-color="#300000"/><stop offset="0.2783" stop-color="#3c0000"/><stop offset="0.4651" stop-color="#9c0000"/><stop offset="0.4913" stop-color="#a80100"/><stop offset="0.6087" stop-color="#a60100"/><stop offset="0.6304" stop-color="#ae0200"/><stop offset="0.6729" stop-color="#ff0a00"/><stop offset="0.6739" stop-color="#ff0b00"/><stop offset="0.6957" stop-color="#ff4810"/><stop offset="0.6960" stop-color="#ff4a10"/><stop offset="0.7091" stop-color="#ff7a14"/><stop offset="0.7130" stop-color="#ff851c"/><stop offset="0.7193" stop-color="#ff9e30"/><stop offset="0.7282" stop-color="#ffb468"/><stop offset="0.7304" stop-color="#feb972"/><stop offset="0.7355" stop-color="#fcc890"/><stop offset="0.7391" stop-color="#fcd3a4"/><stop offset="0.7432" stop-color="#fcdcb4"/><stop offset="0.7522" stop-color="#f6f0d2"/><stop offset="0.7522" stop-color="#f6f0d2"/><stop offset="0.7609" stop-color="#f7f2d6"/><stop offset="0.7696" stop-color="#f6f1d3"/><stop offset="0.7703" stop-color="#f6f0d2"/><stop offset="0.7775" stop-color="#fcdcb4"/><stop offset="0.7826" stop-color="#fcce9b"/><stop offset="0.7837" stop-color="#fcc890"/><stop offset="0.7873" stop-color="#ffb468"/><stop offset="0.7909" stop-color="#ff9e30"/><stop offset="0.7913" stop-color="#ff9a2d"/><stop offset="0.7957" stop-color="#ff7a14"/><stop offset="0.8000" stop-color="#ff4f10"/><stop offset="0.8007" stop-color="#ff4a10"/><stop offset="0.8082" stop-color="#ff0a00"/><stop offset="0.8087" stop-color="#f80900"/><stop offset="0.8174" stop-color="#b00200"/><stop offset="0.8215" stop-color="#9c0000"/><stop offset="0.8304" stop-color="#6d0000"/><stop offset="0.8522" stop-color="#5b0000"/><stop offset="1.0000" stop-color="#5b0000"/></linearGradient>
<linearGradient id="bm35" x1="0" y1="4" x2="0" y2="234" gradientUnits="userSpaceOnUse"><stop offset="0.0000" stop-color="#300000"/><stop offset="0.0000" stop-color="#300000"/><stop offset="0.2783" stop-color="#3c0000"/><stop offset="0.4644" stop-color="#9c0000"/><stop offset="0.4913" stop-color="#a90100"/><stop offset="0.6174" stop-color="#a80100"/><stop offset="0.6391" stop-color="#bd0300"/><stop offset="0.6709" stop-color="#ff0a00"/><stop offset="0.6783" stop-color="#ff1402"/><stop offset="0.6952" stop-color="#ff4a10"/><stop offset="0.7000" stop-color="#ff5511"/><stop offset="0.7094" stop-color="#ff7a14"/><stop offset="0.7130" stop-color="#ff851c"/><stop offset="0.7193" stop-color="#ff9e30"/><stop offset="0.7282" stop-color="#ffb468"/><stop offset="0.7304" stop-color="#feb972"/><stop offset="0.7355" stop-color="#fcc890"/><stop offset="0.7391" stop-color="#fcd3a4"/><stop offset="0.7432" stop-color="#fcdcb4"/><stop offset="0.7522" stop-color="#f6f0d2"/><stop offset="0.7522" stop-color="#f6f0d2"/><stop offset="0.7609" stop-color="#f7f2d6"/><stop offset="0.7696" stop-color="#f6f1d3"/><stop offset="0.7703" stop-color="#f6f0d2"/><stop offset="0.7775" stop-color="#fcdcb4"/><stop offset="0.7826" stop-color="#fcce9b"/><stop offset="0.7837" stop-color="#fcc890"/><stop offset="0.7873" stop-color="#ffb468"/><stop offset="0.7909" stop-color="#ff9e30"/><stop offset="0.7913" stop-color="#ff9a2d"/><stop offset="0.7957" stop-color="#ff7a14"/><stop offset="0.8000" stop-color="#ff4f10"/><stop offset="0.8007" stop-color="#ff4a10"/><stop offset="0.8082" stop-color="#ff0a00"/><stop offset="0.8087" stop-color="#f80900"/><stop offset="0.8174" stop-color="#b00200"/><stop offset="0.8215" stop-color="#9c0000"/><stop offset="0.8304" stop-color="#6d0000"/><stop offset="0.8522" stop-color="#5b0000"/><stop offset="1.0000" stop-color="#5b0000"/></linearGradient>
<linearGradient id="bm36" x1="0" y1="4" x2="0" y2="234" gradientUnits="userSpaceOnUse"><stop offset="0.0000" stop-color="#300000"/><stop offset="0.0000" stop-color="#300000"/><stop offset="0.2783" stop-color="#3c0000"/><stop offset="0.4644" stop-color="#9c0000"/><stop offset="0.4913" stop-color="#a90100"/><stop offset="0.6174" stop-color="#a80100"/><stop offset="0.6391" stop-color="#bd0300"/><stop offset="0.6709" stop-color="#ff0a00"/><stop offset="0.6783" stop-color="#ff1402"/><stop offset="0.6952" stop-color="#ff4a10"/><stop offset="0.7000" stop-color="#ff5511"/><stop offset="0.7094" stop-color="#ff7a14"/><stop offset="0.7130" stop-color="#ff851c"/><stop offset="0.7193" stop-color="#ff9e30"/><stop offset="0.7282" stop-color="#ffb468"/><stop offset="0.7304" stop-color="#feb972"/><stop offset="0.7355" stop-color="#fcc890"/><stop offset="0.7391" stop-color="#fcd3a4"/><stop offset="0.7432" stop-color="#fcdcb4"/><stop offset="0.7522" stop-color="#f6f0d2"/><stop offset="0.7522" stop-color="#f6f0d2"/><stop offset="0.7609" stop-color="#f7f2d6"/><stop offset="0.7696" stop-color="#f6f1d3"/><stop offset="0.7703" stop-color="#f6f0d2"/><stop offset="0.7775" stop-color="#fcdcb4"/><stop offset="0.7826" stop-color="#fcce9b"/><stop offset="0.7837" stop-color="#fcc890"/><stop offset="0.7873" stop-color="#ffb468"/><stop offset="0.7909" stop-color="#ff9e30"/><stop offset="0.7913" stop-color="#ff9a2d"/><stop offset="0.7957" stop-color="#ff7a14"/><stop offset="0.8000" stop-color="#ff4f10"/><stop offset="0.8007" stop-color="#ff4a10"/><stop offset="0.8082" stop-color="#ff0a00"/><stop offset="0.8087" stop-color="#f80900"/><stop offset="0.8174" stop-color="#b00200"/><stop offset="0.8215" stop-color="#9c0000"/><stop offset="0.8304" stop-color="#6d0000"/><stop offset="0.8522" stop-color="#5b0000"/><stop offset="1.0000" stop-color="#5b0000"/></linearGradient>
<linearGradient id="bm37" x1="0" y1="4" x2="0" y2="234" gradientUnits="userSpaceOnUse"><stop offset="0.0000" stop-color="#300000"/><stop offset="0.0000" stop-color="#300000"/><stop offset="0.2783" stop-color="#3c0000"/><stop offset="0.4644" stop-color="#9c0000"/><stop offset="0.4913" stop-color="#a90100"/><stop offset="0.6174" stop-color="#a80100"/><stop offset="0.6391" stop-color="#bd0300"/><stop offset="0.6709" stop-color="#ff0a00"/><stop offset="0.6783" stop-color="#ff1402"/><stop offset="0.6952" stop-color="#ff4a10"/><stop offset="0.7000" stop-color="#ff5511"/><stop offset="0.7094" stop-color="#ff7a14"/><stop offset="0.7130" stop-color="#ff851c"/><stop offset="0.7193" stop-color="#ff9e30"/><stop offset="0.7282" stop-color="#ffb468"/><stop offset="0.7304" stop-color="#feb972"/><stop offset="0.7355" stop-color="#fcc890"/><stop offset="0.7391" stop-color="#fcd3a4"/><stop offset="0.7432" stop-color="#fcdcb4"/><stop offset="0.7522" stop-color="#f6f0d2"/><stop offset="0.7522" stop-color="#f6f0d2"/><stop offset="0.7609" stop-color="#f7f2d6"/><stop offset="0.7696" stop-color="#f6f1d3"/><stop offset="0.7703" stop-color="#f6f0d2"/><stop offset="0.7775" stop-color="#fcdcb4"/><stop offset="0.7826" stop-color="#fcce9b"/><stop offset="0.7837" stop-color="#fcc890"/><stop offset="0.7873" stop-color="#ffb468"/><stop offset="0.7909" stop-color="#ff9e30"/><stop offset="0.7913" stop-color="#ff9a2d"/><stop offset="0.7957" stop-color="#ff7a14"/><stop offset="0.8000" stop-color="#ff4f10"/><stop offset="0.8007" stop-color="#ff4a10"/><stop offset="0.8082" stop-color="#ff0a00"/><stop offset="0.8087" stop-color="#f80900"/><stop offset="0.8174" stop-color="#b00200"/><stop offset="0.8215" stop-color="#9c0000"/><stop offset="0.8304" stop-color="#6d0000"/><stop offset="0.8522" stop-color="#5b0000"/><stop offset="1.0000" stop-color="#5b0000"/></linearGradient>
<clipPath id="clipb"><rect x="350" y="4" width="232" height="230"/></clipPath>
<linearGradient id="bs" x1="0" y1="4" x2="0" y2="234" gradientUnits="userSpaceOnUse"><stop offset="0.0000" stop-color="#350000"/><stop offset="0.4652" stop-color="#3d0000"/><stop offset="0.5435" stop-color="#600000"/><stop offset="0.5813" stop-color="#9c0000"/><stop offset="0.5826" stop-color="#9e0000"/><stop offset="0.6157" stop-color="#ff0a00"/><stop offset="0.6174" stop-color="#ff0d01"/><stop offset="0.6251" stop-color="#ff4a10"/><stop offset="0.6332" stop-color="#ff7a14"/><stop offset="0.6413" stop-color="#ff9e30"/><stop offset="0.6478" stop-color="#ffb05d"/><stop offset="0.6536" stop-color="#ffb468"/><stop offset="0.6565" stop-color="#ffb66c"/><stop offset="0.6703" stop-color="#fcc890"/><stop offset="0.6826" stop-color="#fcd8ad"/><stop offset="0.6861" stop-color="#fcdcb4"/><stop offset="0.6913" stop-color="#fae2bd"/><stop offset="0.7087" stop-color="#f7eccc"/><stop offset="0.7261" stop-color="#fae2bd"/><stop offset="0.7291" stop-color="#fcdcb4"/><stop offset="0.7391" stop-color="#fcc890"/><stop offset="0.7457" stop-color="#ffb468"/><stop offset="0.7522" stop-color="#ff9e30"/><stop offset="0.7609" stop-color="#ff881f"/><stop offset="0.7634" stop-color="#ff7a14"/><stop offset="0.7652" stop-color="#ff6c13"/><stop offset="0.7754" stop-color="#ff4a10"/><stop offset="0.7783" stop-color="#ff3d0d"/><stop offset="0.7848" stop-color="#ff4a10"/><stop offset="0.8043" stop-color="#ff6712"/><stop offset="0.8126" stop-color="#ff4a10"/><stop offset="0.8217" stop-color="#ff1f05"/><stop offset="0.8280" stop-color="#ff0a00"/><stop offset="0.8391" stop-color="#c40400"/><stop offset="0.8497" stop-color="#9c0000"/><stop offset="0.8565" stop-color="#800000"/><stop offset="0.9478" stop-color="#3b0000"/><stop offset="1.0000" stop-color="#660000"/></linearGradient>
</defs>
<rect x="0" y="0" width="602" height="285" fill="#ffffff" stroke="none"/>
<rect x="40" y="4" width="7" height="230" fill="url(#as)"/>
<g clip-path="url(#clipa)"><g filter="url(#hb)">
<rect x="40" y="-6" width="7.5" height="250" fill="url(#am0)"/>
<rect x="47" y="-6" width="7.5" height="250" fill="url(#am1)"/>
<rect x="54" y="-6" width="7.5" height="250" fill="url(#am2)"/>
<rect x="61" y="-6" width="7.5" height="250" fill="url(#am3)"/>
<rect x="68" y="-6" width="7.5" height="250" fill="url(#am4)"/>
<rect x="75" y="-6" width="7.5" height="250" fill="url(#am5)"/>
<rect x="82" y="-6" width="7.5" height="250" fill="url(#am6)"/>
<rect x="89" y="-6" width="7.5" height="250" fill="url(#am7)"/>
<rect x="96" y="-6" width="7.5" height="250" fill="url(#am8)"/>
<rect x="103" y="-6" width="7.5" height="250" fill="url(#am9)"/>
<rect x="110" y="-6" width="7.5" height="250" fill="url(#am10)"/>
<rect x="117" y="-6" width="7.5" height="250" fill="url(#am11)"/>
<rect x="124" y="-6" width="7.5" height="250" fill="url(#am12)"/>
<rect x="131" y="-6" width="7.5" height="250" fill="url(#am13)"/>
<rect x="138" y="-6" width="7.5" height="250" fill="url(#am14)"/>
<rect x="145" y="-6" width="7.5" height="250" fill="url(#am15)"/>
<rect x="152" y="-6" width="7.5" height="250" fill="url(#am16)"/>
<rect x="159" y="-6" width="7.5" height="250" fill="url(#am17)"/>
<rect x="166" y="-6" width="7.5" height="250" fill="url(#am18)"/>
<rect x="173" y="-6" width="7.5" height="250" fill="url(#am19)"/>
<rect x="180" y="-6" width="7.5" height="250" fill="url(#am20)"/>
<rect x="187" y="-6" width="7.5" height="250" fill="url(#am21)"/>
<rect x="194" y="-6" width="7.5" height="250" fill="url(#am22)"/>
<rect x="201" y="-6" width="7.5" height="250" fill="url(#am23)"/>
<rect x="208" y="-6" width="7.5" height="250" fill="url(#am24)"/>
<rect x="215" y="-6" width="7.5" height="250" fill="url(#am25)"/>
<rect x="222" y="-6" width="7.5" height="250" fill="url(#am26)"/>
<rect x="229" y="-6" width="7.5" height="250" fill="url(#am27)"/>
<rect x="236" y="-6" width="7.5" height="250" fill="url(#am28)"/>
<rect x="243" y="-6" width="7.5" height="250" fill="url(#am29)"/>
<rect x="250" y="-6" width="7.5" height="250" fill="url(#am30)"/>
<rect x="257" y="-6" width="7.5" height="250" fill="url(#am31)"/>
<rect x="264" y="-6" width="7.5" height="250" fill="url(#am32)"/>
<rect x="271" y="-6" width="7.5" height="250" fill="url(#am33)"/>
<rect x="278" y="-6" width="7.5" height="250" fill="url(#am34)"/>
<rect x="285" y="-6" width="7.5" height="250" fill="url(#am35)"/>
<rect x="292" y="-6" width="7.5" height="250" fill="url(#am36)"/>
<rect x="299" y="-6" width="7.5" height="250" fill="url(#am37)"/>
</g>
<g filter="url(#mb)"><ellipse cx="112" cy="214" rx="22" ry="8" fill="#200000" opacity="0.38"/><ellipse cx="68" cy="224" rx="15" ry="5" fill="#a00000" opacity="0.28"/><ellipse cx="131" cy="200" rx="7" ry="4" fill="#b00000" opacity="0.3"/><ellipse cx="120" cy="231" rx="26" ry="2.5" fill="#200000" opacity="0.35"/><ellipse cx="70" cy="204" rx="10" ry="4" fill="#300000" opacity="0.2"/><ellipse cx="155" cy="204" rx="20" ry="6" fill="#a00000" opacity="0.22"/><ellipse cx="176" cy="213" rx="8" ry="3" fill="#100000" opacity="0.5"/><ellipse cx="148" cy="218" rx="13" ry="6" fill="#200000" opacity="0.25"/><ellipse cx="208" cy="216" rx="10" ry="6" fill="#b00000" opacity="0.3"/><ellipse cx="275" cy="216" rx="12" ry="6" fill="#b00000" opacity="0.32"/><ellipse cx="240" cy="216" rx="25" ry="5" fill="#a00000" opacity="0.2"/><ellipse cx="245" cy="230" rx="42" ry="3.5" fill="#180000" opacity="0.4"/><ellipse cx="170" cy="230" rx="30" ry="3" fill="#200000" opacity="0.3"/><ellipse cx="240" cy="203" rx="30" ry="4" fill="#300000" opacity="0.15"/><ellipse cx="90" cy="20" rx="14" ry="6" fill="#602020" opacity="0.07"/><ellipse cx="150" cy="40" rx="18" ry="7" fill="#602020" opacity="0.06"/><ellipse cx="220" cy="25" rx="16" ry="6" fill="#602020" opacity="0.06"/><ellipse cx="120" cy="58" rx="16" ry="6" fill="#602020" opacity="0.06"/><ellipse cx="250" cy="55" rx="14" ry="6" fill="#602020" opacity="0.06"/></g>
</g>
<rect x="337.3" y="4" width="5.699999999999989" height="230" fill="url(#bs)"/>
<g clip-path="url(#clipb)"><g filter="url(#hb)">
<rect x="336" y="-6" width="7.5" height="250" fill="url(#bm0)"/>
<rect x="343" y="-6" width="7.5" height="250" fill="url(#bm1)"/>
<rect x="350" y="-6" width="7.5" height="250" fill="url(#bm2)"/>
<rect x="357" y="-6" width="7.5" height="250" fill="url(#bm3)"/>
<rect x="364" y="-6" width="7.5" height="250" fill="url(#bm4)"/>
<rect x="371" y="-6" width="7.5" height="250" fill="url(#bm5)"/>
<rect x="378" y="-6" width="7.5" height="250" fill="url(#bm6)"/>
<rect x="385" y="-6" width="7.5" height="250" fill="url(#bm7)"/>
<rect x="392" y="-6" width="7.5" height="250" fill="url(#bm8)"/>
<rect x="399" y="-6" width="7.5" height="250" fill="url(#bm9)"/>
<rect x="406" y="-6" width="7.5" height="250" fill="url(#bm10)"/>
<rect x="413" y="-6" width="7.5" height="250" fill="url(#bm11)"/>
<rect x="420" y="-6" width="7.5" height="250" fill="url(#bm12)"/>
<rect x="427" y="-6" width="7.5" height="250" fill="url(#bm13)"/>
<rect x="434" y="-6" width="7.5" height="250" fill="url(#bm14)"/>
<rect x="441" y="-6" width="7.5" height="250" fill="url(#bm15)"/>
<rect x="448" y="-6" width="7.5" height="250" fill="url(#bm16)"/>
<rect x="455" y="-6" width="7.5" height="250" fill="url(#bm17)"/>
<rect x="462" y="-6" width="7.5" height="250" fill="url(#bm18)"/>
<rect x="469" y="-6" width="7.5" height="250" fill="url(#bm19)"/>
<rect x="476" y="-6" width="7.5" height="250" fill="url(#bm20)"/>
<rect x="483" y="-6" width="7.5" height="250" fill="url(#bm21)"/>
<rect x="490" y="-6" width="7.5" height="250" fill="url(#bm22)"/>
<rect x="497" y="-6" width="7.5" height="250" fill="url(#bm23)"/>
<rect x="504" y="-6" width="7.5" height="250" fill="url(#bm24)"/>
<rect x="511" y="-6" width="7.5" height="250" fill="url(#bm25)"/>
<rect x="518" y="-6" width="7.5" height="250" fill="url(#bm26)"/>
<rect x="525" y="-6" width="7.5" height="250" fill="url(#bm27)"/>
<rect x="532" y="-6" width="7.5" height="250" fill="url(#bm28)"/>
<rect x="539" y="-6" width="7.5" height="250" fill="url(#bm29)"/>
<rect x="546" y="-6" width="7.5" height="250" fill="url(#bm30)"/>
<rect x="553" y="-6" width="7.5" height="250" fill="url(#bm31)"/>
<rect x="560" y="-6" width="7.5" height="250" fill="url(#bm32)"/>
<rect x="567" y="-6" width="7.5" height="250" fill="url(#bm33)"/>
<rect x="574" y="-6" width="7.5" height="250" fill="url(#bm34)"/>
<rect x="581" y="-6" width="7.5" height="250" fill="url(#bm35)"/>
<rect x="588" y="-6" width="7.5" height="250" fill="url(#bm36)"/>
<rect x="595" y="-6" width="7.5" height="250" fill="url(#bm37)"/>
</g>
<g filter="url(#mb)"><ellipse cx="395" cy="196.5" rx="9" ry="3" fill="#180000" opacity="0.45"/><ellipse cx="375" cy="209" rx="22" ry="4" fill="#a00000" opacity="0.25"/><ellipse cx="415" cy="216" rx="20" ry="4" fill="#a00000" opacity="0.25"/><ellipse cx="400" cy="230" rx="22" ry="3" fill="#180000" opacity="0.4"/><ellipse cx="360" cy="229" rx="10" ry="3" fill="#900000" opacity="0.2"/><ellipse cx="458" cy="210" rx="12" ry="5" fill="#a00000" opacity="0.2"/><ellipse cx="470" cy="230" rx="40" ry="3" fill="#180000" opacity="0.4"/><ellipse cx="550.5" cy="215" rx="12" ry="5" fill="#100000" opacity="0.45"/><ellipse cx="551" cy="200" rx="7" ry="3" fill="#b00000" opacity="0.3"/><ellipse cx="545" cy="230" rx="35" ry="3" fill="#180000" opacity="0.4"/><ellipse cx="520" cy="205" rx="14" ry="4" fill="#300000" opacity="0.2"/><ellipse cx="440" cy="222" rx="20" ry="3" fill="#300000" opacity="0.15"/><ellipse cx="376" cy="21" rx="22" ry="7" fill="#703030" opacity="0.09"/><ellipse cx="470" cy="14" rx="25" ry="6" fill="#703030" opacity="0.08"/><ellipse cx="540" cy="20" rx="20" ry="7" fill="#703030" opacity="0.08"/><ellipse cx="380" cy="46" rx="20" ry="6" fill="#703030" opacity="0.08"/><ellipse cx="450" cy="44" rx="26" ry="8" fill="#703030" opacity="0.09"/><ellipse cx="520" cy="50" rx="20" ry="6" fill="#703030" opacity="0.07"/><ellipse cx="560" cy="40" rx="12" ry="8" fill="#703030" opacity="0.07"/><ellipse cx="420" cy="28" rx="14" ry="5" fill="#703030" opacity="0.06"/></g>
</g>
<rect x="38" y="4" width="248" height="1" fill="#000"/>
<rect x="284.7" y="4" width="1" height="230" fill="#000"/>
<rect x="38" y="4" width="1" height="230" fill="#000"/>
<rect x="38" y="233" width="248" height="1" fill="#000"/>
<rect x="33" y="232.90" width="5" height="1.2" fill="#000"/>
<text x="30.2" y="236.10" font-size="9" text-anchor="end">0</text>
<rect x="35.5" y="223.31" width="2.5" height="1.3" fill="#000"/>
<rect x="33" y="213.82" width="5" height="1.2" fill="#000"/>
<text x="30.2" y="217.02" font-size="9" text-anchor="end">5</text>
<rect x="35.5" y="204.22" width="2.5" height="1.3" fill="#000"/>
<rect x="33" y="194.73" width="5" height="1.2" fill="#000"/>
<text x="30.2" y="197.93" font-size="9" text-anchor="end">10</text>
<rect x="35.5" y="185.14" width="2.5" height="1.3" fill="#000"/>
<rect x="33" y="175.65" width="5" height="1.2" fill="#000"/>
<text x="30.2" y="178.85" font-size="9" text-anchor="end">15</text>
<rect x="35.5" y="166.06" width="2.5" height="1.3" fill="#000"/>
<rect x="33" y="156.57" width="5" height="1.2" fill="#000"/>
<text x="30.2" y="159.77" font-size="9" text-anchor="end">20</text>
<rect x="35.5" y="146.97" width="2.5" height="1.3" fill="#000"/>
<rect x="33" y="137.48" width="5" height="1.2" fill="#000"/>
<text x="30.2" y="140.68" font-size="9" text-anchor="end">25</text>
<rect x="35.5" y="127.89" width="2.5" height="1.3" fill="#000"/>
<rect x="33" y="118.40" width="5" height="1.2" fill="#000"/>
<text x="30.2" y="121.60" font-size="9" text-anchor="end">30</text>
<rect x="35.5" y="108.81" width="2.5" height="1.3" fill="#000"/>
<rect x="33" y="99.32" width="5" height="1.2" fill="#000"/>
<text x="30.2" y="102.52" font-size="9" text-anchor="end">35</text>
<rect x="35.5" y="89.72" width="2.5" height="1.3" fill="#000"/>
<rect x="33" y="80.23" width="5" height="1.2" fill="#000"/>
<text x="30.2" y="83.43" font-size="9" text-anchor="end">40</text>
<rect x="35.5" y="70.64" width="2.5" height="1.3" fill="#000"/>
<rect x="33" y="61.15" width="5" height="1.2" fill="#000"/>
<text x="30.2" y="64.35" font-size="9" text-anchor="end">45</text>
<rect x="35.5" y="51.56" width="2.5" height="1.3" fill="#000"/>
<rect x="33" y="42.07" width="5" height="1.2" fill="#000"/>
<text x="30.2" y="45.27" font-size="9" text-anchor="end">50</text>
<rect x="35.5" y="32.48" width="2.5" height="1.3" fill="#000"/>
<rect x="33" y="22.98" width="5" height="1.2" fill="#000"/>
<text x="30.2" y="26.18" font-size="9" text-anchor="end">55</text>
<rect x="35.5" y="13.39" width="2.5" height="1.3" fill="#000"/>
<rect x="33" y="3.90" width="5" height="1.2" fill="#000"/>
<text x="30.2" y="7.10" font-size="9" text-anchor="end">60</text>
<rect x="53.50" y="234" width="1" height="4" fill="#000"/>
<text x="54.20" y="249.2" font-size="9" text-anchor="middle">50</text>
<rect x="92.00" y="234" width="1" height="2" fill="#000"/>
<rect x="130.50" y="234" width="1" height="4" fill="#000"/>
<text x="131.20" y="249.2" font-size="9" text-anchor="middle">100</text>
<rect x="169.00" y="234" width="1" height="2" fill="#000"/>
<rect x="207.50" y="234" width="1" height="4" fill="#000"/>
<text x="208.20" y="249.2" font-size="9" text-anchor="middle">150</text>
<rect x="246.00" y="234" width="1" height="2" fill="#000"/>
<rect x="284.50" y="234" width="1" height="4" fill="#000"/>
<text x="285.20" y="249.2" font-size="9" text-anchor="middle">200</text>
<rect x="334" y="4" width="248" height="1" fill="#000"/>
<rect x="580.7" y="4" width="1" height="230" fill="#000"/>
<rect x="334" y="4" width="1" height="230" fill="#000"/>
<rect x="334" y="233" width="248" height="1" fill="#000"/>
<rect x="329" y="232.90" width="5" height="1.2" fill="#000"/>
<text x="326.4" y="236.10" font-size="9" text-anchor="end">0</text>
<rect x="331.5" y="223.31" width="2.5" height="1.3" fill="#000"/>
<rect x="329" y="213.82" width="5" height="1.2" fill="#000"/>
<text x="326.4" y="217.02" font-size="9" text-anchor="end">5</text>
<rect x="331.5" y="204.22" width="2.5" height="1.3" fill="#000"/>
<rect x="329" y="194.73" width="5" height="1.2" fill="#000"/>
<text x="326.4" y="197.93" font-size="9" text-anchor="end">10</text>
<rect x="331.5" y="185.14" width="2.5" height="1.3" fill="#000"/>
<rect x="329" y="175.65" width="5" height="1.2" fill="#000"/>
<text x="326.4" y="178.85" font-size="9" text-anchor="end">15</text>
<rect x="331.5" y="166.06" width="2.5" height="1.3" fill="#000"/>
<rect x="329" y="156.57" width="5" height="1.2" fill="#000"/>
<text x="326.4" y="159.77" font-size="9" text-anchor="end">20</text>
<rect x="331.5" y="146.97" width="2.5" height="1.3" fill="#000"/>
<rect x="329" y="137.48" width="5" height="1.2" fill="#000"/>
<text x="326.4" y="140.68" font-size="9" text-anchor="end">25</text>
<rect x="331.5" y="127.89" width="2.5" height="1.3" fill="#000"/>
<rect x="329" y="118.40" width="5" height="1.2" fill="#000"/>
<text x="326.4" y="121.60" font-size="9" text-anchor="end">30</text>
<rect x="331.5" y="108.81" width="2.5" height="1.3" fill="#000"/>
<rect x="329" y="99.32" width="5" height="1.2" fill="#000"/>
<text x="326.4" y="102.52" font-size="9" text-anchor="end">35</text>
<rect x="331.5" y="89.72" width="2.5" height="1.3" fill="#000"/>
<rect x="329" y="80.23" width="5" height="1.2" fill="#000"/>
<text x="326.4" y="83.43" font-size="9" text-anchor="end">40</text>
<rect x="331.5" y="70.64" width="2.5" height="1.3" fill="#000"/>
<rect x="329" y="61.15" width="5" height="1.2" fill="#000"/>
<text x="326.4" y="64.35" font-size="9" text-anchor="end">45</text>
<rect x="331.5" y="51.56" width="2.5" height="1.3" fill="#000"/>
<rect x="329" y="42.07" width="5" height="1.2" fill="#000"/>
<text x="326.4" y="45.27" font-size="9" text-anchor="end">50</text>
<rect x="331.5" y="32.48" width="2.5" height="1.3" fill="#000"/>
<rect x="329" y="22.98" width="5" height="1.2" fill="#000"/>
<text x="326.4" y="26.18" font-size="9" text-anchor="end">55</text>
<rect x="331.5" y="13.39" width="2.5" height="1.3" fill="#000"/>
<rect x="329" y="3.90" width="5" height="1.2" fill="#000"/>
<text x="326.4" y="7.10" font-size="9" text-anchor="end">60</text>
<rect x="349.50" y="234" width="1" height="4" fill="#000"/>
<text x="350.20" y="249.2" font-size="9" text-anchor="middle">50</text>
<rect x="388.00" y="234" width="1" height="2" fill="#000"/>
<rect x="426.50" y="234" width="1" height="4" fill="#000"/>
<text x="427.20" y="249.2" font-size="9" text-anchor="middle">100</text>
<rect x="465.00" y="234" width="1" height="2" fill="#000"/>
<rect x="503.50" y="234" width="1" height="4" fill="#000"/>
<text x="504.20" y="249.2" font-size="9" text-anchor="middle">150</text>
<rect x="542.00" y="234" width="1" height="2" fill="#000"/>
<rect x="580.50" y="234" width="1" height="4" fill="#000"/>
<text x="581.20" y="249.2" font-size="9" text-anchor="middle">200</text>
<path d="M43.5 234.2 L45.3 240 L41.7 240 Z" fill="#000"/>
<rect x="43.2" y="239.5" width="0.6" height="8" fill="#333"/>
<path d="M339.6 234.2 L341.40000000000003 240 L337.8 240 Z" fill="#000"/>
<rect x="339.3" y="239.5" width="0.6" height="8" fill="#333"/>
<text x="8.8" y="260" font-size="12">Streched field</text>
<text x="305.4" y="260" font-size="12">Streched field</text>
<text x="82.2" y="266.5" font-size="14">Magnetic nozzle current (A)</text>
<text x="378.8" y="266.5" font-size="14">Magnetic nozzle current (A)</text>
<text x="162.5" y="282.2" font-size="13.5" text-anchor="middle">(a)</text>
<text x="459" y="282.2" font-size="13.5" text-anchor="middle">(b)</text>
<text transform="translate(9.4,228.2) rotate(-90)" font-size="12.2">Discriminator voltage or Ion-beam energy (V)</text>
<text transform="translate(305.2,228.6) rotate(-90)" font-size="12.2">Discriminator voltage or Ion-beam energy (V)</text>
<g fill="none" stroke="#14e014" stroke-width="2" clip-path="url(#clipa)">
<rect x="55.5" y="183.0" width="7.6" height="7.6"/>
<rect x="70.2" y="180.7" width="7.6" height="7.6"/>
<rect x="85.0" y="185.5" width="7.6" height="7.6"/>
<rect x="99.6" y="187.5" width="7.6" height="7.6"/>
<rect x="114.2" y="187.5" width="7.6" height="7.6"/>
<rect x="128.9" y="186.5" width="7.6" height="7.6"/>
<rect x="143.9" y="186.9" width="7.6" height="7.6"/>
<rect x="158.5" y="190.2" width="7.6" height="7.6"/>
<rect x="173.0" y="187.5" width="7.6" height="7.6"/>
<rect x="187.9" y="191.9" width="7.6" height="7.6"/>
<rect x="202.5" y="194.9" width="7.6" height="7.6"/>
<rect x="217.4" y="196.0" width="7.6" height="7.6"/>
<rect x="232.0" y="188.9" width="7.6" height="7.6"/>
<rect x="246.6" y="190.4" width="7.6" height="7.6"/>
<rect x="261.4" y="188.9" width="7.6" height="7.6"/>
<rect x="275.9" y="188.9" width="7.6" height="7.6"/>
</g>
<g fill="none" stroke="#1a1aee" stroke-width="2.1" clip-path="url(#clipb)">
<circle cx="357.0" cy="182.4" r="4.35"/>
<circle cx="371.5" cy="182.6" r="4.35"/>
<circle cx="386.3" cy="181.2" r="4.35"/>
<circle cx="400.6" cy="185.8" r="4.35"/>
<circle cx="415.4" cy="184.5" r="4.35"/>
<circle cx="429.8" cy="184.5" r="4.35"/>
<circle cx="444.5" cy="186.6" r="4.35"/>
<circle cx="459.2" cy="185.0" r="4.35"/>
<circle cx="473.5" cy="183.5" r="4.35"/>
<circle cx="488.2" cy="187.8" r="4.35"/>
<circle cx="502.8" cy="188.8" r="4.35"/>
<circle cx="517.4" cy="187.8" r="4.35"/>
<circle cx="532.0" cy="187.0" r="4.35"/>
<circle cx="546.5" cy="186.5" r="4.35"/>
<circle cx="560.8" cy="187.7" r="4.35"/>
<circle cx="575.4" cy="187.5" r="4.35"/>
</g>
<path d="M567 196.5 L574 195 L581 195 L581 198.5 L572 198.5 Z" fill="#0a0000"/>
<rect x="584" y="6" width="5.2" height="38.9" fill="#300202"/>
<rect x="584" y="44.6" width="5.2" height="19.6" fill="#9c0808"/>
<rect x="584" y="63.9" width="5.2" height="19.6" fill="#fa1010"/>
<rect x="584" y="83.2" width="5.2" height="19.6" fill="#ff4a10"/>
<rect x="584" y="102.5" width="5.2" height="19.6" fill="#ff7a14"/>
<rect x="584" y="121.8" width="5.2" height="19.6" fill="#ff9e30"/>
<rect x="584" y="141.1" width="5.2" height="19.6" fill="#ffb468"/>
<rect x="584" y="160.4" width="5.2" height="19.6" fill="#fcc890"/>
<rect x="584" y="179.7" width="5.2" height="19.6" fill="#fcdcb4"/>
<rect x="584" y="199" width="5.2" height="19.7" fill="#f6f0d2"/>
<text x="590.2" y="23.5" font-size="9">0</text>
<text x="590.2" y="62.5" font-size="9">0.2</text>
<text x="590.2" y="101.1" font-size="9">0.4</text>
<text x="590.2" y="139.5" font-size="9">0.6</text>
<text x="590.2" y="178.3" font-size="9">0.8</text>
<text x="590.2" y="217.3" font-size="9">1</text>
</svg>
</body></html>
